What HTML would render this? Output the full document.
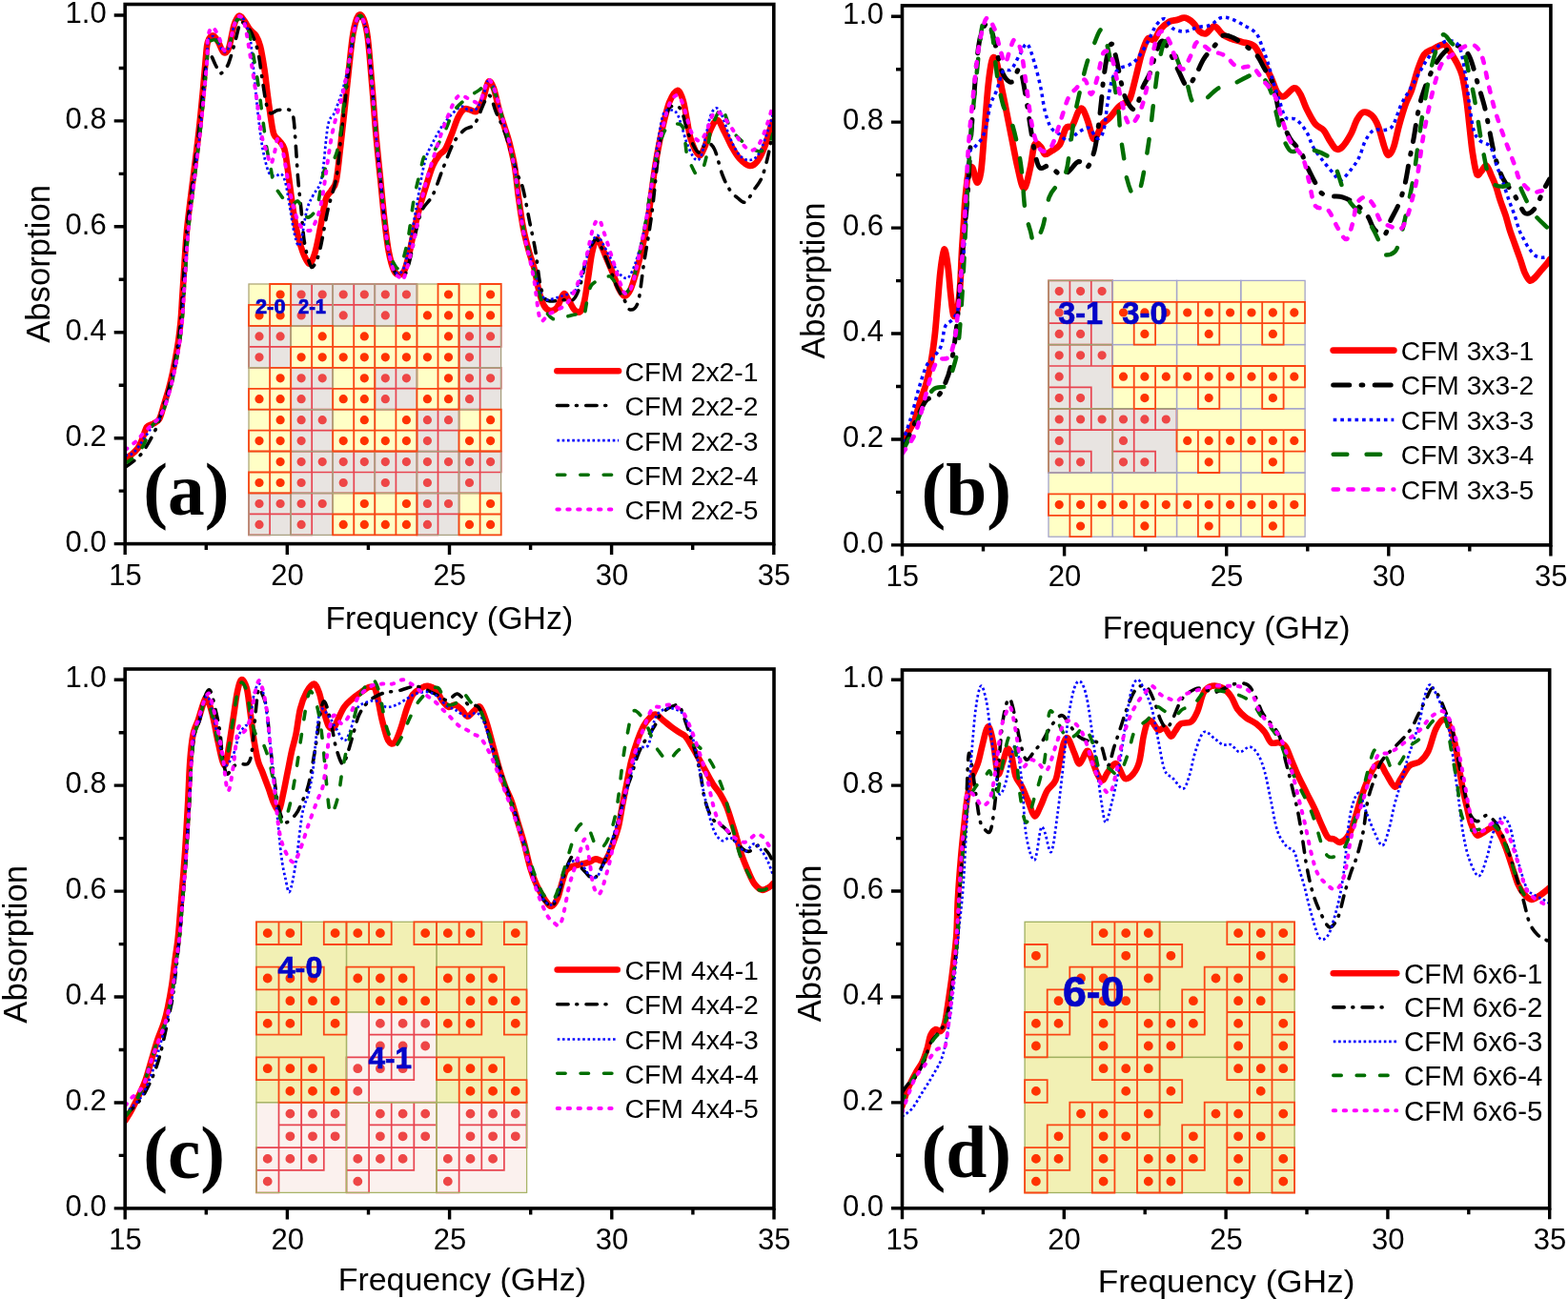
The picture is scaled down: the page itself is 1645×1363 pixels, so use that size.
<!DOCTYPE html>
<html><head><meta charset="utf-8"><title>Absorption spectra CFM</title>
<style>html,body{margin:0;padding:0;background:#fff;width:1645px;height:1363px;overflow:hidden}svg{display:block}</style>
</head><body>
<svg width="1645" height="1363" viewBox="0 0 1645 1363" font-family="'Liberation Sans', Arial, sans-serif">
<rect width="1645" height="1363" fill="#fff"/>
<rect x="261" y="298" width="44.6" height="44.4" fill="#ffffc6"/>
<rect x="305.1" y="298" width="44.6" height="44.4" fill="#e8e4e1"/>
<rect x="349.2" y="298" width="44.6" height="44.4" fill="#e8e4e1"/>
<rect x="393.3" y="298" width="44.6" height="44.4" fill="#e8e4e1"/>
<rect x="437.4" y="298" width="44.6" height="44.4" fill="#ffffc6"/>
<rect x="481.5" y="298" width="44.6" height="44.4" fill="#ffffc6"/>
<rect x="261" y="341.9" width="44.6" height="44.4" fill="#e8e4e1"/>
<rect x="305.1" y="341.9" width="44.6" height="44.4" fill="#ffffc6"/>
<rect x="349.2" y="341.9" width="44.6" height="44.4" fill="#ffffc6"/>
<rect x="393.3" y="341.9" width="44.6" height="44.4" fill="#ffffc6"/>
<rect x="437.4" y="341.9" width="44.6" height="44.4" fill="#ffffc6"/>
<rect x="481.5" y="341.9" width="44.6" height="44.4" fill="#e8e4e1"/>
<rect x="261" y="385.8" width="44.6" height="44.4" fill="#ffffc6"/>
<rect x="305.1" y="385.8" width="44.6" height="44.4" fill="#e8e4e1"/>
<rect x="349.2" y="385.8" width="44.6" height="44.4" fill="#ffffc6"/>
<rect x="393.3" y="385.8" width="44.6" height="44.4" fill="#e8e4e1"/>
<rect x="437.4" y="385.8" width="44.6" height="44.4" fill="#ffffc6"/>
<rect x="481.5" y="385.8" width="44.6" height="44.4" fill="#e8e4e1"/>
<rect x="261" y="429.7" width="44.6" height="44.4" fill="#ffffc6"/>
<rect x="305.1" y="429.7" width="44.6" height="44.4" fill="#e8e4e1"/>
<rect x="349.2" y="429.7" width="44.6" height="44.4" fill="#ffffc6"/>
<rect x="393.3" y="429.7" width="44.6" height="44.4" fill="#ffffc6"/>
<rect x="437.4" y="429.7" width="44.6" height="44.4" fill="#e8e4e1"/>
<rect x="481.5" y="429.7" width="44.6" height="44.4" fill="#ffffc6"/>
<rect x="261" y="473.6" width="44.6" height="44.4" fill="#ffffc6"/>
<rect x="305.1" y="473.6" width="44.6" height="44.4" fill="#e8e4e1"/>
<rect x="349.2" y="473.6" width="44.6" height="44.4" fill="#e8e4e1"/>
<rect x="393.3" y="473.6" width="44.6" height="44.4" fill="#e8e4e1"/>
<rect x="437.4" y="473.6" width="44.6" height="44.4" fill="#e8e4e1"/>
<rect x="481.5" y="473.6" width="44.6" height="44.4" fill="#e8e4e1"/>
<rect x="261" y="517.5" width="44.6" height="44.4" fill="#e8e4e1"/>
<rect x="305.1" y="517.5" width="44.6" height="44.4" fill="#e8e4e1"/>
<rect x="349.2" y="517.5" width="44.6" height="44.4" fill="#ffffc6"/>
<rect x="393.3" y="517.5" width="44.6" height="44.4" fill="#ffffc6"/>
<rect x="437.4" y="517.5" width="44.6" height="44.4" fill="#e8e4e1"/>
<rect x="481.5" y="517.5" width="44.6" height="44.4" fill="#ffffc6"/>
<path d="M305.1 298h22.1v21.9h-22.1zM327.1 298h22.1v21.9h-22.1zM305.1 319.9h22.1v21.9h-22.1zM349.2 298h22.1v21.9h-22.1zM371.2 298h22.1v21.9h-22.1zM349.2 319.9h22.1v21.9h-22.1zM393.3 298h22.1v21.9h-22.1zM415.4 298h22.1v21.9h-22.1zM393.3 319.9h22.1v21.9h-22.1zM261 341.9h22.1v21.9h-22.1zM283.1 341.9h22.1v21.9h-22.1zM261 363.9h22.1v21.9h-22.1zM481.5 341.9h22.1v21.9h-22.1zM503.6 341.9h22.1v21.9h-22.1zM481.5 363.9h22.1v21.9h-22.1zM305.1 385.8h22.1v21.9h-22.1zM327.1 385.8h22.1v21.9h-22.1zM305.1 407.8h22.1v21.9h-22.1zM393.3 385.8h22.1v21.9h-22.1zM415.4 385.8h22.1v21.9h-22.1zM393.3 407.8h22.1v21.9h-22.1zM481.5 385.8h22.1v21.9h-22.1zM503.6 385.8h22.1v21.9h-22.1zM481.5 407.8h22.1v21.9h-22.1zM305.1 429.7h22.1v21.9h-22.1zM327.1 429.7h22.1v21.9h-22.1zM305.1 451.6h22.1v21.9h-22.1zM437.4 429.7h22.1v21.9h-22.1zM459.5 429.7h22.1v21.9h-22.1zM437.4 451.6h22.1v21.9h-22.1zM305.1 473.6h22.1v21.9h-22.1zM327.1 473.6h22.1v21.9h-22.1zM305.1 495.5h22.1v21.9h-22.1zM349.2 473.6h22.1v21.9h-22.1zM371.2 473.6h22.1v21.9h-22.1zM349.2 495.5h22.1v21.9h-22.1zM393.3 473.6h22.1v21.9h-22.1zM415.4 473.6h22.1v21.9h-22.1zM393.3 495.5h22.1v21.9h-22.1zM437.4 473.6h22.1v21.9h-22.1zM459.5 473.6h22.1v21.9h-22.1zM437.4 495.5h22.1v21.9h-22.1zM481.5 473.6h22.1v21.9h-22.1zM503.6 473.6h22.1v21.9h-22.1zM481.5 495.5h22.1v21.9h-22.1zM261 517.5h22.1v21.9h-22.1zM283.1 517.5h22.1v21.9h-22.1zM261 539.5h22.1v21.9h-22.1zM305.1 517.5h22.1v21.9h-22.1zM327.1 517.5h22.1v21.9h-22.1zM305.1 539.5h22.1v21.9h-22.1zM437.4 517.5h22.1v21.9h-22.1zM459.5 517.5h22.1v21.9h-22.1zM437.4 539.5h22.1v21.9h-22.1z" fill="none" stroke="#e84450" stroke-width="1.7"/>
<rect x="261" y="298" width="44.1" height="43.9" fill="none" stroke="#b0a878" stroke-width="1.3"/>
<rect x="305.1" y="298" width="44.1" height="43.9" fill="none" stroke="#a8a080" stroke-width="1.3"/>
<rect x="349.2" y="298" width="44.1" height="43.9" fill="none" stroke="#a8a080" stroke-width="1.3"/>
<rect x="393.3" y="298" width="44.1" height="43.9" fill="none" stroke="#a8a080" stroke-width="1.3"/>
<rect x="437.4" y="298" width="44.1" height="43.9" fill="none" stroke="#b0a878" stroke-width="1.3"/>
<rect x="481.5" y="298" width="44.1" height="43.9" fill="none" stroke="#b0a878" stroke-width="1.3"/>
<rect x="261" y="341.9" width="44.1" height="43.9" fill="none" stroke="#a8a080" stroke-width="1.3"/>
<rect x="305.1" y="341.9" width="44.1" height="43.9" fill="none" stroke="#b0a878" stroke-width="1.3"/>
<rect x="349.2" y="341.9" width="44.1" height="43.9" fill="none" stroke="#b0a878" stroke-width="1.3"/>
<rect x="393.3" y="341.9" width="44.1" height="43.9" fill="none" stroke="#b0a878" stroke-width="1.3"/>
<rect x="437.4" y="341.9" width="44.1" height="43.9" fill="none" stroke="#b0a878" stroke-width="1.3"/>
<rect x="481.5" y="341.9" width="44.1" height="43.9" fill="none" stroke="#a8a080" stroke-width="1.3"/>
<rect x="261" y="385.8" width="44.1" height="43.9" fill="none" stroke="#b0a878" stroke-width="1.3"/>
<rect x="305.1" y="385.8" width="44.1" height="43.9" fill="none" stroke="#a8a080" stroke-width="1.3"/>
<rect x="349.2" y="385.8" width="44.1" height="43.9" fill="none" stroke="#b0a878" stroke-width="1.3"/>
<rect x="393.3" y="385.8" width="44.1" height="43.9" fill="none" stroke="#a8a080" stroke-width="1.3"/>
<rect x="437.4" y="385.8" width="44.1" height="43.9" fill="none" stroke="#b0a878" stroke-width="1.3"/>
<rect x="481.5" y="385.8" width="44.1" height="43.9" fill="none" stroke="#a8a080" stroke-width="1.3"/>
<rect x="261" y="429.7" width="44.1" height="43.9" fill="none" stroke="#b0a878" stroke-width="1.3"/>
<rect x="305.1" y="429.7" width="44.1" height="43.9" fill="none" stroke="#a8a080" stroke-width="1.3"/>
<rect x="349.2" y="429.7" width="44.1" height="43.9" fill="none" stroke="#b0a878" stroke-width="1.3"/>
<rect x="393.3" y="429.7" width="44.1" height="43.9" fill="none" stroke="#b0a878" stroke-width="1.3"/>
<rect x="437.4" y="429.7" width="44.1" height="43.9" fill="none" stroke="#a8a080" stroke-width="1.3"/>
<rect x="481.5" y="429.7" width="44.1" height="43.9" fill="none" stroke="#b0a878" stroke-width="1.3"/>
<rect x="261" y="473.6" width="44.1" height="43.9" fill="none" stroke="#b0a878" stroke-width="1.3"/>
<rect x="305.1" y="473.6" width="44.1" height="43.9" fill="none" stroke="#a8a080" stroke-width="1.3"/>
<rect x="349.2" y="473.6" width="44.1" height="43.9" fill="none" stroke="#a8a080" stroke-width="1.3"/>
<rect x="393.3" y="473.6" width="44.1" height="43.9" fill="none" stroke="#a8a080" stroke-width="1.3"/>
<rect x="437.4" y="473.6" width="44.1" height="43.9" fill="none" stroke="#a8a080" stroke-width="1.3"/>
<rect x="481.5" y="473.6" width="44.1" height="43.9" fill="none" stroke="#a8a080" stroke-width="1.3"/>
<rect x="261" y="517.5" width="44.1" height="43.9" fill="none" stroke="#a8a080" stroke-width="1.3"/>
<rect x="305.1" y="517.5" width="44.1" height="43.9" fill="none" stroke="#a8a080" stroke-width="1.3"/>
<rect x="349.2" y="517.5" width="44.1" height="43.9" fill="none" stroke="#b0a878" stroke-width="1.3"/>
<rect x="393.3" y="517.5" width="44.1" height="43.9" fill="none" stroke="#b0a878" stroke-width="1.3"/>
<rect x="437.4" y="517.5" width="44.1" height="43.9" fill="none" stroke="#a8a080" stroke-width="1.3"/>
<rect x="481.5" y="517.5" width="44.1" height="43.9" fill="none" stroke="#b0a878" stroke-width="1.3"/>
<path d="M283.1 298h22.1v21.9h-22.1zM261 319.9h22.1v21.9h-22.1zM283.1 319.9h22.1v21.9h-22.1zM459.5 298h22.1v21.9h-22.1zM437.4 319.9h22.1v21.9h-22.1zM459.5 319.9h22.1v21.9h-22.1zM503.6 298h22.1v21.9h-22.1zM481.5 319.9h22.1v21.9h-22.1zM503.6 319.9h22.1v21.9h-22.1zM327.1 341.9h22.1v21.9h-22.1zM305.1 363.9h22.1v21.9h-22.1zM327.1 363.9h22.1v21.9h-22.1zM371.2 341.9h22.1v21.9h-22.1zM349.2 363.9h22.1v21.9h-22.1zM371.2 363.9h22.1v21.9h-22.1zM415.4 341.9h22.1v21.9h-22.1zM393.3 363.9h22.1v21.9h-22.1zM415.4 363.9h22.1v21.9h-22.1zM459.5 341.9h22.1v21.9h-22.1zM437.4 363.9h22.1v21.9h-22.1zM459.5 363.9h22.1v21.9h-22.1zM283.1 385.8h22.1v21.9h-22.1zM261 407.8h22.1v21.9h-22.1zM283.1 407.8h22.1v21.9h-22.1zM371.2 385.8h22.1v21.9h-22.1zM349.2 407.8h22.1v21.9h-22.1zM371.2 407.8h22.1v21.9h-22.1zM459.5 385.8h22.1v21.9h-22.1zM437.4 407.8h22.1v21.9h-22.1zM459.5 407.8h22.1v21.9h-22.1zM283.1 429.7h22.1v21.9h-22.1zM261 451.6h22.1v21.9h-22.1zM283.1 451.6h22.1v21.9h-22.1zM371.2 429.7h22.1v21.9h-22.1zM349.2 451.6h22.1v21.9h-22.1zM371.2 451.6h22.1v21.9h-22.1zM415.4 429.7h22.1v21.9h-22.1zM393.3 451.6h22.1v21.9h-22.1zM415.4 451.6h22.1v21.9h-22.1zM503.6 429.7h22.1v21.9h-22.1zM481.5 451.6h22.1v21.9h-22.1zM503.6 451.6h22.1v21.9h-22.1zM283.1 473.6h22.1v21.9h-22.1zM261 495.5h22.1v21.9h-22.1zM283.1 495.5h22.1v21.9h-22.1zM371.2 517.5h22.1v21.9h-22.1zM349.2 539.5h22.1v21.9h-22.1zM371.2 539.5h22.1v21.9h-22.1zM415.4 517.5h22.1v21.9h-22.1zM393.3 539.5h22.1v21.9h-22.1zM415.4 539.5h22.1v21.9h-22.1zM503.6 517.5h22.1v21.9h-22.1zM481.5 539.5h22.1v21.9h-22.1zM503.6 539.5h22.1v21.9h-22.1z" fill="none" stroke="#fa4614" stroke-width="1.8"/>
<path d="M311.5 309a4.6 4.6 0 1 0 9.2 0a4.6 4.6 0 1 0 -9.2 0M333.6 309a4.6 4.6 0 1 0 9.2 0a4.6 4.6 0 1 0 -9.2 0M311.5 330.9a4.6 4.6 0 1 0 9.2 0a4.6 4.6 0 1 0 -9.2 0M355.6 309a4.6 4.6 0 1 0 9.2 0a4.6 4.6 0 1 0 -9.2 0M377.7 309a4.6 4.6 0 1 0 9.2 0a4.6 4.6 0 1 0 -9.2 0M355.6 330.9a4.6 4.6 0 1 0 9.2 0a4.6 4.6 0 1 0 -9.2 0M399.7 309a4.6 4.6 0 1 0 9.2 0a4.6 4.6 0 1 0 -9.2 0M421.8 309a4.6 4.6 0 1 0 9.2 0a4.6 4.6 0 1 0 -9.2 0M399.7 330.9a4.6 4.6 0 1 0 9.2 0a4.6 4.6 0 1 0 -9.2 0M267.4 352.9a4.6 4.6 0 1 0 9.2 0a4.6 4.6 0 1 0 -9.2 0M289.5 352.9a4.6 4.6 0 1 0 9.2 0a4.6 4.6 0 1 0 -9.2 0M267.4 374.8a4.6 4.6 0 1 0 9.2 0a4.6 4.6 0 1 0 -9.2 0M487.9 352.9a4.6 4.6 0 1 0 9.2 0a4.6 4.6 0 1 0 -9.2 0M510 352.9a4.6 4.6 0 1 0 9.2 0a4.6 4.6 0 1 0 -9.2 0M487.9 374.8a4.6 4.6 0 1 0 9.2 0a4.6 4.6 0 1 0 -9.2 0M311.5 396.8a4.6 4.6 0 1 0 9.2 0a4.6 4.6 0 1 0 -9.2 0M333.6 396.8a4.6 4.6 0 1 0 9.2 0a4.6 4.6 0 1 0 -9.2 0M311.5 418.7a4.6 4.6 0 1 0 9.2 0a4.6 4.6 0 1 0 -9.2 0M399.7 396.8a4.6 4.6 0 1 0 9.2 0a4.6 4.6 0 1 0 -9.2 0M421.8 396.8a4.6 4.6 0 1 0 9.2 0a4.6 4.6 0 1 0 -9.2 0M399.7 418.7a4.6 4.6 0 1 0 9.2 0a4.6 4.6 0 1 0 -9.2 0M487.9 396.8a4.6 4.6 0 1 0 9.2 0a4.6 4.6 0 1 0 -9.2 0M510 396.8a4.6 4.6 0 1 0 9.2 0a4.6 4.6 0 1 0 -9.2 0M487.9 418.7a4.6 4.6 0 1 0 9.2 0a4.6 4.6 0 1 0 -9.2 0M311.5 440.7a4.6 4.6 0 1 0 9.2 0a4.6 4.6 0 1 0 -9.2 0M333.6 440.7a4.6 4.6 0 1 0 9.2 0a4.6 4.6 0 1 0 -9.2 0M311.5 462.6a4.6 4.6 0 1 0 9.2 0a4.6 4.6 0 1 0 -9.2 0M443.8 440.7a4.6 4.6 0 1 0 9.2 0a4.6 4.6 0 1 0 -9.2 0M465.9 440.7a4.6 4.6 0 1 0 9.2 0a4.6 4.6 0 1 0 -9.2 0M443.8 462.6a4.6 4.6 0 1 0 9.2 0a4.6 4.6 0 1 0 -9.2 0M311.5 484.6a4.6 4.6 0 1 0 9.2 0a4.6 4.6 0 1 0 -9.2 0M333.6 484.6a4.6 4.6 0 1 0 9.2 0a4.6 4.6 0 1 0 -9.2 0M311.5 506.5a4.6 4.6 0 1 0 9.2 0a4.6 4.6 0 1 0 -9.2 0M355.6 484.6a4.6 4.6 0 1 0 9.2 0a4.6 4.6 0 1 0 -9.2 0M377.7 484.6a4.6 4.6 0 1 0 9.2 0a4.6 4.6 0 1 0 -9.2 0M355.6 506.5a4.6 4.6 0 1 0 9.2 0a4.6 4.6 0 1 0 -9.2 0M399.7 484.6a4.6 4.6 0 1 0 9.2 0a4.6 4.6 0 1 0 -9.2 0M421.8 484.6a4.6 4.6 0 1 0 9.2 0a4.6 4.6 0 1 0 -9.2 0M399.7 506.5a4.6 4.6 0 1 0 9.2 0a4.6 4.6 0 1 0 -9.2 0M443.8 484.6a4.6 4.6 0 1 0 9.2 0a4.6 4.6 0 1 0 -9.2 0M465.9 484.6a4.6 4.6 0 1 0 9.2 0a4.6 4.6 0 1 0 -9.2 0M443.8 506.5a4.6 4.6 0 1 0 9.2 0a4.6 4.6 0 1 0 -9.2 0M487.9 484.6a4.6 4.6 0 1 0 9.2 0a4.6 4.6 0 1 0 -9.2 0M510 484.6a4.6 4.6 0 1 0 9.2 0a4.6 4.6 0 1 0 -9.2 0M487.9 506.5a4.6 4.6 0 1 0 9.2 0a4.6 4.6 0 1 0 -9.2 0M267.4 528.5a4.6 4.6 0 1 0 9.2 0a4.6 4.6 0 1 0 -9.2 0M289.5 528.5a4.6 4.6 0 1 0 9.2 0a4.6 4.6 0 1 0 -9.2 0M267.4 550.4a4.6 4.6 0 1 0 9.2 0a4.6 4.6 0 1 0 -9.2 0M311.5 528.5a4.6 4.6 0 1 0 9.2 0a4.6 4.6 0 1 0 -9.2 0M333.6 528.5a4.6 4.6 0 1 0 9.2 0a4.6 4.6 0 1 0 -9.2 0M311.5 550.4a4.6 4.6 0 1 0 9.2 0a4.6 4.6 0 1 0 -9.2 0M443.8 528.5a4.6 4.6 0 1 0 9.2 0a4.6 4.6 0 1 0 -9.2 0M465.9 528.5a4.6 4.6 0 1 0 9.2 0a4.6 4.6 0 1 0 -9.2 0M443.8 550.4a4.6 4.6 0 1 0 9.2 0a4.6 4.6 0 1 0 -9.2 0" fill="#ee4646"/>
<path d="M289.5 309a4.6 4.6 0 1 0 9.2 0a4.6 4.6 0 1 0 -9.2 0M267.4 330.9a4.6 4.6 0 1 0 9.2 0a4.6 4.6 0 1 0 -9.2 0M289.5 330.9a4.6 4.6 0 1 0 9.2 0a4.6 4.6 0 1 0 -9.2 0M465.9 309a4.6 4.6 0 1 0 9.2 0a4.6 4.6 0 1 0 -9.2 0M443.8 330.9a4.6 4.6 0 1 0 9.2 0a4.6 4.6 0 1 0 -9.2 0M465.9 330.9a4.6 4.6 0 1 0 9.2 0a4.6 4.6 0 1 0 -9.2 0M510 309a4.6 4.6 0 1 0 9.2 0a4.6 4.6 0 1 0 -9.2 0M487.9 330.9a4.6 4.6 0 1 0 9.2 0a4.6 4.6 0 1 0 -9.2 0M510 330.9a4.6 4.6 0 1 0 9.2 0a4.6 4.6 0 1 0 -9.2 0M333.6 352.9a4.6 4.6 0 1 0 9.2 0a4.6 4.6 0 1 0 -9.2 0M311.5 374.8a4.6 4.6 0 1 0 9.2 0a4.6 4.6 0 1 0 -9.2 0M333.6 374.8a4.6 4.6 0 1 0 9.2 0a4.6 4.6 0 1 0 -9.2 0M377.7 352.9a4.6 4.6 0 1 0 9.2 0a4.6 4.6 0 1 0 -9.2 0M355.6 374.8a4.6 4.6 0 1 0 9.2 0a4.6 4.6 0 1 0 -9.2 0M377.7 374.8a4.6 4.6 0 1 0 9.2 0a4.6 4.6 0 1 0 -9.2 0M421.8 352.9a4.6 4.6 0 1 0 9.2 0a4.6 4.6 0 1 0 -9.2 0M399.7 374.8a4.6 4.6 0 1 0 9.2 0a4.6 4.6 0 1 0 -9.2 0M421.8 374.8a4.6 4.6 0 1 0 9.2 0a4.6 4.6 0 1 0 -9.2 0M465.9 352.9a4.6 4.6 0 1 0 9.2 0a4.6 4.6 0 1 0 -9.2 0M443.8 374.8a4.6 4.6 0 1 0 9.2 0a4.6 4.6 0 1 0 -9.2 0M465.9 374.8a4.6 4.6 0 1 0 9.2 0a4.6 4.6 0 1 0 -9.2 0M289.5 396.8a4.6 4.6 0 1 0 9.2 0a4.6 4.6 0 1 0 -9.2 0M267.4 418.7a4.6 4.6 0 1 0 9.2 0a4.6 4.6 0 1 0 -9.2 0M289.5 418.7a4.6 4.6 0 1 0 9.2 0a4.6 4.6 0 1 0 -9.2 0M377.7 396.8a4.6 4.6 0 1 0 9.2 0a4.6 4.6 0 1 0 -9.2 0M355.6 418.7a4.6 4.6 0 1 0 9.2 0a4.6 4.6 0 1 0 -9.2 0M377.7 418.7a4.6 4.6 0 1 0 9.2 0a4.6 4.6 0 1 0 -9.2 0M465.9 396.8a4.6 4.6 0 1 0 9.2 0a4.6 4.6 0 1 0 -9.2 0M443.8 418.7a4.6 4.6 0 1 0 9.2 0a4.6 4.6 0 1 0 -9.2 0M465.9 418.7a4.6 4.6 0 1 0 9.2 0a4.6 4.6 0 1 0 -9.2 0M289.5 440.7a4.6 4.6 0 1 0 9.2 0a4.6 4.6 0 1 0 -9.2 0M267.4 462.6a4.6 4.6 0 1 0 9.2 0a4.6 4.6 0 1 0 -9.2 0M289.5 462.6a4.6 4.6 0 1 0 9.2 0a4.6 4.6 0 1 0 -9.2 0M377.7 440.7a4.6 4.6 0 1 0 9.2 0a4.6 4.6 0 1 0 -9.2 0M355.6 462.6a4.6 4.6 0 1 0 9.2 0a4.6 4.6 0 1 0 -9.2 0M377.7 462.6a4.6 4.6 0 1 0 9.2 0a4.6 4.6 0 1 0 -9.2 0M421.8 440.7a4.6 4.6 0 1 0 9.2 0a4.6 4.6 0 1 0 -9.2 0M399.7 462.6a4.6 4.6 0 1 0 9.2 0a4.6 4.6 0 1 0 -9.2 0M421.8 462.6a4.6 4.6 0 1 0 9.2 0a4.6 4.6 0 1 0 -9.2 0M510 440.7a4.6 4.6 0 1 0 9.2 0a4.6 4.6 0 1 0 -9.2 0M487.9 462.6a4.6 4.6 0 1 0 9.2 0a4.6 4.6 0 1 0 -9.2 0M510 462.6a4.6 4.6 0 1 0 9.2 0a4.6 4.6 0 1 0 -9.2 0M289.5 484.6a4.6 4.6 0 1 0 9.2 0a4.6 4.6 0 1 0 -9.2 0M267.4 506.5a4.6 4.6 0 1 0 9.2 0a4.6 4.6 0 1 0 -9.2 0M289.5 506.5a4.6 4.6 0 1 0 9.2 0a4.6 4.6 0 1 0 -9.2 0M377.7 528.5a4.6 4.6 0 1 0 9.2 0a4.6 4.6 0 1 0 -9.2 0M355.6 550.4a4.6 4.6 0 1 0 9.2 0a4.6 4.6 0 1 0 -9.2 0M377.7 550.4a4.6 4.6 0 1 0 9.2 0a4.6 4.6 0 1 0 -9.2 0M421.8 528.5a4.6 4.6 0 1 0 9.2 0a4.6 4.6 0 1 0 -9.2 0M399.7 550.4a4.6 4.6 0 1 0 9.2 0a4.6 4.6 0 1 0 -9.2 0M421.8 550.4a4.6 4.6 0 1 0 9.2 0a4.6 4.6 0 1 0 -9.2 0M510 528.5a4.6 4.6 0 1 0 9.2 0a4.6 4.6 0 1 0 -9.2 0M487.9 550.4a4.6 4.6 0 1 0 9.2 0a4.6 4.6 0 1 0 -9.2 0M510 550.4a4.6 4.6 0 1 0 9.2 0a4.6 4.6 0 1 0 -9.2 0" fill="#ff3300"/>
<text x="268" y="328.8" font-family="'Liberation Sans', Arial, sans-serif" font-weight="bold" font-size="21.2" fill="#0404c8" stroke="#0404c8" stroke-width="0.7" textLength="31.5" lengthAdjust="spacingAndGlyphs">2-0</text>
<text x="313" y="328.8" font-family="'Liberation Sans', Arial, sans-serif" font-weight="bold" font-size="21.2" fill="#0404c8" stroke="#0404c8" stroke-width="0.7" textLength="29" lengthAdjust="spacingAndGlyphs">2-1</text>
<rect x="1100" y="294.4" width="67.8" height="67.7" fill="#e8e4e1"/>
<rect x="1167.3" y="294.4" width="67.8" height="67.7" fill="#ffffc6"/>
<rect x="1234.5" y="294.4" width="67.8" height="67.7" fill="#ffffc6"/>
<rect x="1301.8" y="294.4" width="67.8" height="67.7" fill="#ffffc6"/>
<rect x="1100" y="361.6" width="67.8" height="67.7" fill="#e8e4e1"/>
<rect x="1167.3" y="361.6" width="67.8" height="67.7" fill="#ffffc6"/>
<rect x="1234.5" y="361.6" width="67.8" height="67.7" fill="#ffffc6"/>
<rect x="1301.8" y="361.6" width="67.8" height="67.7" fill="#ffffc6"/>
<rect x="1100" y="428.8" width="67.8" height="67.7" fill="#e8e4e1"/>
<rect x="1167.3" y="428.8" width="67.8" height="67.7" fill="#e8e4e1"/>
<rect x="1234.5" y="428.8" width="67.8" height="67.7" fill="#ffffc6"/>
<rect x="1301.8" y="428.8" width="67.8" height="67.7" fill="#ffffc6"/>
<rect x="1100" y="496" width="67.8" height="67.7" fill="#ffffc6"/>
<rect x="1167.3" y="496" width="67.8" height="67.7" fill="#ffffc6"/>
<rect x="1234.5" y="496" width="67.8" height="67.7" fill="#ffffc6"/>
<rect x="1301.8" y="496" width="67.8" height="67.7" fill="#ffffc6"/>
<path d="M1100 294.4h22.4v22.4h-22.4zM1122.4 294.4h22.4v22.4h-22.4zM1144.8 294.4h22.4v22.4h-22.4zM1100 316.8h22.4v22.4h-22.4zM1100 339.2h22.4v22.4h-22.4zM1122.4 339.2h22.4v22.4h-22.4zM1100 361.6h22.4v22.4h-22.4zM1122.4 361.6h22.4v22.4h-22.4zM1144.8 361.6h22.4v22.4h-22.4zM1100 384h22.4v22.4h-22.4zM1100 406.4h22.4v22.4h-22.4zM1122.4 406.4h22.4v22.4h-22.4zM1100 428.8h22.4v22.4h-22.4zM1122.4 428.8h22.4v22.4h-22.4zM1144.8 428.8h22.4v22.4h-22.4zM1100 451.2h22.4v22.4h-22.4zM1100 473.6h22.4v22.4h-22.4zM1122.4 473.6h22.4v22.4h-22.4zM1167.3 428.8h22.4v22.4h-22.4zM1189.7 428.8h22.4v22.4h-22.4zM1212.1 428.8h22.4v22.4h-22.4zM1167.3 451.2h22.4v22.4h-22.4zM1167.3 473.6h22.4v22.4h-22.4zM1189.7 473.6h22.4v22.4h-22.4z" fill="none" stroke="#e84450" stroke-width="1.7"/>
<rect x="1100" y="294.4" width="67.3" height="67.2" fill="none" stroke="#a0a070" stroke-width="1.3"/>
<rect x="1167.3" y="294.4" width="67.3" height="67.2" fill="none" stroke="#a4a4cc" stroke-width="1.3"/>
<rect x="1234.5" y="294.4" width="67.3" height="67.2" fill="none" stroke="#a4a4cc" stroke-width="1.3"/>
<rect x="1301.8" y="294.4" width="67.3" height="67.2" fill="none" stroke="#a4a4cc" stroke-width="1.3"/>
<rect x="1100" y="361.6" width="67.3" height="67.2" fill="none" stroke="#a0a070" stroke-width="1.3"/>
<rect x="1167.3" y="361.6" width="67.3" height="67.2" fill="none" stroke="#a4a4cc" stroke-width="1.3"/>
<rect x="1234.5" y="361.6" width="67.3" height="67.2" fill="none" stroke="#a4a4cc" stroke-width="1.3"/>
<rect x="1301.8" y="361.6" width="67.3" height="67.2" fill="none" stroke="#a4a4cc" stroke-width="1.3"/>
<rect x="1100" y="428.8" width="67.3" height="67.2" fill="none" stroke="#a0a070" stroke-width="1.3"/>
<rect x="1167.3" y="428.8" width="67.3" height="67.2" fill="none" stroke="#a0a070" stroke-width="1.3"/>
<rect x="1234.5" y="428.8" width="67.3" height="67.2" fill="none" stroke="#a4a4cc" stroke-width="1.3"/>
<rect x="1301.8" y="428.8" width="67.3" height="67.2" fill="none" stroke="#a4a4cc" stroke-width="1.3"/>
<rect x="1100" y="496" width="67.3" height="67.2" fill="none" stroke="#a4a4cc" stroke-width="1.3"/>
<rect x="1167.3" y="496" width="67.3" height="67.2" fill="none" stroke="#a4a4cc" stroke-width="1.3"/>
<rect x="1234.5" y="496" width="67.3" height="67.2" fill="none" stroke="#a4a4cc" stroke-width="1.3"/>
<rect x="1301.8" y="496" width="67.3" height="67.2" fill="none" stroke="#a4a4cc" stroke-width="1.3"/>
<path d="M1167.3 316.8h22.4v22.4h-22.4zM1189.7 316.8h22.4v22.4h-22.4zM1212.1 316.8h22.4v22.4h-22.4zM1189.7 339.2h22.4v22.4h-22.4zM1234.5 316.8h22.4v22.4h-22.4zM1256.9 316.8h22.4v22.4h-22.4zM1279.4 316.8h22.4v22.4h-22.4zM1256.9 339.2h22.4v22.4h-22.4zM1301.8 316.8h22.4v22.4h-22.4zM1324.2 316.8h22.4v22.4h-22.4zM1346.6 316.8h22.4v22.4h-22.4zM1324.2 339.2h22.4v22.4h-22.4zM1167.3 384h22.4v22.4h-22.4zM1189.7 384h22.4v22.4h-22.4zM1212.1 384h22.4v22.4h-22.4zM1189.7 406.4h22.4v22.4h-22.4zM1234.5 384h22.4v22.4h-22.4zM1256.9 384h22.4v22.4h-22.4zM1279.4 384h22.4v22.4h-22.4zM1256.9 406.4h22.4v22.4h-22.4zM1301.8 384h22.4v22.4h-22.4zM1324.2 384h22.4v22.4h-22.4zM1346.6 384h22.4v22.4h-22.4zM1324.2 406.4h22.4v22.4h-22.4zM1234.5 451.2h22.4v22.4h-22.4zM1256.9 451.2h22.4v22.4h-22.4zM1279.4 451.2h22.4v22.4h-22.4zM1256.9 473.6h22.4v22.4h-22.4zM1301.8 451.2h22.4v22.4h-22.4zM1324.2 451.2h22.4v22.4h-22.4zM1346.6 451.2h22.4v22.4h-22.4zM1324.2 473.6h22.4v22.4h-22.4zM1100 518.4h22.4v22.4h-22.4zM1122.4 518.4h22.4v22.4h-22.4zM1144.8 518.4h22.4v22.4h-22.4zM1122.4 540.8h22.4v22.4h-22.4zM1167.3 518.4h22.4v22.4h-22.4zM1189.7 518.4h22.4v22.4h-22.4zM1212.1 518.4h22.4v22.4h-22.4zM1189.7 540.8h22.4v22.4h-22.4zM1234.5 518.4h22.4v22.4h-22.4zM1256.9 518.4h22.4v22.4h-22.4zM1279.4 518.4h22.4v22.4h-22.4zM1256.9 540.8h22.4v22.4h-22.4zM1301.8 518.4h22.4v22.4h-22.4zM1324.2 518.4h22.4v22.4h-22.4zM1346.6 518.4h22.4v22.4h-22.4zM1324.2 540.8h22.4v22.4h-22.4z" fill="none" stroke="#fa4614" stroke-width="1.8"/>
<path d="M1106.6 305.6a4.6 4.6 0 1 0 9.2 0a4.6 4.6 0 1 0 -9.2 0M1129 305.6a4.6 4.6 0 1 0 9.2 0a4.6 4.6 0 1 0 -9.2 0M1151.5 305.6a4.6 4.6 0 1 0 9.2 0a4.6 4.6 0 1 0 -9.2 0M1106.6 328a4.6 4.6 0 1 0 9.2 0a4.6 4.6 0 1 0 -9.2 0M1106.6 350.4a4.6 4.6 0 1 0 9.2 0a4.6 4.6 0 1 0 -9.2 0M1129 350.4a4.6 4.6 0 1 0 9.2 0a4.6 4.6 0 1 0 -9.2 0M1106.6 372.8a4.6 4.6 0 1 0 9.2 0a4.6 4.6 0 1 0 -9.2 0M1129 372.8a4.6 4.6 0 1 0 9.2 0a4.6 4.6 0 1 0 -9.2 0M1151.5 372.8a4.6 4.6 0 1 0 9.2 0a4.6 4.6 0 1 0 -9.2 0M1106.6 395.2a4.6 4.6 0 1 0 9.2 0a4.6 4.6 0 1 0 -9.2 0M1106.6 417.6a4.6 4.6 0 1 0 9.2 0a4.6 4.6 0 1 0 -9.2 0M1129 417.6a4.6 4.6 0 1 0 9.2 0a4.6 4.6 0 1 0 -9.2 0M1106.6 440a4.6 4.6 0 1 0 9.2 0a4.6 4.6 0 1 0 -9.2 0M1129 440a4.6 4.6 0 1 0 9.2 0a4.6 4.6 0 1 0 -9.2 0M1151.5 440a4.6 4.6 0 1 0 9.2 0a4.6 4.6 0 1 0 -9.2 0M1106.6 462.4a4.6 4.6 0 1 0 9.2 0a4.6 4.6 0 1 0 -9.2 0M1106.6 484.8a4.6 4.6 0 1 0 9.2 0a4.6 4.6 0 1 0 -9.2 0M1129 484.8a4.6 4.6 0 1 0 9.2 0a4.6 4.6 0 1 0 -9.2 0M1173.9 440a4.6 4.6 0 1 0 9.2 0a4.6 4.6 0 1 0 -9.2 0M1196.3 440a4.6 4.6 0 1 0 9.2 0a4.6 4.6 0 1 0 -9.2 0M1218.7 440a4.6 4.6 0 1 0 9.2 0a4.6 4.6 0 1 0 -9.2 0M1173.9 462.4a4.6 4.6 0 1 0 9.2 0a4.6 4.6 0 1 0 -9.2 0M1173.9 484.8a4.6 4.6 0 1 0 9.2 0a4.6 4.6 0 1 0 -9.2 0M1196.3 484.8a4.6 4.6 0 1 0 9.2 0a4.6 4.6 0 1 0 -9.2 0" fill="#ee4646"/>
<path d="M1173.9 328a4.6 4.6 0 1 0 9.2 0a4.6 4.6 0 1 0 -9.2 0M1196.3 328a4.6 4.6 0 1 0 9.2 0a4.6 4.6 0 1 0 -9.2 0M1218.7 328a4.6 4.6 0 1 0 9.2 0a4.6 4.6 0 1 0 -9.2 0M1196.3 350.4a4.6 4.6 0 1 0 9.2 0a4.6 4.6 0 1 0 -9.2 0M1241.1 328a4.6 4.6 0 1 0 9.2 0a4.6 4.6 0 1 0 -9.2 0M1263.6 328a4.6 4.6 0 1 0 9.2 0a4.6 4.6 0 1 0 -9.2 0M1286 328a4.6 4.6 0 1 0 9.2 0a4.6 4.6 0 1 0 -9.2 0M1263.6 350.4a4.6 4.6 0 1 0 9.2 0a4.6 4.6 0 1 0 -9.2 0M1308.4 328a4.6 4.6 0 1 0 9.2 0a4.6 4.6 0 1 0 -9.2 0M1330.8 328a4.6 4.6 0 1 0 9.2 0a4.6 4.6 0 1 0 -9.2 0M1353.2 328a4.6 4.6 0 1 0 9.2 0a4.6 4.6 0 1 0 -9.2 0M1330.8 350.4a4.6 4.6 0 1 0 9.2 0a4.6 4.6 0 1 0 -9.2 0M1173.9 395.2a4.6 4.6 0 1 0 9.2 0a4.6 4.6 0 1 0 -9.2 0M1196.3 395.2a4.6 4.6 0 1 0 9.2 0a4.6 4.6 0 1 0 -9.2 0M1218.7 395.2a4.6 4.6 0 1 0 9.2 0a4.6 4.6 0 1 0 -9.2 0M1196.3 417.6a4.6 4.6 0 1 0 9.2 0a4.6 4.6 0 1 0 -9.2 0M1241.1 395.2a4.6 4.6 0 1 0 9.2 0a4.6 4.6 0 1 0 -9.2 0M1263.6 395.2a4.6 4.6 0 1 0 9.2 0a4.6 4.6 0 1 0 -9.2 0M1286 395.2a4.6 4.6 0 1 0 9.2 0a4.6 4.6 0 1 0 -9.2 0M1263.6 417.6a4.6 4.6 0 1 0 9.2 0a4.6 4.6 0 1 0 -9.2 0M1308.4 395.2a4.6 4.6 0 1 0 9.2 0a4.6 4.6 0 1 0 -9.2 0M1330.8 395.2a4.6 4.6 0 1 0 9.2 0a4.6 4.6 0 1 0 -9.2 0M1353.2 395.2a4.6 4.6 0 1 0 9.2 0a4.6 4.6 0 1 0 -9.2 0M1330.8 417.6a4.6 4.6 0 1 0 9.2 0a4.6 4.6 0 1 0 -9.2 0M1241.1 462.4a4.6 4.6 0 1 0 9.2 0a4.6 4.6 0 1 0 -9.2 0M1263.6 462.4a4.6 4.6 0 1 0 9.2 0a4.6 4.6 0 1 0 -9.2 0M1286 462.4a4.6 4.6 0 1 0 9.2 0a4.6 4.6 0 1 0 -9.2 0M1263.6 484.8a4.6 4.6 0 1 0 9.2 0a4.6 4.6 0 1 0 -9.2 0M1308.4 462.4a4.6 4.6 0 1 0 9.2 0a4.6 4.6 0 1 0 -9.2 0M1330.8 462.4a4.6 4.6 0 1 0 9.2 0a4.6 4.6 0 1 0 -9.2 0M1353.2 462.4a4.6 4.6 0 1 0 9.2 0a4.6 4.6 0 1 0 -9.2 0M1330.8 484.8a4.6 4.6 0 1 0 9.2 0a4.6 4.6 0 1 0 -9.2 0M1106.6 529.6a4.6 4.6 0 1 0 9.2 0a4.6 4.6 0 1 0 -9.2 0M1129 529.6a4.6 4.6 0 1 0 9.2 0a4.6 4.6 0 1 0 -9.2 0M1151.5 529.6a4.6 4.6 0 1 0 9.2 0a4.6 4.6 0 1 0 -9.2 0M1129 552a4.6 4.6 0 1 0 9.2 0a4.6 4.6 0 1 0 -9.2 0M1173.9 529.6a4.6 4.6 0 1 0 9.2 0a4.6 4.6 0 1 0 -9.2 0M1196.3 529.6a4.6 4.6 0 1 0 9.2 0a4.6 4.6 0 1 0 -9.2 0M1218.7 529.6a4.6 4.6 0 1 0 9.2 0a4.6 4.6 0 1 0 -9.2 0M1196.3 552a4.6 4.6 0 1 0 9.2 0a4.6 4.6 0 1 0 -9.2 0M1241.1 529.6a4.6 4.6 0 1 0 9.2 0a4.6 4.6 0 1 0 -9.2 0M1263.6 529.6a4.6 4.6 0 1 0 9.2 0a4.6 4.6 0 1 0 -9.2 0M1286 529.6a4.6 4.6 0 1 0 9.2 0a4.6 4.6 0 1 0 -9.2 0M1263.6 552a4.6 4.6 0 1 0 9.2 0a4.6 4.6 0 1 0 -9.2 0M1308.4 529.6a4.6 4.6 0 1 0 9.2 0a4.6 4.6 0 1 0 -9.2 0M1330.8 529.6a4.6 4.6 0 1 0 9.2 0a4.6 4.6 0 1 0 -9.2 0M1353.2 529.6a4.6 4.6 0 1 0 9.2 0a4.6 4.6 0 1 0 -9.2 0M1330.8 552a4.6 4.6 0 1 0 9.2 0a4.6 4.6 0 1 0 -9.2 0" fill="#ff3300"/>
<text x="1110.3" y="340.4" font-family="'Liberation Sans', Arial, sans-serif" font-weight="bold" font-size="33.5" fill="#0404c8" stroke="#0404c8" stroke-width="0.7" textLength="46.8" lengthAdjust="spacingAndGlyphs">3-1</text>
<text x="1177.3" y="340.4" font-family="'Liberation Sans', Arial, sans-serif" font-weight="bold" font-size="33.5" fill="#0404c8" stroke="#0404c8" stroke-width="0.7" textLength="47.5" lengthAdjust="spacingAndGlyphs">3-0</text>
<rect x="268.9" y="967.3" width="95.1" height="95.2" fill="#f2f0b4"/>
<rect x="363.5" y="967.3" width="95.1" height="95.2" fill="#f2f0b4"/>
<rect x="458" y="967.3" width="95.1" height="95.2" fill="#f2f0b4"/>
<rect x="268.9" y="1062" width="95.1" height="95.2" fill="#f2f0b4"/>
<rect x="363.5" y="1062" width="95.1" height="95.2" fill="#fbf1ee"/>
<rect x="458" y="1062" width="95.1" height="95.2" fill="#f2f0b4"/>
<rect x="268.9" y="1156.7" width="95.1" height="95.2" fill="#fbf1ee"/>
<rect x="363.5" y="1156.7" width="95.1" height="95.2" fill="#fbf1ee"/>
<rect x="458" y="1156.7" width="95.1" height="95.2" fill="#fbf1ee"/>
<path d="M387.1 1062h23.6v23.7h-23.6zM410.7 1062h23.6v23.7h-23.6zM434.4 1062h23.6v23.7h-23.6zM387.1 1085.7h23.6v23.7h-23.6zM410.7 1085.7h23.6v23.7h-23.6zM434.4 1085.7h23.6v23.7h-23.6zM363.5 1109.4h23.6v23.7h-23.6zM387.1 1109.4h23.6v23.7h-23.6zM410.7 1109.4h23.6v23.7h-23.6zM363.5 1133.1h23.6v23.7h-23.6zM292.5 1156.7h23.6v23.7h-23.6zM316.2 1156.7h23.6v23.7h-23.6zM339.8 1156.7h23.6v23.7h-23.6zM292.5 1180.4h23.6v23.7h-23.6zM316.2 1180.4h23.6v23.7h-23.6zM339.8 1180.4h23.6v23.7h-23.6zM268.9 1204.1h23.6v23.7h-23.6zM292.5 1204.1h23.6v23.7h-23.6zM316.2 1204.1h23.6v23.7h-23.6zM268.9 1227.8h23.6v23.7h-23.6zM387.1 1156.7h23.6v23.7h-23.6zM410.7 1156.7h23.6v23.7h-23.6zM434.4 1156.7h23.6v23.7h-23.6zM387.1 1180.4h23.6v23.7h-23.6zM410.7 1180.4h23.6v23.7h-23.6zM434.4 1180.4h23.6v23.7h-23.6zM363.5 1204.1h23.6v23.7h-23.6zM387.1 1204.1h23.6v23.7h-23.6zM410.7 1204.1h23.6v23.7h-23.6zM363.5 1227.8h23.6v23.7h-23.6zM481.7 1156.7h23.6v23.7h-23.6zM505.3 1156.7h23.6v23.7h-23.6zM528.9 1156.7h23.6v23.7h-23.6zM481.7 1180.4h23.6v23.7h-23.6zM505.3 1180.4h23.6v23.7h-23.6zM528.9 1180.4h23.6v23.7h-23.6zM458 1204.1h23.6v23.7h-23.6zM481.7 1204.1h23.6v23.7h-23.6zM505.3 1204.1h23.6v23.7h-23.6zM458 1227.8h23.6v23.7h-23.6z" fill="none" stroke="#e84450" stroke-width="1.7"/>
<rect x="268.9" y="967.3" width="94.6" height="94.7" fill="none" stroke="#a8b468" stroke-width="1.3"/>
<rect x="363.5" y="967.3" width="94.6" height="94.7" fill="none" stroke="#a8b468" stroke-width="1.3"/>
<rect x="458" y="967.3" width="94.6" height="94.7" fill="none" stroke="#a8b468" stroke-width="1.3"/>
<rect x="268.9" y="1062" width="94.6" height="94.7" fill="none" stroke="#a8b468" stroke-width="1.3"/>
<rect x="363.5" y="1062" width="94.6" height="94.7" fill="none" stroke="#a8b468" stroke-width="1.3"/>
<rect x="458" y="1062" width="94.6" height="94.7" fill="none" stroke="#a8b468" stroke-width="1.3"/>
<rect x="268.9" y="1156.7" width="94.6" height="94.7" fill="none" stroke="#a8b468" stroke-width="1.3"/>
<rect x="363.5" y="1156.7" width="94.6" height="94.7" fill="none" stroke="#a8b468" stroke-width="1.3"/>
<rect x="458" y="1156.7" width="94.6" height="94.7" fill="none" stroke="#a8b468" stroke-width="1.3"/>
<path d="M268.9 967.3h23.6v23.7h-23.6zM292.5 967.3h23.6v23.7h-23.6zM339.8 967.3h23.6v23.7h-23.6zM268.9 1014.7h23.6v23.7h-23.6zM292.5 1014.7h23.6v23.7h-23.6zM316.2 1014.7h23.6v23.7h-23.6zM292.5 1038.3h23.6v23.7h-23.6zM316.2 1038.3h23.6v23.7h-23.6zM339.8 1038.3h23.6v23.7h-23.6zM363.5 967.3h23.6v23.7h-23.6zM387.1 967.3h23.6v23.7h-23.6zM434.4 967.3h23.6v23.7h-23.6zM363.5 1014.7h23.6v23.7h-23.6zM387.1 1014.7h23.6v23.7h-23.6zM410.7 1014.7h23.6v23.7h-23.6zM387.1 1038.3h23.6v23.7h-23.6zM410.7 1038.3h23.6v23.7h-23.6zM434.4 1038.3h23.6v23.7h-23.6zM458 967.3h23.6v23.7h-23.6zM481.7 967.3h23.6v23.7h-23.6zM528.9 967.3h23.6v23.7h-23.6zM458 1014.7h23.6v23.7h-23.6zM481.7 1014.7h23.6v23.7h-23.6zM505.3 1014.7h23.6v23.7h-23.6zM481.7 1038.3h23.6v23.7h-23.6zM505.3 1038.3h23.6v23.7h-23.6zM528.9 1038.3h23.6v23.7h-23.6zM268.9 1062h23.6v23.7h-23.6zM292.5 1062h23.6v23.7h-23.6zM339.8 1062h23.6v23.7h-23.6zM268.9 1109.4h23.6v23.7h-23.6zM292.5 1109.4h23.6v23.7h-23.6zM316.2 1109.4h23.6v23.7h-23.6zM292.5 1133.1h23.6v23.7h-23.6zM316.2 1133.1h23.6v23.7h-23.6zM339.8 1133.1h23.6v23.7h-23.6zM458 1062h23.6v23.7h-23.6zM481.7 1062h23.6v23.7h-23.6zM528.9 1062h23.6v23.7h-23.6zM458 1109.4h23.6v23.7h-23.6zM481.7 1109.4h23.6v23.7h-23.6zM505.3 1109.4h23.6v23.7h-23.6zM481.7 1133.1h23.6v23.7h-23.6zM505.3 1133.1h23.6v23.7h-23.6zM528.9 1133.1h23.6v23.7h-23.6z" fill="none" stroke="#fa4614" stroke-width="1.8"/>
<path d="M394 1073.9a4.9 4.9 0 1 0 9.8 0a4.9 4.9 0 1 0 -9.8 0M417.7 1073.9a4.9 4.9 0 1 0 9.8 0a4.9 4.9 0 1 0 -9.8 0M441.3 1073.9a4.9 4.9 0 1 0 9.8 0a4.9 4.9 0 1 0 -9.8 0M394 1097.5a4.9 4.9 0 1 0 9.8 0a4.9 4.9 0 1 0 -9.8 0M417.7 1097.5a4.9 4.9 0 1 0 9.8 0a4.9 4.9 0 1 0 -9.8 0M441.3 1097.5a4.9 4.9 0 1 0 9.8 0a4.9 4.9 0 1 0 -9.8 0M370.4 1121.2a4.9 4.9 0 1 0 9.8 0a4.9 4.9 0 1 0 -9.8 0M394 1121.2a4.9 4.9 0 1 0 9.8 0a4.9 4.9 0 1 0 -9.8 0M417.7 1121.2a4.9 4.9 0 1 0 9.8 0a4.9 4.9 0 1 0 -9.8 0M370.4 1144.9a4.9 4.9 0 1 0 9.8 0a4.9 4.9 0 1 0 -9.8 0M299.5 1168.6a4.9 4.9 0 1 0 9.8 0a4.9 4.9 0 1 0 -9.8 0M323.1 1168.6a4.9 4.9 0 1 0 9.8 0a4.9 4.9 0 1 0 -9.8 0M346.7 1168.6a4.9 4.9 0 1 0 9.8 0a4.9 4.9 0 1 0 -9.8 0M299.5 1192.3a4.9 4.9 0 1 0 9.8 0a4.9 4.9 0 1 0 -9.8 0M323.1 1192.3a4.9 4.9 0 1 0 9.8 0a4.9 4.9 0 1 0 -9.8 0M346.7 1192.3a4.9 4.9 0 1 0 9.8 0a4.9 4.9 0 1 0 -9.8 0M275.8 1215.9a4.9 4.9 0 1 0 9.8 0a4.9 4.9 0 1 0 -9.8 0M299.5 1215.9a4.9 4.9 0 1 0 9.8 0a4.9 4.9 0 1 0 -9.8 0M323.1 1215.9a4.9 4.9 0 1 0 9.8 0a4.9 4.9 0 1 0 -9.8 0M275.8 1239.6a4.9 4.9 0 1 0 9.8 0a4.9 4.9 0 1 0 -9.8 0M394 1168.6a4.9 4.9 0 1 0 9.8 0a4.9 4.9 0 1 0 -9.8 0M417.7 1168.6a4.9 4.9 0 1 0 9.8 0a4.9 4.9 0 1 0 -9.8 0M441.3 1168.6a4.9 4.9 0 1 0 9.8 0a4.9 4.9 0 1 0 -9.8 0M394 1192.3a4.9 4.9 0 1 0 9.8 0a4.9 4.9 0 1 0 -9.8 0M417.7 1192.3a4.9 4.9 0 1 0 9.8 0a4.9 4.9 0 1 0 -9.8 0M441.3 1192.3a4.9 4.9 0 1 0 9.8 0a4.9 4.9 0 1 0 -9.8 0M370.4 1215.9a4.9 4.9 0 1 0 9.8 0a4.9 4.9 0 1 0 -9.8 0M394 1215.9a4.9 4.9 0 1 0 9.8 0a4.9 4.9 0 1 0 -9.8 0M417.7 1215.9a4.9 4.9 0 1 0 9.8 0a4.9 4.9 0 1 0 -9.8 0M370.4 1239.6a4.9 4.9 0 1 0 9.8 0a4.9 4.9 0 1 0 -9.8 0M488.6 1168.6a4.9 4.9 0 1 0 9.8 0a4.9 4.9 0 1 0 -9.8 0M512.2 1168.6a4.9 4.9 0 1 0 9.8 0a4.9 4.9 0 1 0 -9.8 0M535.9 1168.6a4.9 4.9 0 1 0 9.8 0a4.9 4.9 0 1 0 -9.8 0M488.6 1192.3a4.9 4.9 0 1 0 9.8 0a4.9 4.9 0 1 0 -9.8 0M512.2 1192.3a4.9 4.9 0 1 0 9.8 0a4.9 4.9 0 1 0 -9.8 0M535.9 1192.3a4.9 4.9 0 1 0 9.8 0a4.9 4.9 0 1 0 -9.8 0M464.9 1215.9a4.9 4.9 0 1 0 9.8 0a4.9 4.9 0 1 0 -9.8 0M488.6 1215.9a4.9 4.9 0 1 0 9.8 0a4.9 4.9 0 1 0 -9.8 0M512.2 1215.9a4.9 4.9 0 1 0 9.8 0a4.9 4.9 0 1 0 -9.8 0M464.9 1239.6a4.9 4.9 0 1 0 9.8 0a4.9 4.9 0 1 0 -9.8 0" fill="#ee4646"/>
<path d="M275.8 979.1a4.9 4.9 0 1 0 9.8 0a4.9 4.9 0 1 0 -9.8 0M299.5 979.1a4.9 4.9 0 1 0 9.8 0a4.9 4.9 0 1 0 -9.8 0M346.7 979.1a4.9 4.9 0 1 0 9.8 0a4.9 4.9 0 1 0 -9.8 0M275.8 1026.5a4.9 4.9 0 1 0 9.8 0a4.9 4.9 0 1 0 -9.8 0M299.5 1026.5a4.9 4.9 0 1 0 9.8 0a4.9 4.9 0 1 0 -9.8 0M323.1 1026.5a4.9 4.9 0 1 0 9.8 0a4.9 4.9 0 1 0 -9.8 0M299.5 1050.2a4.9 4.9 0 1 0 9.8 0a4.9 4.9 0 1 0 -9.8 0M323.1 1050.2a4.9 4.9 0 1 0 9.8 0a4.9 4.9 0 1 0 -9.8 0M346.7 1050.2a4.9 4.9 0 1 0 9.8 0a4.9 4.9 0 1 0 -9.8 0M370.4 979.1a4.9 4.9 0 1 0 9.8 0a4.9 4.9 0 1 0 -9.8 0M394 979.1a4.9 4.9 0 1 0 9.8 0a4.9 4.9 0 1 0 -9.8 0M441.3 979.1a4.9 4.9 0 1 0 9.8 0a4.9 4.9 0 1 0 -9.8 0M370.4 1026.5a4.9 4.9 0 1 0 9.8 0a4.9 4.9 0 1 0 -9.8 0M394 1026.5a4.9 4.9 0 1 0 9.8 0a4.9 4.9 0 1 0 -9.8 0M417.7 1026.5a4.9 4.9 0 1 0 9.8 0a4.9 4.9 0 1 0 -9.8 0M394 1050.2a4.9 4.9 0 1 0 9.8 0a4.9 4.9 0 1 0 -9.8 0M417.7 1050.2a4.9 4.9 0 1 0 9.8 0a4.9 4.9 0 1 0 -9.8 0M441.3 1050.2a4.9 4.9 0 1 0 9.8 0a4.9 4.9 0 1 0 -9.8 0M464.9 979.1a4.9 4.9 0 1 0 9.8 0a4.9 4.9 0 1 0 -9.8 0M488.6 979.1a4.9 4.9 0 1 0 9.8 0a4.9 4.9 0 1 0 -9.8 0M535.9 979.1a4.9 4.9 0 1 0 9.8 0a4.9 4.9 0 1 0 -9.8 0M464.9 1026.5a4.9 4.9 0 1 0 9.8 0a4.9 4.9 0 1 0 -9.8 0M488.6 1026.5a4.9 4.9 0 1 0 9.8 0a4.9 4.9 0 1 0 -9.8 0M512.2 1026.5a4.9 4.9 0 1 0 9.8 0a4.9 4.9 0 1 0 -9.8 0M488.6 1050.2a4.9 4.9 0 1 0 9.8 0a4.9 4.9 0 1 0 -9.8 0M512.2 1050.2a4.9 4.9 0 1 0 9.8 0a4.9 4.9 0 1 0 -9.8 0M535.9 1050.2a4.9 4.9 0 1 0 9.8 0a4.9 4.9 0 1 0 -9.8 0M275.8 1073.9a4.9 4.9 0 1 0 9.8 0a4.9 4.9 0 1 0 -9.8 0M299.5 1073.9a4.9 4.9 0 1 0 9.8 0a4.9 4.9 0 1 0 -9.8 0M346.7 1073.9a4.9 4.9 0 1 0 9.8 0a4.9 4.9 0 1 0 -9.8 0M275.8 1121.2a4.9 4.9 0 1 0 9.8 0a4.9 4.9 0 1 0 -9.8 0M299.5 1121.2a4.9 4.9 0 1 0 9.8 0a4.9 4.9 0 1 0 -9.8 0M323.1 1121.2a4.9 4.9 0 1 0 9.8 0a4.9 4.9 0 1 0 -9.8 0M299.5 1144.9a4.9 4.9 0 1 0 9.8 0a4.9 4.9 0 1 0 -9.8 0M323.1 1144.9a4.9 4.9 0 1 0 9.8 0a4.9 4.9 0 1 0 -9.8 0M346.7 1144.9a4.9 4.9 0 1 0 9.8 0a4.9 4.9 0 1 0 -9.8 0M464.9 1073.9a4.9 4.9 0 1 0 9.8 0a4.9 4.9 0 1 0 -9.8 0M488.6 1073.9a4.9 4.9 0 1 0 9.8 0a4.9 4.9 0 1 0 -9.8 0M535.9 1073.9a4.9 4.9 0 1 0 9.8 0a4.9 4.9 0 1 0 -9.8 0M464.9 1121.2a4.9 4.9 0 1 0 9.8 0a4.9 4.9 0 1 0 -9.8 0M488.6 1121.2a4.9 4.9 0 1 0 9.8 0a4.9 4.9 0 1 0 -9.8 0M512.2 1121.2a4.9 4.9 0 1 0 9.8 0a4.9 4.9 0 1 0 -9.8 0M488.6 1144.9a4.9 4.9 0 1 0 9.8 0a4.9 4.9 0 1 0 -9.8 0M512.2 1144.9a4.9 4.9 0 1 0 9.8 0a4.9 4.9 0 1 0 -9.8 0M535.9 1144.9a4.9 4.9 0 1 0 9.8 0a4.9 4.9 0 1 0 -9.8 0" fill="#ff3300"/>
<text x="291.5" y="1025.5" font-family="'Liberation Sans', Arial, sans-serif" font-weight="bold" font-size="30.5" fill="#0404c8" stroke="#0404c8" stroke-width="0.7" textLength="47" lengthAdjust="spacingAndGlyphs">4-0</text>
<text x="386.6" y="1120.5" font-family="'Liberation Sans', Arial, sans-serif" font-weight="bold" font-size="30.5" fill="#0404c8" stroke="#0404c8" stroke-width="0.7" textLength="45.5" lengthAdjust="spacingAndGlyphs">4-1</text>
<rect x="1075.1" y="967.3" width="142" height="142.6" fill="#f2f0b4"/>
<rect x="1216.6" y="967.3" width="142" height="142.6" fill="#f2f0b4"/>
<rect x="1075.1" y="1109.4" width="142" height="142.6" fill="#f2f0b4"/>
<rect x="1216.6" y="1109.4" width="142" height="142.6" fill="#f2f0b4"/>
<rect x="1075.1" y="967.3" width="141.5" height="142.1" fill="none" stroke="#a0b060" stroke-width="1.3"/>
<rect x="1216.6" y="967.3" width="141.5" height="142.1" fill="none" stroke="#a0b060" stroke-width="1.3"/>
<rect x="1075.1" y="1109.4" width="141.5" height="142.1" fill="none" stroke="#a0b060" stroke-width="1.3"/>
<rect x="1216.6" y="1109.4" width="141.5" height="142.1" fill="none" stroke="#a0b060" stroke-width="1.3"/>
<path d="M1145.8 967.3h23.6v23.7h-23.6zM1169.4 967.3h23.6v23.7h-23.6zM1193 967.3h23.6v23.7h-23.6zM1075.1 991h23.6v23.7h-23.6zM1169.4 991h23.6v23.7h-23.6zM1122.3 1014.7h23.6v23.7h-23.6zM1145.8 1014.7h23.6v23.7h-23.6zM1193 1014.7h23.6v23.7h-23.6zM1098.7 1038.3h23.6v23.7h-23.6zM1145.8 1038.3h23.6v23.7h-23.6zM1169.4 1038.3h23.6v23.7h-23.6zM1075.1 1062h23.6v23.7h-23.6zM1098.7 1062h23.6v23.7h-23.6zM1145.8 1062h23.6v23.7h-23.6zM1193 1062h23.6v23.7h-23.6zM1075.1 1085.7h23.6v23.7h-23.6zM1145.8 1085.7h23.6v23.7h-23.6zM1193 1085.7h23.6v23.7h-23.6zM1287.3 967.3h23.6v23.7h-23.6zM1310.9 967.3h23.6v23.7h-23.6zM1334.5 967.3h23.6v23.7h-23.6zM1216.6 991h23.6v23.7h-23.6zM1310.9 991h23.6v23.7h-23.6zM1263.7 1014.7h23.6v23.7h-23.6zM1287.3 1014.7h23.6v23.7h-23.6zM1334.5 1014.7h23.6v23.7h-23.6zM1240.2 1038.3h23.6v23.7h-23.6zM1287.3 1038.3h23.6v23.7h-23.6zM1310.9 1038.3h23.6v23.7h-23.6zM1216.6 1062h23.6v23.7h-23.6zM1240.2 1062h23.6v23.7h-23.6zM1287.3 1062h23.6v23.7h-23.6zM1334.5 1062h23.6v23.7h-23.6zM1216.6 1085.7h23.6v23.7h-23.6zM1287.3 1085.7h23.6v23.7h-23.6zM1334.5 1085.7h23.6v23.7h-23.6zM1145.8 1109.4h23.6v23.7h-23.6zM1169.4 1109.4h23.6v23.7h-23.6zM1193 1109.4h23.6v23.7h-23.6zM1075.1 1133.1h23.6v23.7h-23.6zM1169.4 1133.1h23.6v23.7h-23.6zM1122.3 1156.7h23.6v23.7h-23.6zM1145.8 1156.7h23.6v23.7h-23.6zM1193 1156.7h23.6v23.7h-23.6zM1098.7 1180.4h23.6v23.7h-23.6zM1145.8 1180.4h23.6v23.7h-23.6zM1169.4 1180.4h23.6v23.7h-23.6zM1075.1 1204.1h23.6v23.7h-23.6zM1098.7 1204.1h23.6v23.7h-23.6zM1145.8 1204.1h23.6v23.7h-23.6zM1193 1204.1h23.6v23.7h-23.6zM1075.1 1227.8h23.6v23.7h-23.6zM1145.8 1227.8h23.6v23.7h-23.6zM1193 1227.8h23.6v23.7h-23.6zM1287.3 1109.4h23.6v23.7h-23.6zM1310.9 1109.4h23.6v23.7h-23.6zM1334.5 1109.4h23.6v23.7h-23.6zM1216.6 1133.1h23.6v23.7h-23.6zM1310.9 1133.1h23.6v23.7h-23.6zM1263.7 1156.7h23.6v23.7h-23.6zM1287.3 1156.7h23.6v23.7h-23.6zM1334.5 1156.7h23.6v23.7h-23.6zM1240.2 1180.4h23.6v23.7h-23.6zM1287.3 1180.4h23.6v23.7h-23.6zM1310.9 1180.4h23.6v23.7h-23.6zM1216.6 1204.1h23.6v23.7h-23.6zM1240.2 1204.1h23.6v23.7h-23.6zM1287.3 1204.1h23.6v23.7h-23.6zM1334.5 1204.1h23.6v23.7h-23.6zM1216.6 1227.8h23.6v23.7h-23.6zM1287.3 1227.8h23.6v23.7h-23.6zM1334.5 1227.8h23.6v23.7h-23.6z" fill="none" stroke="#fa4614" stroke-width="1.8"/>
<path d="M1152.7 979.1a4.9 4.9 0 1 0 9.8 0a4.9 4.9 0 1 0 -9.8 0M1176.3 979.1a4.9 4.9 0 1 0 9.8 0a4.9 4.9 0 1 0 -9.8 0M1199.9 979.1a4.9 4.9 0 1 0 9.8 0a4.9 4.9 0 1 0 -9.8 0M1082 1002.8a4.9 4.9 0 1 0 9.8 0a4.9 4.9 0 1 0 -9.8 0M1176.3 1002.8a4.9 4.9 0 1 0 9.8 0a4.9 4.9 0 1 0 -9.8 0M1129.1 1026.5a4.9 4.9 0 1 0 9.8 0a4.9 4.9 0 1 0 -9.8 0M1152.7 1026.5a4.9 4.9 0 1 0 9.8 0a4.9 4.9 0 1 0 -9.8 0M1199.9 1026.5a4.9 4.9 0 1 0 9.8 0a4.9 4.9 0 1 0 -9.8 0M1105.6 1050.2a4.9 4.9 0 1 0 9.8 0a4.9 4.9 0 1 0 -9.8 0M1152.7 1050.2a4.9 4.9 0 1 0 9.8 0a4.9 4.9 0 1 0 -9.8 0M1176.3 1050.2a4.9 4.9 0 1 0 9.8 0a4.9 4.9 0 1 0 -9.8 0M1082 1073.9a4.9 4.9 0 1 0 9.8 0a4.9 4.9 0 1 0 -9.8 0M1105.6 1073.9a4.9 4.9 0 1 0 9.8 0a4.9 4.9 0 1 0 -9.8 0M1152.7 1073.9a4.9 4.9 0 1 0 9.8 0a4.9 4.9 0 1 0 -9.8 0M1199.9 1073.9a4.9 4.9 0 1 0 9.8 0a4.9 4.9 0 1 0 -9.8 0M1082 1097.5a4.9 4.9 0 1 0 9.8 0a4.9 4.9 0 1 0 -9.8 0M1152.7 1097.5a4.9 4.9 0 1 0 9.8 0a4.9 4.9 0 1 0 -9.8 0M1199.9 1097.5a4.9 4.9 0 1 0 9.8 0a4.9 4.9 0 1 0 -9.8 0M1294.2 979.1a4.9 4.9 0 1 0 9.8 0a4.9 4.9 0 1 0 -9.8 0M1317.8 979.1a4.9 4.9 0 1 0 9.8 0a4.9 4.9 0 1 0 -9.8 0M1341.4 979.1a4.9 4.9 0 1 0 9.8 0a4.9 4.9 0 1 0 -9.8 0M1223.5 1002.8a4.9 4.9 0 1 0 9.8 0a4.9 4.9 0 1 0 -9.8 0M1317.8 1002.8a4.9 4.9 0 1 0 9.8 0a4.9 4.9 0 1 0 -9.8 0M1270.6 1026.5a4.9 4.9 0 1 0 9.8 0a4.9 4.9 0 1 0 -9.8 0M1294.2 1026.5a4.9 4.9 0 1 0 9.8 0a4.9 4.9 0 1 0 -9.8 0M1341.4 1026.5a4.9 4.9 0 1 0 9.8 0a4.9 4.9 0 1 0 -9.8 0M1247 1050.2a4.9 4.9 0 1 0 9.8 0a4.9 4.9 0 1 0 -9.8 0M1294.2 1050.2a4.9 4.9 0 1 0 9.8 0a4.9 4.9 0 1 0 -9.8 0M1317.8 1050.2a4.9 4.9 0 1 0 9.8 0a4.9 4.9 0 1 0 -9.8 0M1223.5 1073.9a4.9 4.9 0 1 0 9.8 0a4.9 4.9 0 1 0 -9.8 0M1247 1073.9a4.9 4.9 0 1 0 9.8 0a4.9 4.9 0 1 0 -9.8 0M1294.2 1073.9a4.9 4.9 0 1 0 9.8 0a4.9 4.9 0 1 0 -9.8 0M1341.4 1073.9a4.9 4.9 0 1 0 9.8 0a4.9 4.9 0 1 0 -9.8 0M1223.5 1097.5a4.9 4.9 0 1 0 9.8 0a4.9 4.9 0 1 0 -9.8 0M1294.2 1097.5a4.9 4.9 0 1 0 9.8 0a4.9 4.9 0 1 0 -9.8 0M1341.4 1097.5a4.9 4.9 0 1 0 9.8 0a4.9 4.9 0 1 0 -9.8 0M1152.7 1121.2a4.9 4.9 0 1 0 9.8 0a4.9 4.9 0 1 0 -9.8 0M1176.3 1121.2a4.9 4.9 0 1 0 9.8 0a4.9 4.9 0 1 0 -9.8 0M1199.9 1121.2a4.9 4.9 0 1 0 9.8 0a4.9 4.9 0 1 0 -9.8 0M1082 1144.9a4.9 4.9 0 1 0 9.8 0a4.9 4.9 0 1 0 -9.8 0M1176.3 1144.9a4.9 4.9 0 1 0 9.8 0a4.9 4.9 0 1 0 -9.8 0M1129.1 1168.6a4.9 4.9 0 1 0 9.8 0a4.9 4.9 0 1 0 -9.8 0M1152.7 1168.6a4.9 4.9 0 1 0 9.8 0a4.9 4.9 0 1 0 -9.8 0M1199.9 1168.6a4.9 4.9 0 1 0 9.8 0a4.9 4.9 0 1 0 -9.8 0M1105.6 1192.3a4.9 4.9 0 1 0 9.8 0a4.9 4.9 0 1 0 -9.8 0M1152.7 1192.3a4.9 4.9 0 1 0 9.8 0a4.9 4.9 0 1 0 -9.8 0M1176.3 1192.3a4.9 4.9 0 1 0 9.8 0a4.9 4.9 0 1 0 -9.8 0M1082 1215.9a4.9 4.9 0 1 0 9.8 0a4.9 4.9 0 1 0 -9.8 0M1105.6 1215.9a4.9 4.9 0 1 0 9.8 0a4.9 4.9 0 1 0 -9.8 0M1152.7 1215.9a4.9 4.9 0 1 0 9.8 0a4.9 4.9 0 1 0 -9.8 0M1199.9 1215.9a4.9 4.9 0 1 0 9.8 0a4.9 4.9 0 1 0 -9.8 0M1082 1239.6a4.9 4.9 0 1 0 9.8 0a4.9 4.9 0 1 0 -9.8 0M1152.7 1239.6a4.9 4.9 0 1 0 9.8 0a4.9 4.9 0 1 0 -9.8 0M1199.9 1239.6a4.9 4.9 0 1 0 9.8 0a4.9 4.9 0 1 0 -9.8 0M1294.2 1121.2a4.9 4.9 0 1 0 9.8 0a4.9 4.9 0 1 0 -9.8 0M1317.8 1121.2a4.9 4.9 0 1 0 9.8 0a4.9 4.9 0 1 0 -9.8 0M1341.4 1121.2a4.9 4.9 0 1 0 9.8 0a4.9 4.9 0 1 0 -9.8 0M1223.5 1144.9a4.9 4.9 0 1 0 9.8 0a4.9 4.9 0 1 0 -9.8 0M1317.8 1144.9a4.9 4.9 0 1 0 9.8 0a4.9 4.9 0 1 0 -9.8 0M1270.6 1168.6a4.9 4.9 0 1 0 9.8 0a4.9 4.9 0 1 0 -9.8 0M1294.2 1168.6a4.9 4.9 0 1 0 9.8 0a4.9 4.9 0 1 0 -9.8 0M1341.4 1168.6a4.9 4.9 0 1 0 9.8 0a4.9 4.9 0 1 0 -9.8 0M1247 1192.3a4.9 4.9 0 1 0 9.8 0a4.9 4.9 0 1 0 -9.8 0M1294.2 1192.3a4.9 4.9 0 1 0 9.8 0a4.9 4.9 0 1 0 -9.8 0M1317.8 1192.3a4.9 4.9 0 1 0 9.8 0a4.9 4.9 0 1 0 -9.8 0M1223.5 1215.9a4.9 4.9 0 1 0 9.8 0a4.9 4.9 0 1 0 -9.8 0M1247 1215.9a4.9 4.9 0 1 0 9.8 0a4.9 4.9 0 1 0 -9.8 0M1294.2 1215.9a4.9 4.9 0 1 0 9.8 0a4.9 4.9 0 1 0 -9.8 0M1341.4 1215.9a4.9 4.9 0 1 0 9.8 0a4.9 4.9 0 1 0 -9.8 0M1223.5 1239.6a4.9 4.9 0 1 0 9.8 0a4.9 4.9 0 1 0 -9.8 0M1294.2 1239.6a4.9 4.9 0 1 0 9.8 0a4.9 4.9 0 1 0 -9.8 0M1341.4 1239.6a4.9 4.9 0 1 0 9.8 0a4.9 4.9 0 1 0 -9.8 0" fill="#ff3300"/>
<text x="1115" y="1055.7" font-family="'Liberation Sans', Arial, sans-serif" font-weight="bold" font-size="44.8" fill="#0404c8" stroke="#0404c8" stroke-width="0.7" textLength="64.5" lengthAdjust="spacingAndGlyphs">6-0</text>
<clipPath id="cpa"><rect x="131.2" y="4.5" width="680.6" height="566.1"/></clipPath><g clip-path="url(#cpa)">
<path d="M131.5 481C132.6 480.3 135.8 478.8 137.9 477C140.1 475.2 142.5 473.2 144.4 470.5C146.3 467.8 147.6 464.6 149.2 460.8C150.8 457.1 152.2 450.7 154.1 448C156 445.3 158.3 446.1 160.5 444.7C162.7 443.3 165.1 443.1 167 439.9C168.9 436.7 170.2 430.4 171.8 425.3C173.4 420.2 175.2 414.6 176.7 409.2C178.2 403.8 179.5 398.4 180.7 393C181.9 387.6 182.8 382.8 183.9 376.9C185 371 186.2 364.2 187.2 357.5C188.1 350.8 188.9 344 189.6 336.5C190.3 329 190.7 320.4 191.2 312.3C191.7 304.2 192 299.7 192.8 288C193.6 276.3 194.4 258.8 196 242C197.6 225.2 200.6 203.5 202.6 187C204.6 170.5 206.3 157.7 208 143C209.7 128.3 211.2 112.6 212.5 99C213.8 85.4 214.9 70.8 215.8 61.6C216.7 52.4 216.7 48 218 44C219.3 40 221.7 37.4 223.5 37.4C225.3 37.4 227.2 41.1 229 44C230.8 46.9 232.7 53.9 234.5 55C236.3 56.1 238.2 55.4 240 50.6C241.8 45.8 243.7 32.1 245.5 26.4C247.3 20.7 249.2 17.2 251 16.5C252.8 15.8 254.7 19.6 256.5 22C258.3 24.4 260 28.2 262 30.8C264 33.4 266.8 34.5 268.6 37.4C270.4 40.3 271.5 42.5 273 48.4C274.5 54.3 276.1 64.2 277.4 72.6C278.7 81 279.6 90.6 280.7 99C281.8 107.4 282.9 116 284 123C285.1 130 285.8 136.7 287.3 140.8C288.8 144.9 291 144.9 292.8 147.4C294.6 149.9 296.8 151.2 298.3 156C299.8 160.8 300.3 167.2 301.6 176C302.9 184.8 304.5 198.7 306 209C307.5 219.3 308.7 229.2 310.4 237.6C312.1 246 314.2 253.7 316 259.6C317.8 265.5 319.8 270.1 321.4 272.8C323 275.5 323.9 277.5 325.5 276C327.1 274.5 329 270.4 330.8 264C332.6 257.6 334.5 246.9 336.3 237.7C338.1 228.5 340 215.2 341.8 209C343.6 202.8 345.5 203.6 347.3 200.3C349.1 197 351.2 197 352.8 189.3C354.4 181.6 355.7 166.5 357.2 154C358.7 141.5 360.1 128 361.6 114.4C363.1 100.8 364.5 85.8 366 72.6C367.5 59.4 368.8 44.5 370.4 35.2C372 25.9 374.1 19.1 375.9 16.5C377.7 13.9 379.8 16 381.4 19.8C383 23.7 384.3 28.2 385.8 39.6C387.3 51 388.7 70.8 390.2 88C391.7 105.2 393.1 126.5 394.6 143C396.1 159.5 397.5 172.3 399 187C400.5 201.7 401.9 218.2 403.4 231C404.9 243.8 406.1 255.2 407.8 264C409.5 272.8 411.5 279.8 413.3 283.9C415.1 287.9 417 288.3 418.8 288.3C420.6 288.3 422.5 287.9 424.3 283.9C426.1 279.8 428 271.7 429.8 264C431.6 256.3 433.5 245.8 435.3 237.7C437.1 229.6 438.8 223 440.8 215.7C442.8 208.4 445.2 200.7 447.4 193.7C449.6 186.7 451.8 179.1 454 173.9C456.2 168.8 458.5 165.7 460.7 162.8C462.9 159.9 465.1 160 467.3 156.3C469.5 152.6 471.7 146.3 473.9 140.8C476.1 135.3 478.3 127.6 480.5 123.2C482.7 118.8 484.9 115.7 487.1 114.4C489.3 113.1 491.5 115.1 493.7 115.5C495.9 115.9 498.1 118.6 500.3 116.6C502.5 114.6 504.9 108.5 506.9 103.4C508.9 98.3 510.6 87.6 512.4 85.8C514.2 84 516.1 87.6 517.9 92.4C519.7 97.2 521.6 107.8 523.4 114.4C525.2 121 527.1 126.1 528.9 132C530.7 137.9 532.5 142.4 534.4 149.6C536.2 156.8 538.4 165.3 540 175C541.6 184.7 542.6 197 544.1 207.9C545.6 218.8 547.3 231.1 549.2 240.7C551.1 250.3 553.5 258.5 555.4 265.4C557.3 272.2 558.8 274.9 560.5 281.8C562.2 288.7 564 300 565.7 306.5C567.4 313 568.9 317.6 570.8 320.8C572.7 324.1 574.8 325.6 577 326C579.2 326.4 581.8 325.8 584.2 322.9C586.6 320 589.2 309.9 591.3 308.5C593.3 307.1 594.6 311.9 596.5 314.7C598.4 317.4 600.6 322.9 602.6 325C604.6 327.1 607.1 328.4 608.8 327C610.5 325.6 611.5 322.5 612.9 316.7C614.3 310.9 615.6 300.6 617 292C618.4 283.4 619.6 272.2 621.1 265.4C622.6 258.6 624.6 252 626.3 251C628 250 629.7 255.8 631.4 259.2C633.1 262.6 634.6 267 636.5 271.5C638.4 276 640.6 280.9 642.7 286C644.8 291.1 646.9 298.2 648.9 302.3C650.9 306.4 653 310.2 655 310.6C657 311 659.2 308.5 661.2 304.4C663.2 300.3 665.2 293.2 667.3 286C669.3 278.8 671.4 270.6 673.5 261.3C675.6 252.1 678 240.8 679.7 230.5C681.4 220.2 682.4 209.6 683.8 199.7C685.2 189.8 686.5 179.5 687.9 170.9C689.3 162.3 690.6 155.2 692 148.3C693.4 141.5 694.4 136.7 696.1 129.8C697.8 123 699.8 113 702.2 107.2C704.6 101.4 708.1 95.2 710.5 94.9C712.9 94.6 714.9 100.1 716.6 105.2C718.3 110.3 719.3 118.8 720.7 125.7C722.1 132.6 722.7 140.1 724.8 146.3C726.9 152.5 730.7 161.3 733.1 162.7C735.5 164.1 737.2 158.9 739.2 154.5C741.2 150.1 743.2 140.8 745.4 136C747.6 131.2 750.2 125.4 752.6 125.7C755 126 757.2 133.2 759.8 138C762.4 142.8 765.3 149.7 768 154.5C770.7 159.3 773.1 163.6 776.2 166.8C779.3 170.1 783.4 173.7 786.5 174C789.6 174.3 792 172.5 794.7 168.9C797.4 165.3 800.4 159.2 802.9 152.4C805.4 145.6 808.8 131.9 810 127.8" fill="none" stroke="#ff0000" stroke-width="6.6" stroke-linecap="round" stroke-linejoin="round"/>
<path d="M131.5 490C132.9 489 136.9 486.7 140 484C143.1 481.3 146 479.8 150 474C154 468.2 160.5 456.8 163.8 449.5C167.1 442.2 167.8 436.7 170 430C172.2 423.3 174.9 415.4 176.7 409.2C178.5 403 179.5 398.4 180.7 393C181.9 387.6 182.9 382.9 184 377C185.1 371.1 186.3 364.2 187.2 357.5C188.1 350.8 188.9 344 189.6 336.5C190.3 329 190.7 320.4 191.2 312.3C191.7 304.2 192 299.7 192.8 288C193.6 276.3 194.4 258.8 196 242C197.6 225.2 200.6 203.5 202.6 187C204.6 170.5 206.3 157.7 208 143C209.7 128.3 211.2 111.5 212.5 99C213.8 86.5 214.7 75 216 68C217.3 61 218.5 57.2 220.2 57.2C221.9 57.2 224.2 64.7 226 68C227.8 71.3 229.5 76.3 231.2 77C232.9 77.7 234.5 73.8 236 72C237.5 70.2 238.2 70.7 240 66C241.8 61.3 244.6 51 246.6 44C248.6 37 250.3 27.1 252.1 24.2C253.9 21.3 255.6 24.6 257.6 26.4C259.6 28.2 262 30.4 264.2 35.2C266.4 40 269 46.9 270.8 55C272.6 63.1 273.7 74.4 275.2 83.6C276.7 92.8 278.1 104.1 279.6 110C281.1 115.9 282 117.9 284 118.8C286 119.7 288.4 116 291.7 115.5C295 115 301.1 114.2 303.8 115.5C306.5 116.8 306.7 116.6 307.8 123C308.9 129.4 309.6 143.3 310.4 154C311.2 164.7 311.7 176 312.6 187C313.5 198 314.9 209 316 220C317.1 231 317.8 243.7 319.2 253C320.6 262.3 323.1 271.6 324.7 276C326.3 280.4 326.9 281.5 328.6 279.5C330.4 277.5 332.6 273.9 335.2 264C337.8 254.1 341.1 232.8 344 220C346.9 207.2 350.6 198.7 352.8 187C355 175.3 355.5 162.8 357 150C358.5 137.2 360.1 123 361.6 110C363.1 97 364.5 83.7 366 72C367.5 60.3 368.7 49 370.4 40C372.1 31 374.2 21 376 18C377.8 15 379.7 18 381.4 22C383.1 26 384.5 31 386 42C387.5 53 388.8 71.2 390.2 88C391.6 104.8 393.1 126.5 394.6 143C396.1 159.5 397.5 172.3 399 187C400.5 201.7 401.9 218.2 403.4 231C404.9 243.8 406.1 255.2 407.8 264C409.5 272.8 411.3 279.6 413.3 283.9C415.3 288.2 417.9 289.6 420 290C422.1 290.4 424 290.3 426 286C428 281.7 430.2 271.7 432 264C433.8 256.3 435.2 247.3 437 240C438.8 232.7 440.2 225.9 443 220C445.8 214.1 450.3 212 454 204.7C457.7 197.4 461.3 185.2 465 176C468.7 166.8 472.3 156.2 476 149.6C479.7 143 483.3 139.7 487 136.4C490.7 133.1 494.3 135.1 498 130C501.7 124.9 506.2 110.4 509 105.6C511.8 100.8 512.8 99.2 514.6 101C516.4 102.8 517.4 110.1 520 116.6C522.6 123.1 526.3 129.4 530 140C533.7 150.6 538.9 170.3 542 180C545.1 189.7 546.5 189.5 548.7 198C550.9 206.5 553.1 220 555.3 231C557.5 242 560.1 253.2 561.9 264C563.7 274.8 564.8 288 566.3 296C567.8 304 569.2 308.7 571 312C572.8 315.3 573.8 315.6 577 316C580.2 316.4 586 314.9 590 314.7C594 314.5 598 316.8 601 314.7C604 312.6 606 307.2 607.8 302.3C609.6 297.4 610.6 290.8 612 285C613.4 279.2 614.3 272.4 616 267.4C617.7 262.4 620.3 257.7 622 255C623.7 252.3 624.6 249.8 626.3 251C628 252.2 629.7 256.8 632 262C634.3 267.2 637.5 275.7 640 282C642.5 288.3 644.3 294.6 646.8 300C649.3 305.4 652.6 310.5 655 314.7C657.4 318.9 658.8 324.7 661.2 325C663.6 325.3 667 324.9 669.4 316.7C671.8 308.5 673.2 291.1 675.6 275.7C678 260.3 681.1 244.9 683.8 224.3C686.5 203.8 689.3 170.2 692 152.4C694.7 134.6 697.8 124.3 700.2 117.5C702.6 110.7 704 111.6 706.4 111.3C708.8 111 711.9 110.4 714.6 115.5C717.3 120.6 719.7 134.6 722.8 142C725.9 149.4 730 158.7 733 160C736 161.3 738.2 150.6 741 150C743.8 149.4 746.7 151 749.5 156.5C752.3 162 755 175.8 757.7 183C760.4 190.2 763.2 195.5 765.9 199.7C768.6 203.8 771.4 205.8 774.1 207.9C776.8 210 779.5 213.4 782.3 212C785 210.6 787.9 203.8 790.6 199.7C793.4 195.6 796.4 192.8 798.8 187.3C801.2 181.8 803.1 174.4 805 166.8C806.9 159.2 809.2 146.1 810 142" fill="none" stroke="#000000" stroke-width="3.6" stroke-linecap="round" stroke-linejoin="round" stroke-dasharray="11.4 8.6 1 9.3"/>
<path d="M131.5 478C132.9 477.5 136.9 477.7 140 475C143.1 472.3 146.7 466.7 150 462C153.3 457.3 157.2 450.7 160 447C162.8 443.3 164.8 443.6 167 440C169.2 436.4 171.4 430.4 173.3 425.3C175.2 420.2 176.7 414.6 178.2 409.2C179.7 403.8 181 398.4 182.2 393C183.4 387.6 184.3 382.8 185.4 376.9C186.5 371 187.8 364.2 188.7 357.5C189.6 350.8 190.4 344 191.1 336.5C191.8 329 192.2 320.4 192.7 312.3C193.2 304.2 193.5 299.7 194.3 288C195.1 276.3 195.9 258.8 197.5 242C199.1 225.2 202.1 203.5 204.1 187C206.1 170.5 207.8 157.7 209.5 143C211.2 128.3 212.7 112.6 214 99C215.3 85.4 216.6 70.8 217.3 61.6C218 52.4 217 47.9 218 44C219 40.1 221.7 37.8 223.5 38C225.3 38.2 227.2 42.3 229 45C230.8 47.7 232.7 53.2 234.5 54C236.3 54.8 238.2 54.5 240 50C241.8 45.5 243.7 32.5 245.5 27C247.3 21.5 249.2 17.8 251 17C252.8 16.2 254.7 18.5 256.5 22C258.3 25.5 260.7 32.5 262 38C263.3 43.5 263.1 44.8 264.2 55C265.3 65.2 267.5 88 268.6 99C269.7 110 269.7 111.8 270.8 121C271.9 130.2 273.4 144.1 275.2 154C277 163.9 279.6 175.3 281.8 180.4C284 185.5 286.2 184.4 288.4 184.8C290.6 185.2 293.2 181.5 295 182.6C296.8 183.7 297.9 185.9 299.4 191.4C300.9 196.9 302.3 207.2 303.8 215.6C305.3 224 306.7 235 308.2 242C309.7 249 311.3 255.7 312.6 257.4C313.9 259.1 314.4 258.2 316 252C317.6 245.8 319.9 227.9 322 220C324.1 212.1 326 210.2 328.6 204.7C331.2 199.2 334.8 199.1 337.4 187C340 174.9 341.8 143.4 344 132C346.2 120.6 348 125 350.6 118.8C353.2 112.6 356.8 103.4 359.4 94.6C362 85.8 363.9 76.8 366 66C368.1 55.2 370.3 38 372 30C373.7 22 374.5 19.5 376 18C377.5 16.5 379.4 17.3 381 21C382.6 24.7 384.3 28.8 385.8 40C387.3 51.2 388.7 70.8 390.2 88C391.7 105.2 393.1 126.5 394.6 143C396.1 159.5 397.5 172.3 399 187C400.5 201.7 401.9 218.2 403.4 231C404.9 243.8 406.1 255.3 407.8 264C409.5 272.7 411.5 279.2 413.3 283C415.1 286.8 417 287.5 418.8 287C420.6 286.5 422.1 285.3 424 280C425.9 274.7 427.9 265 430 255C432.1 245 433.9 233.9 436.4 220C438.9 206.1 442.3 183.4 445.2 171.7C448.1 160 450.3 156.9 454 149.6C457.7 142.2 462.5 133.8 467.3 127.6C472.1 121.4 478.8 114.3 482.7 112.2C486.6 110.1 488.1 114.7 491 115C493.9 115.3 497.3 116.5 500 114C502.7 111.5 504.9 105 507 100C509.1 95 510.6 85.3 512.4 84C514.2 82.7 516.1 87.2 518 92C519.9 96.8 522.2 106.5 524 113C525.8 119.5 527.3 125 529 131C530.7 137 532.6 141.5 534.4 149C536.2 156.5 538.4 166.2 540 176C541.6 185.8 542.6 197.2 544.1 208C545.6 218.8 547.3 231.3 549.2 241C551.1 250.7 553.5 259 555.4 266C557.3 273 558.8 276.8 560.5 283C562.2 289.2 564.1 298.2 565.7 303C567.3 307.8 568.5 310.1 570 312C571.5 313.9 572 314.9 575 314.7C578 314.5 583.6 312.4 588 311C592.4 309.6 598.6 308.3 601.6 306.5C604.6 304.7 604.3 303.6 606 300C607.7 296.4 610 291.3 612 285C614 278.7 615.7 268.3 618 262C620.3 255.7 623.7 248.2 626 247C628.3 245.8 629.7 251.2 632 255C634.3 258.8 637.3 265 640 270C642.7 275 645.2 281.3 648 285C650.8 288.7 654.5 292 657 292C659.5 292 660.8 289.5 663 285C665.2 280.5 667.7 273.3 670 265C672.3 256.7 674.8 246.7 677 235C679.2 223.3 680.8 209.2 683 195C685.2 180.8 687.8 162.6 690 150C692.2 137.4 693.6 125.3 696 119.6C698.4 113.8 701.9 115.5 704.3 115.5C706.7 115.5 708.7 116.8 710.5 119.6C712.3 122.3 713.3 126.9 715 132C716.7 137.1 718.4 144.6 720.7 150.4C723 156.2 726.6 164.4 729 166.8C731.4 169.2 733.3 168.3 735.1 164.7C736.9 161.1 738.3 152.2 740 145C741.7 137.8 743.5 126.9 745.4 121.6C747.3 116.3 749.5 113.4 751.5 113.4C753.5 113.4 755.3 116.3 757.7 121.6C760.1 126.9 763 138.1 766 145C769 151.9 772.7 159.2 776 163C779.3 166.8 782.8 168 786 168C789.2 168 792.2 166.8 795 163C797.8 159.2 800.3 152.2 803 145C805.7 137.8 809.7 123.8 811 119.6" fill="none" stroke="#0000ff" stroke-width="2.7" stroke-linecap="butt" stroke-linejoin="round" stroke-dasharray="2.6 2.7"/>
<path d="M131.5 486C132.9 485 136.9 483 140 480C143.1 477 146.7 473.7 150 468C153.3 462.3 156.9 450.7 160 446C163.1 441.3 166.3 443.3 168.5 439.9C170.7 436.4 171.7 430.4 173.3 425.3C174.9 420.2 176.7 414.6 178.2 409.2C179.7 403.8 181 398.4 182.2 393C183.4 387.6 184.3 382.8 185.4 376.9C186.5 371 187.8 364.2 188.7 357.5C189.6 350.8 190.4 344 191.1 336.5C191.8 329 192.2 320.4 192.7 312.3C193.2 304.2 193.5 299.7 194.3 288C195.1 276.3 195.9 258.8 197.5 242C199.1 225.2 202.1 203.5 204.1 187C206.1 170.5 207.8 157.7 209.5 143C211.2 128.3 212.7 112.6 214 99C215.3 85.4 216.6 70.4 217.3 61.6C218 52.8 216.8 49.3 218 46C219.2 42.7 222.8 42 224.6 41.8C226.4 41.6 227.5 43.5 229 45C230.5 46.5 231.6 49.9 233.4 50.6C235.2 51.3 238 52.9 240 49C242 45.1 243.7 31.9 245.5 27C247.3 22.1 249.2 20.1 251 19.8C252.8 19.5 254.7 22.1 256.5 25C258.3 27.9 260.4 31.3 262 37.4C263.6 43.5 264.9 53.2 266.4 61.6C267.9 70 269.3 78.1 270.8 88C272.3 97.9 273.7 110 275.2 121C276.7 132 278.1 144.8 279.6 154C281.1 163.2 282.7 169.4 284 176C285.3 182.6 285.8 189.2 287.3 193.6C288.8 198 290.8 199.5 292.8 202.4C294.8 205.3 297.2 208.8 299.4 211C301.6 213.2 303.8 215.6 306 215.6C308.2 215.6 310.6 209.9 312.6 211C314.6 212.1 316.1 219.2 318 222C319.9 224.8 321.5 229.1 324 228C326.5 226.9 330.4 223.6 333 215.7C335.6 207.8 336.7 188.6 339.6 180.5C342.5 172.4 347.7 173.6 350.6 167C353.5 160.4 355 154.7 357.2 140.8C359.4 126.9 361.7 100.4 363.8 83.6C365.9 66.8 368 50.9 370 40C372 29.1 374.2 21.3 376 18C377.8 14.7 379.3 16.3 381 20C382.7 23.7 384.5 28.7 386 40C387.5 51.3 388.8 70.8 390.2 88C391.6 105.2 393.1 126.5 394.6 143C396.1 159.5 397.5 172.3 399 187C400.5 201.7 401.9 218.5 403.4 231C404.9 243.5 406 254.1 407.8 262C409.6 269.9 412.4 275.4 414.4 278.4C416.4 281.4 417.8 284.2 420 280C422.2 275.8 425.2 264.8 427.6 253C430 241.2 432 221.1 434.2 209C436.4 196.9 439 188 440.8 180.5C442.6 173 443 167.3 445.2 164C447.4 160.7 450.3 165.2 454 160.6C457.7 156 463.6 143.7 467.3 136.4C471 129.1 472.3 122.1 476 116.6C479.7 111.1 484.9 107.1 489.3 103.4C493.7 99.7 498.8 97.2 502.5 94.6C506.2 92 508.7 87.9 511.3 88C513.9 88.1 515.9 90.8 518 95C520.1 99.2 522.2 107 524 113C525.8 119 527.3 124.8 529 131C530.7 137.2 532.6 142.2 534.4 150C536.2 157.8 538.4 168.3 540 178C541.6 187.7 542.6 197.7 544.1 208C545.6 218.3 547.3 230.3 549.2 240C551.1 249.7 553.5 258.5 555.4 266C557.3 273.5 558.9 278.5 560.5 285C562.1 291.5 563.1 298.3 565 305C566.9 311.7 569.3 320 572 325C574.7 330 577.2 333.8 581 335C584.8 336.2 591 332.8 595 332C599 331.2 602.2 329.8 605 330C607.8 330.2 610.2 335.5 612 333C613.8 330.5 614.7 320.5 616 315C617.3 309.5 618 303.5 620 300C622 296.5 626 295.2 628.3 294C630.6 292.8 632 293.7 634 293C636 292.3 637.7 288.8 640 290C642.3 291.2 645.5 297 648 300C650.5 303 652.5 308.3 655 308C657.5 307.7 660.5 304.3 663 298C665.5 291.7 667.7 280.5 670 270C672.3 259.5 674.7 248.3 677 235C679.3 221.7 681.8 202.5 684 190C686.2 177.5 688 168.3 690 160C692 151.7 694 144.7 696 140C698 135.3 700.2 133.6 702.2 131.9C704.2 130.2 705.6 129.7 708 130C710.4 130.3 714.5 128.6 716.6 134C718.7 139.4 719.1 155.9 720.7 162.7C722.3 169.5 724.3 171.6 726 175C727.7 178.4 729.2 182.5 731 183C732.8 183.5 735.2 181.8 737 178C738.8 174.2 740.6 166.7 742 160C743.4 153.3 743.5 145.1 745.4 138C747.3 130.9 751.5 121.5 753.6 117.5C755.7 113.5 756 111.2 758 114C760 116.8 763.6 129.3 765.9 134C768.2 138.7 768.6 138.6 772 142C775.4 145.4 782 151.7 786.5 154.5C791 157.3 795.4 159.3 798.8 158.6C802.2 157.9 805 153.5 807 150.4C809 147.3 810.3 141.7 811 140" fill="none" stroke="#006e00" stroke-width="3.6" stroke-linecap="round" stroke-linejoin="round" stroke-dasharray="8.4 16"/>
<path d="M131.5 472C133.4 470.5 139.7 465.8 142.8 463C145.9 460.2 147.1 458 150 455C152.9 452 157.2 447.8 160 445C162.8 442.2 164.8 441.3 167 438C169.2 434.7 171.4 430.1 173.3 425.3C175.2 420.5 176.7 414.6 178.2 409.2C179.7 403.8 181 398.4 182.2 393C183.4 387.6 184.3 382.8 185.4 376.9C186.5 371 187.8 364.2 188.7 357.5C189.6 350.8 190.4 344 191.1 336.5C191.8 329 192.2 320.4 192.7 312.3C193.2 304.2 193.5 299.7 194.3 288C195.1 276.3 195.9 258.8 197.5 242C199.1 225.2 202.1 203.5 204.1 187C206.1 170.5 207.8 157.7 209.5 143C211.2 128.3 212.7 112.6 214 99C215.3 85.4 216.6 71.4 217.3 61.6C218 51.8 217.2 45.5 218 40C218.8 34.5 220.6 29 222.4 28.6C224.2 28.2 227 33.5 229 37.4C231 41.3 232.7 49.9 234.5 52C236.3 54.1 238.2 54.2 240 50C241.8 45.8 243.7 32.5 245.5 27C247.3 21.5 249.2 17.3 251 17C252.8 16.7 254.7 18.7 256.5 25C258.3 31.3 260.4 45.2 262 55C263.6 64.8 264.9 73.7 266.4 83.6C267.9 93.5 269.3 104.1 270.8 114.4C272.3 124.7 273.7 137.9 275.2 145.2C276.7 152.5 278.1 153.9 279.6 158.4C281.1 162.9 282.6 171.7 284 172C285.4 172.3 286.7 164.5 288 160C289.3 155.5 290.2 145 291.7 145C293.2 145 294.8 150 297 160C299.2 170 302.2 192.5 305 205C307.8 217.5 310.8 228.8 314 235C317.2 241.2 321.5 242 324.2 242C326.9 242 327.8 240.2 330 235C332.2 229.8 334.3 226.7 337.4 211C340.5 195.3 344.7 159.5 348.4 140.8C352.1 122.1 356.5 111.5 359.4 99C362.3 86.5 363.9 77.5 366 66C368.1 54.5 370.3 38 372 30C373.7 22 374.5 19.5 376 18C377.5 16.5 379.4 17.3 381 21C382.6 24.7 384.3 28.8 385.8 40C387.3 51.2 388.7 70.8 390.2 88C391.7 105.2 393.1 126.5 394.6 143C396.1 159.5 397.5 172.3 399 187C400.5 201.7 401.9 218.2 403.4 231C404.9 243.8 406.1 255 407.8 264C409.5 273 411.6 280.7 413.3 285C415 289.3 416.4 288.7 418 290C419.6 291.3 421.2 296 423.2 292.7C425.2 289.4 427.8 278.4 430 270C432.2 261.6 433.9 254 436.4 242C438.9 230 441.5 212.7 445.2 198C448.9 183.3 454.4 166.5 458.4 154C462.4 141.5 465.7 131.8 469.4 123C473.1 114.2 476.8 104.3 480.5 101C484.2 97.7 487.8 102.3 491.5 103.4C495.2 104.5 499.8 109.2 502.5 107.8C505.2 106.4 506.4 99 508 95C509.6 91 510.7 84.1 512.4 83.6C514.1 83.1 516.1 87.3 518 92C519.9 96.7 522.2 105.5 524 112C525.8 118.5 527.3 124.7 529 131C530.7 137.3 532.6 142.2 534.4 150C536.2 157.8 538.4 168 540 178C541.6 188 542.6 199.2 544.1 210C545.6 220.8 547.3 233 549.2 243C551.1 253 553.5 261.3 555.4 270C557.3 278.7 558.6 284.2 560.5 295C562.4 305.8 564.3 329.2 566.7 335C569.1 340.8 572 331.7 575 330C578 328.3 581.7 327 585 325C588.3 323 591.7 322.2 595 318C598.3 313.8 601.7 308 605 300C608.3 292 612.2 280 615 270C617.8 260 619.8 246.6 622 240C624.2 233.4 626.3 229.7 628.3 230.5C630.3 231.3 631.7 238.4 634 245C636.3 251.6 639.3 261.7 642 270C644.7 278.3 647.7 288.7 650 295C652.3 301.3 653.8 307.2 656 308C658.2 308.8 660.7 306.3 663 300C665.3 293.7 667.5 281.7 670 270C672.5 258.3 675.3 245 678 230C680.7 215 683.3 195 686 180C688.7 165 691.3 151.7 694 140C696.7 128.3 699.3 116.7 702 110C704.7 103.3 707.7 100.3 710 100C712.3 99.7 714.2 103.8 716 108C717.8 112.2 719.3 119.7 721 125C722.7 130.3 723.8 136.2 726 140C728.2 143.8 731.5 148.3 734 148C736.5 147.7 738.7 142.7 741 138C743.3 133.3 745.8 123.3 748 120C750.2 116.7 751.8 117.2 754 118C756.2 118.8 758.3 121.7 761 125C763.7 128.3 767.2 133.8 770 138C772.8 142.2 775 146.7 778 150C781 153.3 784.8 158 788 158C791.2 158 794.2 154.7 797 150C799.8 145.3 802.7 136.7 805 130C807.3 123.3 810 113.3 811 110" fill="none" stroke="#ff00ff" stroke-width="4" stroke-linecap="round" stroke-linejoin="round" stroke-dasharray="2.4 8.5"/>
</g>
<clipPath id="cpb"><rect x="946.5" y="5.9" width="680.4" height="566"/></clipPath><g clip-path="url(#cpb)">
<path d="M946.9 461.7C948.1 460.1 951.8 455.4 953.9 451.8C956 448.2 957.8 445.2 959.8 439.9C961.8 434.6 963.7 426.4 965.7 420.1C967.7 413.8 969.9 408.9 971.7 402.3C973.5 395.7 975.1 388.8 976.6 380.5C978.1 372.2 979.4 363 980.6 352.8C981.8 342.6 982.6 330.3 983.6 319.1C984.6 307.9 985.4 295 986.5 285.4C987.6 275.8 989.2 262.7 990.5 261.7C991.8 260.7 993.4 271.6 994.5 279.5C995.6 287.4 996.4 300.6 997.4 309.2C998.4 317.8 999.2 328.4 1000.4 331C1001.6 333.6 1003.2 330.3 1004.4 325C1005.5 319.7 1006.5 310.2 1007.3 299.3C1008.1 288.4 1008.6 271.2 1009.3 259.7C1010 248.1 1010.8 238.4 1011.3 230C1011.8 221.6 1011.8 217.2 1012.6 209C1013.4 200.8 1014.7 186 1016 180.5C1017.3 175 1018.8 174.2 1020.3 176C1021.8 177.8 1023.2 190.8 1024.7 191.5C1026.2 192.2 1027.8 188.6 1029.1 180.5C1030.4 172.4 1031.1 158.4 1032.4 143C1033.7 127.6 1035.4 101.6 1036.9 88C1038.4 74.4 1039.8 65.3 1041.3 61.6C1042.8 57.9 1044.2 61.6 1045.7 66C1047.2 70.4 1048.5 80.7 1050 88C1051.5 95.3 1052.7 100.8 1054.5 110C1056.3 119.2 1058.8 132 1061 143C1063.2 154 1065.5 166.8 1067.7 176C1069.9 185.2 1072.1 198 1074.3 198C1076.5 198 1079.1 183.7 1080.9 176C1082.7 168.3 1083.5 155.7 1085.3 152C1087.1 148.3 1090.1 152.4 1091.9 154C1093.7 155.6 1094.5 161.1 1096.3 161.8C1098.1 162.6 1100.3 160.1 1102.9 158.5C1105.5 156.9 1109.1 156 1111.7 152C1114.3 148 1116.1 137.6 1118.3 134.3C1120.5 131 1122.7 134.9 1124.9 132C1127.1 129.1 1129.7 119.6 1131.5 116.7C1133.3 113.8 1134.2 112.7 1135.9 114.5C1137.6 116.3 1139.6 122.6 1141.4 127.7C1143.2 132.8 1145.2 143.1 1146.9 145.3C1148.6 147.5 1149.7 143.5 1151.3 140.9C1152.9 138.3 1154.6 132.8 1156.8 129.9C1159 127 1161.8 126.2 1164.5 123.3C1167.2 120.4 1170.7 114.9 1173.3 112.3C1175.9 109.7 1177.9 109.4 1179.9 107.9C1181.9 106.4 1183.6 107.5 1185.4 103.5C1187.2 99.5 1188.9 91.3 1190.9 83.6C1192.9 75.9 1195.3 64.3 1197.5 57.2C1199.7 50.1 1201.9 43.3 1204.1 40.7C1206.3 38.1 1208.5 43.4 1210.7 41.8C1212.9 40.1 1214.8 33.9 1217.4 30.8C1220 27.7 1223.3 24.8 1226.2 23.1C1229.1 21.5 1232.2 21.6 1235 20.9C1237.8 20.2 1240.4 18.1 1243.2 18.7C1246 19.2 1249.4 21.8 1252 24.2C1254.6 26.6 1256.4 31.2 1258.6 33C1260.8 34.8 1262.6 36.1 1265.2 35.2C1267.8 34.3 1271.1 27.3 1274 27.5C1276.9 27.7 1279.9 34.1 1282.8 36.3C1285.7 38.5 1288.3 39.4 1291.6 40.7C1294.9 42 1298.6 42.7 1302.6 44C1306.6 45.3 1312.1 45.1 1315.8 48.4C1319.5 51.7 1321.8 58.3 1324.7 63.8C1327.7 69.3 1331 75.9 1333.5 81.4C1336 86.9 1337.8 93.6 1340 96.9C1342.2 100.2 1343.8 102 1346.7 101.3C1349.7 100.5 1354.8 92.8 1357.7 92.4C1360.6 92 1362.1 95.3 1364.3 99C1366.5 102.7 1368.3 109.3 1370.9 114.5C1373.5 119.7 1376.8 126.2 1379.7 129.9C1382.6 133.6 1385.9 133.6 1388.5 136.5C1391.1 139.4 1392.9 144.2 1395.1 147.5C1397.3 150.8 1399.5 155.2 1401.7 156.3C1403.9 157.4 1405.7 156.6 1408.3 154C1410.9 151.4 1414.5 145.7 1417.1 140.9C1419.7 136.2 1421.5 129.3 1423.7 125.5C1425.9 121.7 1427.7 118.5 1430.3 117.8C1432.9 117.1 1436.5 118.7 1439.1 121.1C1441.7 123.5 1443.5 126.5 1445.7 132C1447.9 137.5 1450.5 148.8 1452.3 154C1454.1 159.2 1455 162.9 1456.7 162.9C1458.4 162.9 1460.4 159.2 1462.2 154C1464 148.8 1465.7 139.3 1467.7 132C1469.7 124.7 1472.1 116.2 1474.3 110C1476.5 103.8 1478.7 100.8 1480.9 94.6C1483.1 88.4 1485.3 78.8 1487.5 72.6C1489.7 66.4 1491.5 60.7 1494.1 57.2C1496.7 53.7 1500 53.4 1503 51.7C1506 50.1 1509.6 48 1511.8 47.3C1514 46.6 1514.6 46 1516.3 47.3C1518 48.6 1519.8 51.9 1521.8 55C1523.8 58.1 1526.4 62 1528.4 66C1530.4 70 1532.2 73 1533.9 79.2C1535.6 85.4 1537 94.6 1538.3 103.4C1539.6 112.2 1540.5 122.5 1541.6 132C1542.7 141.5 1543.6 152.2 1544.9 160.6C1546.2 169 1547.8 179.2 1549.3 182.5C1550.8 185.8 1552 181.8 1553.7 180.3C1555.4 178.8 1557.5 173.2 1559.2 173.7C1561 174.2 1562.5 179.5 1564.2 183.3C1566 187.1 1568.1 191.9 1569.7 196.5C1571.3 201.1 1572.4 205.9 1574.1 210.8C1575.8 215.8 1577.9 221.1 1579.6 226.2C1581.2 231.3 1582.3 236.5 1584 241.6C1585.7 246.7 1587.7 251.9 1589.5 257C1591.3 262.1 1593.3 267.6 1595 272.4C1596.7 277.2 1597.8 281.9 1599.4 285.6C1601.1 289.3 1603.1 293.5 1604.9 294.4C1606.7 295.3 1608.4 292.9 1610.4 291.1C1612.4 289.3 1614.8 286 1617 283.4C1619.2 280.8 1622.1 277.5 1623.6 275.7C1625.1 273.9 1625.4 272.9 1625.8 272.4" fill="none" stroke="#ff0000" stroke-width="6.8" stroke-linecap="round" stroke-linejoin="round"/>
<path d="M946.9 471.6C949 467 955.7 452.5 959.8 443.9C963.9 435.3 967.7 424.7 971.7 420.1C975.7 415.5 980.3 419.1 983.6 416.1C986.9 413.1 989.2 407.6 991.5 402.3C993.8 397 995.6 392.8 997.4 384.5C999.2 376.2 1001.1 362.7 1002.4 352.8C1003.7 342.9 1004.4 336.1 1005.3 325C1006.2 313.9 1007 298.5 1008 286C1009 273.5 1009.9 262.8 1011 250C1012.1 237.2 1013.6 225 1014.8 209C1016 193 1016.9 171.2 1018 154C1019.1 136.8 1020.1 122.2 1021.4 105.7C1022.7 89.2 1024.3 67.1 1025.8 55C1027.3 42.9 1028.3 38.1 1030.2 33C1032.1 27.9 1034.7 22.4 1036.9 24.2C1039.1 26 1041.5 36.7 1043.5 44C1045.5 51.3 1047.2 62 1049 68.2C1050.8 74.4 1052.3 78.5 1054.5 81.4C1056.7 84.3 1059.6 87.3 1062.2 85.8C1064.8 84.3 1067.5 69.7 1069.9 72.6C1072.3 75.5 1074.7 93.5 1076.5 103.4C1078.3 113.3 1079.4 122.8 1080.9 132C1082.4 141.2 1083.7 151.2 1085.3 158.5C1086.9 165.8 1088.2 173.4 1090.8 176C1093.4 178.6 1097.2 172.9 1100.7 174C1104.2 175.1 1108.4 181.6 1111.7 182.7C1115 183.8 1117.2 182.7 1120.5 180.5C1123.8 178.3 1128.2 170.2 1131.5 169.5C1134.8 168.8 1137.5 177.8 1140.3 176C1143 174.2 1146 165.8 1148 158.5C1150 151.2 1151.1 141.2 1152.4 132C1153.7 122.8 1154.8 111.8 1155.7 103.4C1156.6 95 1156.8 89.5 1157.9 81.4C1159 73.3 1160.8 60.9 1162.3 55C1163.8 49.1 1165.2 45.1 1166.7 46.2C1168.2 47.3 1169.4 54.6 1171.1 61.6C1172.8 68.6 1174.8 80.7 1176.6 88C1178.4 95.3 1179.7 101.3 1182.1 105.7C1184.5 110.1 1188.2 116.7 1191 114.5C1193.8 112.3 1196 98.7 1198.6 92.4C1201.1 86.2 1203.9 83.2 1206.3 77C1208.7 70.8 1210.8 60.7 1213 55C1215.2 49.3 1216.9 42.5 1219.5 42.9C1222.1 43.3 1225.6 51.9 1228.4 57.2C1231.2 62.5 1233.8 69.3 1236.6 74.8C1239.4 80.3 1242.5 89.5 1245.4 90.2C1248.3 90.9 1251.3 84 1254.2 79.2C1257.1 74.4 1259.7 66.7 1263 61.6C1266.3 56.5 1270.7 52.4 1274 48.4C1277.3 44.4 1279.5 38.9 1282.8 37.4C1286.1 35.9 1289.8 37.8 1293.8 39.6C1297.8 41.4 1303 45.5 1307 48.4C1311 51.3 1314.7 53.2 1318 57.2C1321.3 61.2 1324 67.5 1326.9 72.6C1329.9 77.7 1333.1 80.3 1335.7 88C1338.3 95.7 1339.4 109.2 1342.3 118.8C1345.2 128.3 1349.6 138.7 1353.3 145.3C1357 151.9 1361.4 153.7 1364.3 158.5C1367.2 163.3 1368.3 168.4 1370.9 173.9C1373.5 179.4 1377.1 186.7 1379.7 191.5C1382.3 196.3 1383.4 200.1 1386.3 202.5C1389.2 204.9 1393.6 205.1 1397.3 205.8C1401 206.5 1404.3 205.6 1408.3 206.9C1412.3 208.2 1417.1 210.2 1421.5 213.5C1425.9 216.8 1431.4 222.3 1434.7 226.7C1438 231.1 1438.4 236.6 1441.3 239.9C1444.2 243.2 1449.4 248 1452.3 246.5C1455.2 245 1456.3 236.6 1458.9 231.1C1461.5 225.6 1465.1 220.1 1467.7 213.5C1470.3 206.9 1472.5 199.2 1474.3 191.5C1476.1 183.8 1477.2 175 1478.7 167.3C1480.2 159.6 1481.6 153.4 1483.1 145.3C1484.6 137.2 1485.8 126.9 1487.5 118.8C1489.2 110.7 1490.4 104.9 1493.2 96.8C1496 88.7 1500.2 77.7 1504.2 70.4C1508.2 63.1 1513 56.5 1517.4 52.8C1521.8 49.1 1526.6 47.3 1530.6 48.4C1534.6 49.5 1538.3 52.8 1541.6 59.4C1544.9 66 1547.7 78.8 1550.4 88C1553.2 97.2 1556.1 106.3 1558.1 114.4C1560.1 122.5 1560.8 128.3 1562.5 136.4C1564.2 144.5 1566 155.1 1568 162.8C1570 170.5 1572.7 177.7 1574.6 182.6C1576.5 187.5 1577.5 188.9 1579.6 192.1C1581.7 195.3 1585.1 198.7 1587.3 202C1589.5 205.3 1590.6 208.2 1592.8 211.9C1595 215.6 1597.6 222.9 1600.5 224C1603.4 225.1 1607.3 222.5 1610.4 218.5C1613.5 214.5 1616.7 204.9 1619.2 199.8C1621.7 194.7 1624.5 190 1625.5 188" fill="none" stroke="#000000" stroke-width="5" stroke-linecap="round" stroke-linejoin="round" stroke-dasharray="17 12.4 1.7 12.4"/>
<path d="M946.9 463.7C948.4 459.4 953 447.1 955.8 437.9C958.6 428.6 961.1 417.1 963.8 408.2C966.4 399.3 969.1 390.1 971.7 384.5C974.3 378.9 977 378.2 979.6 374.6C982.2 371 985.5 368 987.5 362.7C989.5 357.4 989.5 347.5 991.5 342.9C993.5 338.3 997.1 338.3 999.4 335C1001.7 331.7 1003.7 330.6 1005.3 323.1C1006.9 315.6 1007.8 303.5 1009 290C1010.2 276.5 1011.4 262.5 1012.6 242C1013.8 221.5 1014.5 181.3 1016 167C1017.5 152.7 1019 159.7 1021.4 156C1023.8 152.3 1028 149 1030.2 145C1032.4 141 1033.2 137.8 1034.7 132C1036.2 126.2 1037.2 116.2 1039 110C1040.8 103.8 1043.5 100.5 1045.7 94.6C1047.9 88.7 1049.8 78.5 1052.3 74.8C1054.8 71.1 1058.1 75.5 1061 72.6C1063.9 69.7 1067.1 61.6 1069.9 57.2C1072.7 52.8 1075 44.7 1077.6 46.2C1080.2 47.7 1082.9 58.3 1085.3 66C1087.7 73.7 1090.1 84 1091.9 92.4C1093.7 100.9 1094.5 109.7 1096.3 116.7C1098.1 123.7 1100.3 130.3 1102.9 134.3C1105.5 138.3 1108.8 138.7 1111.7 140.9C1114.6 143.1 1117.2 147.9 1120.5 147.5C1123.8 147.1 1127.8 140.9 1131.5 138.7C1135.2 136.5 1139.2 133.2 1142.5 134.3C1145.8 135.4 1148.7 144.9 1151.3 145.3C1153.9 145.7 1156.1 143.1 1157.9 136.5C1159.7 129.9 1160.8 114.5 1162.3 105.7C1163.8 96.9 1164.9 89.1 1166.7 83.6C1168.5 78.1 1170.4 75.2 1173.3 72.6C1176.2 70 1181 70 1184.3 68.2C1187.6 66.4 1189.8 65.6 1193.1 61.6C1196.4 57.6 1200.8 49.9 1204.1 44C1207.4 38.1 1210 30.4 1213 26.4C1216 22.4 1218.9 19.2 1221.8 19.8C1224.7 20.4 1227 27.8 1230.6 30C1234.2 32.2 1238.9 33.2 1243.2 33C1247.5 32.8 1252 29.7 1256.4 28.6C1260.8 27.5 1265.6 28 1269.6 26.4C1273.6 24.8 1276.9 19.8 1280.6 18.7C1284.3 17.6 1287.6 18.5 1291.6 19.8C1295.6 21.1 1300.4 23.8 1304.8 26.4C1309.2 29 1314.7 31.2 1318 35.2C1321.3 39.2 1322.7 45.5 1324.7 50.6C1326.7 55.7 1328.4 60.1 1330.2 66C1332 71.9 1333.7 79.2 1335.7 85.8C1337.7 92.4 1340.1 99.5 1342.3 105.7C1344.5 112 1346 120 1348.9 123.3C1351.8 126.6 1356.2 122.9 1359.9 125.5C1363.6 128.1 1368 133.9 1370.9 138.7C1373.8 143.4 1374.6 148.9 1377.5 154C1380.4 159.1 1384.8 164.7 1388.5 169.5C1392.2 174.3 1396.6 179.4 1399.5 182.7C1402.4 186 1403.2 190 1406.1 189.3C1409 188.6 1413.8 182.4 1417.1 178.3C1420.4 174.2 1423.3 170.1 1425.9 165C1428.5 159.9 1429.9 152.2 1432.5 147.5C1435.1 142.8 1438 138.3 1441.3 136.5C1444.6 134.7 1449 137.2 1452.3 136.5C1455.6 135.8 1458.2 136.4 1461.1 132C1464 127.6 1467 116.2 1469.9 110C1472.8 103.8 1475.8 99.7 1478.7 94.6C1481.6 89.5 1484.6 84.3 1487.5 79.2C1490.4 74.1 1493.1 68.6 1496.3 63.8C1499.5 59 1502.7 54.1 1506.4 50.6C1510.1 47.1 1514.5 43.3 1518.5 42.9C1522.5 42.5 1527.5 42.7 1530.6 48.4C1533.7 54.1 1535.4 66.7 1537.2 77C1539 87.3 1540.1 100.1 1541.6 110C1543.1 119.9 1544.2 130.2 1546 136.4C1547.8 142.6 1549.7 144.5 1552.6 147.4C1555.5 150.3 1560.7 149.6 1563.6 154C1566.5 158.4 1568 167.6 1570.2 173.8C1572.4 180 1574.6 185.2 1576.8 191.4C1579 197.6 1581.3 205.2 1583.4 211.2C1585.5 217.2 1587.8 222.2 1589.5 227.3C1591.2 232.4 1592.4 237.8 1593.9 241.6C1595.4 245.4 1596.7 247.3 1598.3 250.4C1599.9 253.5 1601.8 257.4 1603.8 260.3C1605.8 263.2 1608.2 266.4 1610.4 268C1612.6 269.6 1614.7 270 1617 270.2C1619.3 270.4 1623.2 269.3 1624.5 269.1" fill="none" stroke="#0000ff" stroke-width="3.5" stroke-linecap="butt" stroke-linejoin="round" stroke-dasharray="3.6 4"/>
<path d="M946.9 473.6C949 469.3 956 456.1 959.8 447.8C963.6 439.5 966.4 430.6 969.7 424C973 417.4 975.6 411.5 979.6 408.2C983.6 404.9 990.2 407.6 993.5 404.3C996.8 401 997.6 394.3 999.4 388.4C1001.2 382.4 1003.1 376.5 1004.4 368.6C1005.7 360.7 1006.4 352.3 1007.3 340.9C1008.2 329.5 1009 316.8 1010 300C1011 283.2 1012 260 1013 240C1014 220 1014.9 198.3 1016 180C1017.1 161.7 1018.2 145.3 1019.5 130C1020.8 114.7 1021.8 104.9 1023.6 88C1025.4 71.1 1028 39.6 1030.2 28.6C1032.4 17.6 1035.1 20.5 1036.9 22C1038.8 23.5 1039.8 28.2 1041.3 37.4C1042.8 46.6 1043.9 64.9 1045.7 77C1047.5 89.1 1049.8 101.5 1052.3 110C1054.8 118.5 1058.4 120.4 1061 127.7C1063.6 135 1065.9 145.2 1067.7 154C1069.5 162.8 1070.7 169.5 1072 180.5C1073.3 191.5 1073.9 209.8 1075.4 220C1076.9 230.2 1079.2 236.1 1080.9 242C1082.6 247.9 1083.1 256 1085.3 255.3C1087.5 254.6 1091.4 245.8 1094 237.7C1096.6 229.6 1098.1 214.3 1100.7 207C1103.3 199.7 1106.6 198.1 1109.5 193.7C1112.4 189.3 1116.1 187.1 1118.3 180.5C1120.5 173.9 1121.2 163.5 1122.7 154C1124.2 144.5 1125.3 133.6 1127.1 123.3C1128.9 113 1131.5 102 1133.7 92.4C1135.9 82.9 1138.1 73.3 1140.3 66C1142.5 58.7 1144.3 54.3 1146.9 48.4C1149.5 42.5 1153.1 30.4 1155.7 30.8C1158.3 31.2 1160.1 41.1 1162.3 50.6C1164.5 60.1 1167.2 77.3 1169 88C1170.8 98.7 1172.2 105.7 1173.3 114.5C1174.4 123.3 1174.4 131.4 1175.5 140.9C1176.6 150.4 1178.9 164 1180 171.7C1181.1 179.4 1180.6 181.5 1182.1 187C1183.5 192.5 1186.5 202.5 1188.7 204.7C1190.9 206.9 1193.3 205.1 1195.3 200.3C1197.3 195.5 1199 185.9 1200.8 176C1202.6 166.1 1204.6 153 1206.3 140.9C1208 128.8 1209.2 115.2 1210.7 103.4C1212.2 91.7 1213.4 80.3 1215.2 70.4C1217 60.5 1219.3 47.4 1221.8 44C1224.3 40.6 1227.2 45.2 1230 50C1232.8 54.8 1236.2 66.3 1238.8 72.6C1241.4 78.9 1243.2 82.1 1245.4 88C1247.6 93.9 1248.7 105.2 1252 107.8C1255.3 110.4 1260.8 106 1265.2 103.4C1269.6 100.8 1273.6 95 1278.4 92.4C1283.2 89.8 1289 89.8 1293.8 88C1298.6 86.2 1303 83.2 1307 81.4C1311 79.6 1314.7 76.6 1318 77C1321.3 77.4 1324.3 80.3 1326.9 83.6C1329.5 86.9 1331.3 90.2 1333.5 96.8C1335.7 103.4 1338.2 115.9 1340 123.3C1341.8 130.7 1342.3 135.1 1344.5 140.9C1346.7 146.7 1350.4 155.2 1353.3 158C1356.2 160.8 1357.6 158 1362 158C1366.4 158 1373.8 156.4 1379.7 158C1385.6 159.6 1393.3 163.2 1397.3 167.3C1401.3 171.4 1401.7 176.8 1403.9 182.7C1406.1 188.6 1407.9 197 1410.5 202.5C1413.1 208 1415.3 210.9 1419.3 215.7C1423.3 220.5 1430.3 225.2 1434.7 231.1C1439.1 237 1443.1 245 1445.7 250.9C1448.3 256.8 1447.2 264.1 1450.1 266.3C1453 268.5 1460 267.4 1463.3 264.1C1466.6 260.8 1467.7 254.2 1469.9 246.5C1472.1 238.8 1474.3 228.2 1476.5 217.9C1478.7 207.6 1481.1 197 1483.1 184.9C1485.1 172.8 1486.8 157.8 1488.6 145.3C1490.4 132.8 1492.1 121.8 1494.1 110C1496.1 98.2 1498.5 84.7 1500.7 74.8C1502.9 64.9 1505.1 57 1507.3 50.6C1509.5 44.2 1511.3 37 1514.1 36.3C1516.9 35.6 1520.5 43.5 1524 46.2C1527.5 49 1532.1 47.3 1535 52.8C1537.9 58.3 1539.8 71.5 1541.6 79.2C1543.4 86.9 1544.5 91.3 1546 99C1547.5 106.7 1548.8 115.5 1550.4 125.4C1552.1 135.3 1553.7 147.8 1555.9 158.4C1558.1 169 1560.1 183 1563.6 189.2C1567.1 195.4 1572 195.8 1576.8 195.8C1581.6 195.8 1588.9 188.5 1592.2 189.2C1595.5 189.9 1594 194.7 1596.6 200.2C1599.2 205.7 1603.8 216.3 1607.6 222.2C1611.4 228.1 1616.8 232.4 1619.7 235.4C1622.6 238.4 1624.1 239.2 1625 240" fill="none" stroke="#006e00" stroke-width="4.5" stroke-linecap="round" stroke-linejoin="round" stroke-dasharray="14.6 20.3"/>
<path d="M946.9 475.5C949 472.2 956.3 463.6 959.8 455.7C963.3 447.8 965.1 437.6 967.7 428C970.3 418.4 973 406.6 975.6 398.3C978.2 390.1 980.3 382.4 983.6 378.5C986.9 374.6 992.4 378.2 995.4 374.6C998.4 371 999.9 363.6 1001.4 356.7C1002.9 349.8 1003.3 344.1 1004.4 333C1005.5 321.9 1006.7 307.2 1008 290C1009.3 272.8 1010.7 252.7 1012 230C1013.3 207.3 1014.5 175.7 1016 154C1017.5 132.3 1019.3 116.5 1021 100C1022.7 83.5 1024.5 66.2 1026 55C1027.5 43.8 1028.6 39 1030.2 33C1031.8 27 1033.5 19.1 1035.7 18.7C1037.9 18.3 1041.3 25.5 1043.5 30.8C1045.7 36.1 1047.2 44.7 1049 50.6C1050.8 56.5 1052.7 66 1054.5 66C1056.3 66 1058.3 54.6 1060 50.6C1061.7 46.6 1062.6 41.4 1064.4 41.8C1066.2 42.2 1069 45.1 1071 52.8C1073 60.5 1074.7 75.5 1076.5 88C1078.3 100.5 1080.2 117.4 1082 127.7C1083.8 138 1085.5 144.6 1087.5 149.7C1089.5 154.8 1091.4 157.8 1094 158.5C1096.6 159.2 1100 158.8 1102.9 154C1105.9 149.2 1108.8 138.3 1111.7 129.9C1114.6 121.5 1117.6 109.7 1120.5 103.4C1123.4 97.2 1126.4 95.7 1129.3 92.4C1132.2 89.1 1135.5 82.5 1138.1 83.6C1140.7 84.7 1142.5 99.4 1144.7 99C1146.9 98.6 1149.1 88.7 1151.3 81.4C1153.5 74.1 1155.3 58.3 1157.9 55C1160.5 51.7 1163.8 53.9 1166.7 61.6C1169.6 69.3 1172.6 89.8 1175.5 101.2C1178.4 112.6 1181 127 1184.3 129.9C1187.6 132.8 1192 125.8 1195.3 118.8C1198.6 111.8 1201.5 99.4 1204.1 88C1206.7 76.6 1208.5 59.8 1210.7 50.6C1212.9 41.4 1214.8 34.5 1217.4 33C1220 31.5 1223.6 37.3 1226.2 41.8C1228.8 46.3 1230.5 54.9 1233 60C1235.5 65.1 1238.2 73.1 1241 72.6C1243.8 72.1 1247.2 62 1249.8 57.2C1252.4 52.4 1253.1 44.7 1256.4 44C1259.7 43.3 1264.8 50.4 1269.6 52.8C1274.4 55.2 1280.2 55.4 1285 58.3C1289.8 61.2 1293.4 68.4 1298.2 70.4C1303 72.4 1309.2 68.2 1313.6 70.4C1318 72.6 1320.7 78.4 1324.7 83.6C1328.8 88.8 1334.6 94.7 1337.9 101.3C1341.2 107.9 1341.9 115.6 1344.5 123.3C1347.1 131 1349.6 140.6 1353.3 147.5C1357 154.4 1363.2 158 1366.5 165C1369.8 172 1370.9 180.9 1373.1 189.3C1375.3 197.8 1376.4 210.6 1379.7 215.7C1383 220.8 1388.9 216 1392.9 220C1396.9 224 1400.6 234.8 1403.9 239.9C1407.2 245.1 1410.1 252 1412.7 250.9C1415.3 249.8 1417.5 239.5 1419.3 233.3C1421.1 227.1 1421.5 217.9 1423.7 213.5C1425.9 209.1 1429.6 206.5 1432.5 206.9C1435.4 207.3 1438.7 211.7 1441.3 215.7C1443.9 219.7 1445 227.4 1447.9 231.1C1450.8 234.8 1455.2 236.2 1458.9 237.7C1462.6 239.2 1467 241.7 1469.9 239.9C1472.8 238.1 1474.8 230.8 1476.5 226.7C1478.2 222.5 1478.3 221.6 1480 215C1481.7 208.4 1484.4 199 1486.6 187C1488.8 175 1491 155.8 1493.2 143C1495.4 130.2 1497.6 119.9 1499.8 110C1502 100.1 1504.2 90.9 1506.4 83.6C1508.6 76.3 1510.1 70.4 1513 66C1515.9 61.6 1520.7 59.8 1524 57.2C1527.3 54.6 1529.1 52.2 1532.8 50.6C1536.5 49 1542.3 45.8 1546 47.3C1549.7 48.8 1552.2 52.6 1554.8 59.4C1557.4 66.2 1559.2 78.8 1561.4 88C1563.6 97.2 1565.4 105.6 1568 114.4C1570.6 123.2 1574.2 133.5 1576.8 140.8C1579.4 148.1 1581.2 152.5 1583.4 158.4C1585.6 164.3 1588.4 171.5 1590 176C1591.6 180.5 1591.6 182.8 1592.8 185.5C1594 188.2 1595.2 189.7 1597.2 192.1C1599.2 194.5 1602.5 198.2 1604.9 199.8C1607.3 201.4 1609.1 201.5 1611.5 201.5C1613.9 201.5 1616.9 200.1 1619.2 199.8C1621.5 199.5 1624.3 199.8 1625.3 199.8" fill="none" stroke="#ff00ff" stroke-width="4.6" stroke-linecap="round" stroke-linejoin="round" stroke-dasharray="5.2 10.5"/>
</g>
<clipPath id="cpc"><rect x="131.2" y="702" width="680.8" height="565.9"/></clipPath><g clip-path="url(#cpc)">
<path d="M131.4 1175.7C132.5 1173.9 135.3 1169.7 137.8 1165.1C140.3 1160.5 143.8 1153.4 146.3 1148.1C148.8 1142.8 150.6 1139.2 152.7 1133.2C154.8 1127.2 156.9 1119 159 1111.9C161.1 1104.8 163.3 1097 165.4 1090.6C167.5 1084.2 170 1079.3 171.8 1073.6C173.6 1067.9 174.7 1063.3 176.1 1056.6C177.5 1049.9 179.1 1041.3 180.3 1033.2C181.5 1025.1 182.4 1015.9 183.5 1007.7C184.6 999.6 185.7 993.4 186.7 984.3C187.7 975.2 188.2 967.5 189.4 953.1C190.6 938.7 192.5 916.4 193.8 898.1C195.1 879.8 196.2 859.6 197.1 843.1C198 826.6 198.4 811.1 199.3 799C200.2 786.9 201.1 777.7 202.6 770.4C204.1 763.1 206.3 760.5 208.1 755C209.9 749.5 212.1 741.1 213.6 737.4C215.1 733.7 215.4 731.2 216.9 733C218.4 734.8 220.7 741.4 222.5 748.4C224.3 755.4 226.2 766.4 228 774.8C229.8 783.2 232 794.6 233.5 799C235 803.4 235.7 803.9 236.8 801.3C237.9 798.7 238.8 791.3 240.1 783.6C241.4 775.9 243 764.5 244.5 755C246 745.5 247.4 733.4 248.9 726.4C250.4 719.4 251.7 713.9 253.3 713.2C255 712.5 257.3 716.9 258.8 722C260.3 727.1 260.8 734.8 262.1 744C263.4 753.2 265 767.8 266.5 777C268 786.2 269.4 793.5 270.9 799C272.4 804.5 273.5 805.2 275.3 810C277.1 814.8 279.9 822.2 281.9 827.7C283.9 833.2 285.6 839.4 287.4 843.1C289.2 846.8 291.2 851.6 292.9 849.7C294.5 847.9 295.8 838.6 297.3 832C298.8 825.4 300.2 817.3 301.7 810C303.2 802.7 304.6 794.6 306.1 788C307.6 781.4 309 777.7 310.5 770.4C312 763.1 313.1 751.3 314.9 744C316.7 736.7 319.1 730.8 321.5 726.4C323.9 722 327 717.6 329.2 717.6C331.4 717.6 333 722 334.7 726.4C336.4 730.8 337.5 738.1 339.1 744C340.8 749.9 342.8 758.3 344.6 761.6C346.4 764.9 348.5 764.9 350.1 763.8C351.8 762.7 352.7 758.7 354.5 755C356.3 751.3 358.5 745.5 361.1 741.8C363.7 738.1 367 735.6 369.9 733C372.8 730.4 375.8 728.4 378.7 726.4C381.6 724.4 385.1 721.6 387.5 720.9C389.9 720.2 391.5 720 393 722C394.5 724 395 727.5 396.3 733C397.6 738.5 398.9 747.7 400.7 755C402.5 762.3 405.1 773 407.3 777C409.5 781 411.7 781.4 413.9 779.2C416.1 777 418.5 769.7 420.6 763.8C422.7 757.9 424.5 749.9 426.6 744C428.7 738.1 430.6 732.3 433.2 728.6C435.8 724.9 439.4 723.5 442 722C444.6 720.5 446 719.4 448.6 719.8C451.2 720.2 454.8 721.6 457.4 724.2C460 726.8 461.8 732.3 464 735.2C466.2 738.1 468.4 741.1 470.6 741.8C472.8 742.5 475 739.2 477.2 739.6C479.4 740 481.6 742 483.8 744C486 746 488.2 751.3 490.4 751.7C492.6 752.1 494.8 747.9 497 746.2C499.2 744.6 501.4 740 503.6 741.8C505.8 743.6 508 750.6 510.2 757.2C512.4 763.8 514.7 773.3 516.9 781.4C519.1 789.5 521.3 798.4 523.5 805.7C525.7 813.1 527.9 819.6 530.1 825.5C532.3 831.4 534.5 834.7 536.7 840.9C538.9 847.1 541.1 855.6 543.3 862.9C545.5 870.2 547.7 876.8 549.9 884.9C552.1 893 554.3 904 556.5 911.3C558.7 918.6 560.5 923.4 563.1 928.9C565.7 934.4 569.3 940.6 571.9 944.3C574.5 948 576.3 951.3 578.5 950.9C580.7 950.5 583.3 946.1 585.1 942.1C586.9 938.1 588 931.5 589.5 926.7C591 921.9 592.1 916.4 593.9 913.5C595.7 910.6 597.9 910.2 600.5 909.1C603.1 908 606.4 907.6 609.3 906.9C612.2 906.2 615.5 905.6 618.1 904.7C620.7 903.8 622.1 901.6 624.7 901.4C627.3 901.2 631.3 904.1 633.5 903.6C635.7 903.1 636.4 900.9 637.9 898.1C639.4 895.4 640.5 892.2 642.3 887.1C644.1 882 647.1 874.6 648.9 867.3C650.7 860 651.8 850.8 653.3 843.1C654.8 835.4 656.2 828.5 657.7 821.1C659.2 813.8 660.3 806.4 662.1 799C663.9 791.6 666.5 783.2 668.7 777C670.9 770.8 673.1 765.6 675.3 761.6C677.5 757.6 679.8 754.8 681.9 752.8C684 750.8 685.7 749.2 688.1 749.7C690.5 750.2 693.4 754 696.1 756.1C698.8 758.2 701.5 760.6 704.2 762.6C706.9 764.6 709.9 766.7 712.3 768.3C714.7 769.9 716.6 770 718.8 772.3C720.9 774.6 723.1 778.5 725.2 782C727.4 785.5 729.3 789 731.7 793.3C734.1 797.6 737 802.9 739.7 807.8C742.4 812.6 745.1 818.1 747.8 822.4C750.5 826.7 753.5 829.7 755.9 833.7C758.3 837.7 760.2 841.2 762.4 846.6C764.5 852 766.9 860 768.8 865.9C770.7 871.8 772.1 876.7 773.7 882.1C775.3 887.5 776.6 892.8 778.5 898.2C780.4 903.6 782.9 909.5 785 914.4C787.1 919.2 789 924.1 791.4 927.3C793.8 930.5 796.8 933.3 799.5 933.8C802.2 934.3 805.7 931.6 807.6 930.5C809.5 929.4 810.3 927.8 810.8 927.3" fill="none" stroke="#ff0000" stroke-width="6.6" stroke-linecap="round" stroke-linejoin="round"/>
<path d="M131.4 1170C132.8 1168.7 136.9 1165.3 140 1162C143.1 1158.7 146.7 1155.3 150 1150C153.3 1144.7 157.2 1136.7 160 1130C162.8 1123.3 164.8 1117.5 167 1110C169.2 1102.5 171.2 1093 173 1085C174.8 1077 176.5 1069.5 178 1062C179.5 1054.5 180.3 1053 182 1040C183.7 1027 186.7 998.8 188.2 984.3C189.7 969.8 189.7 967.5 190.9 953.1C192.1 938.7 194 916.4 195.3 898.1C196.6 879.8 197.7 859.6 198.6 843.1C199.5 826.6 199.9 811.1 200.8 799C201.7 786.9 202.6 777.7 204.1 770.4C205.6 763.1 208 760.9 209.6 755C211.2 749.1 211.8 740.1 213.6 735C215.4 729.9 218 722 220.2 724.2C222.4 726.4 225.1 740.8 226.9 748.4C228.7 756 229.9 762.2 231 770C232.1 777.8 232.3 788 233.5 795C234.7 802 236.2 810.3 237.9 812C239.7 813.7 241.8 806.8 244 805C246.2 803.2 248.3 801.9 251 801.3C253.7 800.7 257.7 803.2 259.9 801.3C262.1 799.4 262.8 796.9 264 790C265.2 783.1 265.9 771 267 760C268.1 749 269.6 729.5 270.9 724.2C272.2 718.9 273.5 724.7 275 728C276.5 731.3 278.2 734 279.7 744C281.2 754 282.6 774.8 284.1 788C285.6 801.2 287 813 288.5 823.3C290 833.6 291.1 843.1 292.9 849.7C294.7 856.3 296.6 862.2 299.5 862.9C302.4 863.6 307.6 857.8 310.5 854.1C313.4 850.4 314.9 846 317.1 840.9C319.3 835.8 321.5 832.1 323.7 823.3C325.9 814.5 328.1 801.2 330.3 788C332.5 774.8 335.1 752.4 336.9 744C338.7 735.6 339.5 734.5 341.3 737.4C343.1 740.3 346.1 753.9 347.9 761.6C349.7 769.3 350.5 777 352.3 783.6C354.1 790.2 357.1 799.4 358.9 801.3C360.7 803.1 361.5 799.5 363.3 794.7C365.1 789.9 367.7 780 369.9 772.6C372.1 765.2 373.9 756.5 376.5 750.6C379.1 744.7 382.4 740.7 385.3 737.4C388.2 734.1 390.8 732.6 394.1 730.8C397.4 729 401.4 727.3 405.1 726.4C408.8 725.5 412.4 726 416.1 725.3C419.8 724.6 423.9 722.9 427.2 722C430.5 721.1 432.5 719.7 436 720C439.5 720.3 444 722.3 448 724C452 725.7 456.3 728.2 460 730C463.7 731.8 466.7 735.3 470 735C473.3 734.7 476.3 727.2 480 728C483.7 728.8 488.3 737.7 492 740C495.7 742.3 499 738.3 502 742C505 745.7 507.5 754.8 510 762C512.5 769.2 514.7 777.8 517 785C519.3 792.2 521.7 798.2 524 805C526.3 811.8 528.7 819.3 531 826C533.3 832.7 535.7 838 538 845C540.3 852 542.7 860 545 868C547.3 876 549.7 884.7 552 893C554.3 901.3 556.7 910.5 559 918C561.3 925.5 563.5 933 566 938C568.5 943 571.7 946 574 948C576.3 950 578 951.7 580 950C582 948.3 584 943.3 586 938C588 932.7 590.2 923.7 592 918C593.8 912.3 595.3 907.3 597 904C598.7 900.7 600.2 897.3 602 898C603.8 898.7 606 905.2 608 908C610 910.8 611.6 912.6 614 915C616.4 917.4 619.8 922.8 622.5 922.3C625.2 921.8 627.4 916.5 630 912C632.6 907.5 635.5 901.2 638 895C640.5 888.8 642.8 882.2 645 875C647.2 867.8 649.2 859.2 651 852C652.8 844.8 654.2 838.2 656 832C657.8 825.8 659.7 822 662 815C664.3 808 667.3 796.7 670 790C672.7 783.3 675.6 779 678 775C680.4 771 682.4 768.6 684.1 766C685.8 763.4 686.6 762.1 688.1 759.4C689.6 756.7 690.2 752.7 692.9 749.7C695.6 746.7 700.9 743 704.2 741.6C707.6 740.2 710.3 738.4 713 741.6C715.7 744.8 717.8 753.7 720.4 761C723 768.3 726 776.6 728.4 785.2C730.8 793.8 733 803.6 734.9 812.7C736.8 821.9 737.6 832.3 739.7 840.1C741.9 847.9 744.3 854.6 747.8 859.5C751.3 864.4 756.4 864.9 760.7 869.2C765 873.5 769.7 881.3 773.7 885.3C777.8 889.3 781.2 893.1 785 893.4C788.8 893.7 792.8 886.7 796.3 887C799.8 887.3 803.6 892 806 895C808.4 898 810 903.1 810.8 904.7" fill="none" stroke="#000000" stroke-width="3.6" stroke-linecap="round" stroke-linejoin="round" stroke-dasharray="11.4 8.6 1 9.3"/>
<path d="M131.4 1168C132.8 1166.7 136.9 1163.3 140 1160C143.1 1156.7 146.7 1154 150 1148C153.3 1142 157.2 1132 160 1124C162.8 1116 164.8 1107.7 167 1100C169.2 1092.3 171.2 1084.7 173 1078C174.8 1071.3 176.5 1066.7 178 1060C179.5 1053.3 180.3 1050.6 182 1038C183.7 1025.4 186.7 998.4 188.2 984.3C189.7 970.1 189.7 967.5 190.9 953.1C192.1 938.7 194 916.4 195.3 898.1C196.6 879.8 197.7 859.6 198.6 843.1C199.5 826.6 199.9 811.1 200.8 799C201.7 786.9 202.6 777.7 204.1 770.4C205.6 763.1 208 760.6 209.6 755C211.2 749.4 212.2 741 213.6 737C215 733 216.5 729.5 218 730.8C219.5 732.1 221 739.1 222.5 745C224 750.9 225.5 759.3 226.9 766C228.3 772.7 229.5 778.8 231 785C232.5 791.2 233.4 802.3 235.7 803.5C237.9 804.7 241.9 797.9 244.5 792.4C247.1 786.9 249 775.5 251.1 770.4C253.2 765.3 255.2 764.2 257 762C258.8 759.8 260.5 762.8 262.1 757.2C263.7 751.6 264.9 735.2 266.5 728.6C268.1 722 270.2 716.9 272 717.6C273.8 718.3 275.9 724.9 277.5 733C279.1 741.1 280.4 753.2 281.9 766C283.4 778.8 284.8 795.3 286.3 810C287.8 824.7 289.2 839.4 290.7 854.1C292.2 868.8 293.6 886.8 295.1 898.1C296.6 909.4 298 915.8 299.5 922C301 928.2 302.1 938.4 303.9 935.5C305.7 932.6 308.3 918.3 310.5 904.7C312.7 891.1 314.9 866.2 317.1 854.1C319.3 842 321.9 839.5 323.7 832.1C325.5 824.8 326.6 821 328.1 810C329.6 799 331 777 332.5 766C334 755 334.7 746.2 336.9 744C339.1 741.8 343.1 749.5 345.7 752.8C348.3 756.1 349.7 759.8 352.3 763.8C354.9 767.8 358.5 776.6 361.1 777C363.7 777.4 365.5 771.5 367.7 766C369.9 760.5 371.7 748.8 374.3 744C376.9 739.2 379.8 738.9 383.1 737.4C386.4 735.9 390.4 734.5 394.1 735.2C397.8 735.9 401.4 741.1 405.1 741.8C408.8 742.5 412.4 741.1 416.1 739.6C419.8 738.1 423.9 734.9 427.2 733C430.5 731.1 432.5 729.2 436 728C439.5 726.8 444.3 725.7 448 726C451.7 726.3 454.7 727.7 458 730C461.3 732.3 464.7 737.5 468 740C471.3 742.5 474.3 743 478 745C481.7 747 486.3 751.5 490 752C493.7 752.5 497 747 500 748C503 749 505.5 752.3 508 758C510.5 763.7 512.7 774.2 515 782C517.3 789.8 519.5 797.7 522 805C524.5 812.3 527.5 819.5 530 826C532.5 832.5 534.7 837.3 537 844C539.3 850.7 541.7 858.3 544 866C546.3 873.7 548.7 881.8 551 890C553.3 898.2 555.7 907.5 558 915C560.3 922.5 562.3 929.5 565 935C567.7 940.5 571.5 945.8 574 948C576.5 950.2 578 950.2 580 948C582 945.8 584 940.5 586 935C588 929.5 590 920 592 915C594 910 595.3 906.8 598 905C600.7 903.2 604.7 901.8 608 904C611.3 906.2 615 915.3 618 918C621 920.7 623.3 922.2 626 920C628.7 917.8 631.5 910.8 634 905C636.5 899.2 638.7 892.2 641 885C643.3 877.8 645.7 869.5 648 862C650.3 854.5 652.7 848.3 655 840C657.3 831.7 659.5 821 662 812C664.5 803 667 791 670 786C673 781 677.2 787 680 782C682.8 777 684.4 762 686.5 756.1C688.6 750.2 689.9 748.6 692.9 746.5C695.9 744.4 700.4 742.9 704.2 743.2C708 743.5 712.5 745.1 715.5 748.1C718.5 751.1 719.9 755.6 722 761C724.1 766.4 726.5 773.1 728.4 780.4C730.3 787.7 731.7 796.3 733.3 804.6C734.9 812.9 736.5 822.6 738.1 830.4C739.7 838.2 741.1 844.4 743 851.4C744.9 858.4 747 867.3 749.4 872.4C751.8 877.5 754.8 881 757.5 882.1C760.2 883.2 762.9 878.4 765.6 878.9C768.3 879.4 771 882.9 773.7 885.3C776.4 887.7 778.8 893.4 781.7 893.4C784.7 893.4 788.4 885.3 791.4 885.3C794.4 885.3 797.1 890.2 799.5 893.4C801.9 896.6 804 900.7 805.9 904.7C807.8 908.7 810 915.5 810.8 917.6" fill="none" stroke="#0000ff" stroke-width="2.7" stroke-linecap="butt" stroke-linejoin="round" stroke-dasharray="2.6 2.7"/>
<path d="M131.4 1172C132.8 1170 136.9 1165.3 140 1160C143.1 1154.7 147 1147.5 150 1140C153 1132.5 155.3 1123.3 158 1115C160.7 1106.7 163.4 1096.9 166 1090C168.6 1083.1 171.4 1079.2 173.3 1073.6C175.2 1068 176.2 1063.3 177.6 1056.6C179 1049.9 180.6 1041.3 181.8 1033.2C183 1025.1 183.9 1015.9 185 1007.7C186.1 999.6 187.2 993.4 188.2 984.3C189.2 975.2 189.7 967.5 190.9 953.1C192.1 938.7 194 916.4 195.3 898.1C196.6 879.8 197.7 859.6 198.6 843.1C199.5 826.6 199.9 811.1 200.8 799C201.7 786.9 202.6 777.7 204.1 770.4C205.6 763.1 208 760.5 209.6 755C211.2 749.5 212.4 740.7 213.6 737.4C214.8 734.1 215.4 732.9 216.9 735C218.4 737.1 220.7 743.2 222.5 750C224.3 756.8 226.2 768 228 776C229.8 784 232 794 233.5 798C235 802 235.7 802.4 236.8 800C237.9 797.6 238.8 791.1 240.1 783.6C241.4 776.1 243 764.3 244.5 755C246 745.7 247.4 734.5 248.9 728C250.4 721.5 251.7 716.5 253.3 716C255 715.5 257.3 720.2 258.8 725C260.3 729.8 260.8 738.2 262.1 745C263.4 751.8 264.9 760.8 266.5 766C268.1 771.2 270.2 773.1 272 776C273.8 778.9 275.5 778.6 277.5 783.6C279.5 788.6 281.5 794 284.1 805.7C286.7 817.5 290.7 844.6 292.9 854.1C295.1 863.6 295.5 864.4 297.3 862.9C299.1 861.4 301.7 854.1 303.9 845.3C306.1 836.5 308.3 823.2 310.5 810C312.7 796.8 314.9 779.6 317.1 766C319.3 752.4 321.7 734.6 323.7 728.6C325.7 722.6 327.2 726.3 329 730C330.8 733.7 333 741.7 334.7 750.6C336.4 759.5 337.8 771.9 339.1 783.6C340.4 795.3 341.1 809.2 342.4 821C343.7 832.8 344.8 851.5 346.8 854.1C348.8 856.7 352.5 843.9 354.5 836.5C356.5 829.1 357.4 818.1 358.9 810C360.4 801.9 361.5 796.1 363.3 788C365.1 779.9 367.7 770.8 369.9 761.6C372.1 752.4 373.9 740.3 376.5 733C379.1 725.7 382.7 720.9 385.3 717.6C387.9 714.3 389.7 711.4 391.9 713.2C394.1 715 396.3 720.5 398.5 728.6C400.7 736.7 402.5 752.8 405.1 761.6C407.7 770.4 411.3 779.2 413.9 781.4C416.5 783.6 418.4 778.5 420.6 774.8C422.8 771.1 425 764.4 427.2 759.4C429.4 754.4 431.9 749.1 434 745C436.1 740.9 437.3 738.3 440 735C442.7 731.7 446.7 727.2 450 725C453.3 722.8 457 719.8 460 722C463 724.2 465 735.3 468 738C471 740.7 475 739.7 478 738C481 736.3 483.2 728 486 728C488.8 728 492.3 735.7 495 738C497.7 740.3 499.5 738.3 502 742C504.5 745.7 507.5 753.2 510 760C512.5 766.8 514.7 775.3 517 783C519.3 790.7 521.7 798.8 524 806C526.3 813.2 528.7 819 531 826C533.3 833 535.7 841 538 848C540.3 855 542.7 861 545 868C547.3 875 549.5 882.2 552 890C554.5 897.8 557.3 907.5 560 915C562.7 922.5 565.3 930 568 935C570.7 940 573.7 943.8 576 945C578.3 946.2 580 945.3 582 942C584 938.7 586 931.2 588 925C590 918.8 592 911.7 594 905C596 898.3 598.2 890.8 600 885C601.8 879.2 603.1 873.5 605 870C606.9 866.5 609.3 864 611.5 864C613.7 864 615.9 866.5 618 870C620.1 873.5 622 881.7 624 885C626 888.3 627.7 890.8 630 890C632.3 889.2 635.2 886.7 638 880C640.8 873.3 644.2 863.2 646.7 849.7C649.2 836.2 651.5 811.9 653.3 799C655.1 786.1 655.9 781.4 657.7 772.6C659.6 763.8 661.5 749.1 664.4 746.2C667.3 743.3 672.7 752 675.3 755C677.9 758 678.1 760 680 764.2C681.9 768.4 684.6 776.4 686.5 780.4C688.4 784.4 688.9 785.4 691.3 788.4C693.7 791.4 697.5 798.4 701 798.1C704.5 797.8 708 789.5 712.3 786.8C716.6 784.1 723 782.3 726.8 782C730.6 781.7 731.4 781.7 734.9 785.2C738.4 788.7 743.8 795.5 747.8 803C751.8 810.5 756.1 821.5 759.1 830.4C762.1 839.3 763.7 848.8 765.6 856.3C767.5 863.8 768.2 867.8 770.4 875.6C772.5 883.4 774.7 894 778.5 903.1C782.3 912.2 789.4 925.4 793 930.5C796.6 935.6 797.7 933.9 800 934C802.3 934.1 805.2 932 807 931C808.8 930 810.3 928.5 811 928" fill="none" stroke="#006e00" stroke-width="3.6" stroke-linecap="round" stroke-linejoin="round" stroke-dasharray="8.4 16"/>
<path d="M131.4 1160C132.5 1158.7 135.6 1154.5 138 1152C140.4 1149.5 143.7 1147.8 146 1145C148.3 1142.2 149.8 1140.5 152 1135C154.2 1129.5 156.5 1119.4 159 1112C161.5 1104.6 164.5 1097 166.9 1090.6C169.3 1084.2 171.5 1079.3 173.3 1073.6C175.1 1067.9 176.2 1063.3 177.6 1056.6C179 1049.9 180.6 1041.3 181.8 1033.2C183 1025.1 183.9 1015.9 185 1007.7C186.1 999.6 187.2 993.4 188.2 984.3C189.2 975.2 189.7 967.5 190.9 953.1C192.1 938.7 194 916.4 195.3 898.1C196.6 879.8 197.7 859.6 198.6 843.1C199.5 826.6 200.1 811.1 200.8 799C201.5 786.9 201.4 777.7 202.6 770.4C203.8 763.1 206.3 760.6 208.1 755C209.9 749.4 211.8 741.6 213.6 737C215.4 732.4 217.5 727 219.1 727.5C220.7 728 221.7 735 223 740C224.3 745 225.2 748.5 226.9 757.2C228.7 765.9 231.5 780.3 233.5 792.4C235.5 804.5 237.2 827.7 239 829.9C240.8 832.1 242.7 816.7 244.5 805.7C246.3 794.7 248.2 770 250 763.8C251.8 757.5 253.5 769.7 255.5 768.2C257.5 766.7 259.9 762.7 262.1 755C264.3 747.3 266.9 728.6 268.7 722C270.5 715.4 271.3 711.7 273.1 715.4C274.9 719.1 277.9 731.9 279.7 744C281.5 756.1 282.6 773.3 284.1 788C285.6 802.7 287 818.1 288.5 832.1C290 846.1 291.1 861.4 292.9 871.7C294.7 882 296.9 888.2 299.5 893.7C302.1 899.2 305.7 905.1 308.3 904.7C310.9 904.3 312.3 898.1 314.9 891.5C317.5 884.9 320.8 873.5 323.7 865.1C326.6 856.7 329.9 847.9 332.5 840.9C335.1 833.9 337.3 832.1 339.1 823.3C340.9 814.5 342.4 797.5 343.5 788C344.6 778.5 344.6 772.2 345.7 766C346.8 759.8 347.9 751.7 350.1 750.6C352.3 749.5 356.1 759.8 359 759.4C361.9 759 364.8 753.2 367.7 748.4C370.6 743.6 372.8 735.6 376.5 730.8C380.2 726 385.7 722 389.7 719.8C393.7 717.6 397 718 400.7 717.6C404.4 717.2 408 718.3 411.7 717.6C415.4 716.9 419.4 713.1 422.8 713.2C426.2 713.3 428.8 715.9 432 718C435.2 720.1 438.2 723.2 442 726C445.8 728.8 451.3 732 455 735C458.7 738 461.2 741.2 464 744C466.8 746.8 469.1 749.1 472 752C474.9 754.9 478.6 759.3 481.6 761.6C484.6 763.9 487.4 764.5 490 766C492.6 767.5 494.7 769.1 497 770.4C499.3 771.7 501.7 771.6 504 774C506.3 776.4 508.7 780.7 511 785C513.3 789.3 515.7 794.5 518 800C520.3 805.5 522.7 812 525 818C527.3 824 529.7 829.8 532 836C534.3 842.2 536.7 848.5 539 855C541.3 861.5 543.7 867.5 546 875C548.3 882.5 550.7 891.7 553 900C555.3 908.3 557.7 917.5 560 925C562.3 932.5 564.5 938.8 567 945C569.5 951.2 572.7 958.2 575 962C577.3 965.8 579 966.5 581 968C583 969.5 585.5 973 587.3 970.8C589.1 968.6 590.4 961.8 592 955C593.6 948.2 595.2 937.3 597 930C598.8 922.7 600.9 917.1 602.7 911.3C604.5 905.5 606.2 900.1 608 895C609.8 889.9 612 879.7 613.7 880.5C615.4 881.3 616.5 891.9 618 900C619.5 908.1 620.6 922.6 622.5 928.9C624.4 935.2 626.5 940.6 629.1 937.7C631.7 934.8 635.2 920.9 637.9 911.3C640.5 901.7 642.6 890.2 645 880C647.4 869.8 649.7 860.3 652 850C654.3 839.7 656.7 828 659 818C661.3 808 663.3 798.8 666 790C668.7 781.2 672 772.7 675 765C678 757.3 681.1 747.9 684.1 744C687.1 740.1 690 742.3 692.9 741.6C695.8 740.9 699.1 739.6 701.8 739.6C704.5 739.6 706.5 740.2 709.1 741.6C711.7 743 714.4 744.1 717.1 748.1C719.8 752.1 722.5 759.1 725.2 765.8C727.9 772.5 730.6 780.3 733.3 788.4C736 796.5 739 805.1 741.4 814.3C743.8 823.4 745.6 835.2 747.8 843.3C749.9 851.4 751.9 858.1 754.3 862.7C756.7 867.3 759.7 868.1 762.4 870.8C765.1 873.5 767.2 876.8 770.4 878.9C773.6 881 777.9 884.2 781.7 883.7C785.5 883.2 789.8 876.4 793 875.6C796.2 874.8 798.4 876.2 801.1 878.9C803.8 881.6 807.9 889.6 809.2 891.8" fill="none" stroke="#ff00ff" stroke-width="4" stroke-linecap="round" stroke-linejoin="round" stroke-dasharray="2.4 8.5"/>
</g>
<clipPath id="cpd"><rect x="946.5" y="703" width="679.2" height="564.8"/></clipPath><g clip-path="url(#cpd)">
<path d="M946.4 1160.9C947.5 1157.7 950.3 1147.7 952.8 1141.7C955.3 1135.7 958.8 1129.3 961.3 1124.7C963.8 1120.1 965.8 1118.3 967.7 1114C969.7 1109.7 971.6 1103.7 973 1099.1C974.4 1094.5 974.8 1089.6 976.2 1086.4C977.6 1083.2 979.7 1080.7 981.5 1080C983.3 1079.3 985.2 1083.2 986.8 1082.1C988.4 1081 989.9 1078.2 991.1 1073.6C992.4 1069 993.2 1061.2 994.3 1054.5C995.3 1047.8 996.3 1041 997.4 1033.2C998.5 1025.4 999.6 1016.6 1000.6 1007.7C1001.6 998.8 1002.7 990.9 1003.4 980C1004.1 969.1 1004.1 955.8 1004.9 942.1C1005.7 928.5 1007.1 910.9 1008.2 898.1C1009.3 885.3 1010.4 875.4 1011.5 865.1C1012.6 854.8 1013.5 844.6 1014.8 836.5C1016.1 828.4 1017.4 822.6 1019.2 816.7C1021 810.8 1024 806.8 1025.8 801.3C1027.6 795.8 1028.7 789.5 1030.2 783.6C1031.7 777.7 1033.4 769.3 1034.7 766C1036 762.7 1036.7 761.2 1038 763.8C1039.3 766.4 1040.9 773.3 1042.4 781.4C1043.9 789.5 1045.2 809.4 1046.8 812.3C1048.4 815.2 1050.6 803.4 1052.3 799C1054 794.6 1055.2 786.9 1056.7 785.8C1058.2 784.7 1059.6 787.6 1061.1 792.4C1062.6 797.2 1063.7 809 1065.5 814.5C1067.3 820 1069.9 821.1 1072.1 825.5C1074.3 829.9 1076.5 835.8 1078.7 840.9C1080.9 846 1083.1 855.6 1085.3 856.3C1087.5 857 1089.7 849.7 1091.9 845.3C1094.1 840.9 1095.9 834.3 1098.5 829.9C1101.1 825.5 1105.1 824 1107.3 818.9C1109.5 813.8 1110.2 805.6 1111.7 799C1113.2 792.4 1114.6 783.2 1116.1 779.2C1117.6 775.2 1118.7 773 1120.5 774.8C1122.3 776.6 1125.1 785.8 1127.1 790.2C1129.1 794.6 1130.4 801.7 1132.6 801.3C1134.8 800.9 1138.3 789.1 1140.3 788C1142.3 786.9 1142.9 790.7 1144.7 794.7C1146.5 798.8 1149.3 808.3 1151.3 812.3C1153.3 816.3 1155 819.3 1156.8 818.9C1158.6 818.5 1159.9 812.9 1162.3 810C1164.7 807.1 1168.2 800.2 1171.1 801.3C1174 802.4 1177 814.9 1179.9 816.7C1182.8 818.5 1186.1 815.2 1188.7 812.3C1191.3 809.3 1193.5 805.6 1195.3 799C1197.1 792.4 1198.2 779.6 1199.7 772.6C1201.2 765.6 1202.6 759.8 1204.1 757.2C1205.6 754.6 1206.7 755.7 1208.5 757.2C1210.3 758.7 1213 764.9 1215.2 766C1217.4 767.1 1219.6 762.7 1221.8 763.8C1224 764.9 1226.5 772.1 1228.4 772.6C1230.3 773.1 1231.3 769.2 1233 767C1234.7 764.8 1236 761 1238.8 759.4C1241.6 757.8 1246.9 759.4 1249.8 757.2C1252.7 755 1254.2 751.3 1256.4 746.2C1258.6 741.1 1260.4 730.8 1263 726.4C1265.6 722 1268.5 720.5 1271.8 719.8C1275.1 719.1 1279.5 720.2 1282.8 722C1286.1 723.8 1289 727.1 1291.6 730.8C1294.2 734.5 1295.6 740.3 1298.2 744C1300.8 747.7 1303.7 750.2 1307 752.8C1310.3 755.4 1314.7 756.8 1318 759.4C1321.3 762 1324.3 764.9 1326.9 768.2C1329.5 771.5 1330.9 777.4 1333.5 779.2C1336.1 781 1339.7 778.5 1342.3 779.2C1344.9 779.9 1346.7 780.3 1348.9 783.6C1351.1 786.9 1353.3 793.9 1355.5 799C1357.7 804.1 1359.5 809 1362.1 814.5C1364.7 820 1368 826.2 1370.9 832.1C1373.8 838 1377.1 844.2 1379.7 849.7C1382.3 855.2 1384.1 860.3 1386.3 865.1C1388.5 869.9 1390.7 875.7 1392.9 878.3C1395.1 880.9 1397.3 879.6 1399.5 880.5C1401.7 881.4 1403.5 884.5 1406.1 883.8C1408.7 883.1 1412.3 880.3 1414.9 876.1C1417.5 871.9 1419.3 865.1 1421.5 858.5C1423.7 851.9 1425.9 843.1 1428.1 836.5C1430.3 829.9 1432.5 824 1434.7 818.9C1436.9 813.8 1439.1 808.6 1441.3 805.7C1443.5 802.8 1445.7 800.2 1447.9 801.3C1450.1 802.4 1451.9 808.3 1454.5 812.3C1457.1 816.3 1460.7 824.8 1463.3 825.5C1465.9 826.2 1467.3 820.4 1469.9 816.7C1472.5 813 1475.4 806.5 1478.7 803.5C1482 800.5 1486.4 801.6 1489.7 799C1493 796.4 1495.8 793.6 1498.5 788C1501.2 782.4 1503.5 770.7 1506.2 765.2C1508.9 759.7 1512 755.6 1514.4 754.9C1516.8 754.2 1518.5 756.6 1520.5 761.1C1522.5 765.6 1525 774.1 1526.7 781.6C1528.4 789.1 1529.4 798.4 1530.8 806.3C1532.2 814.2 1533.5 822.1 1534.9 828.9C1536.3 835.7 1537.6 841.5 1539 847.3C1540.4 853.1 1541.4 859 1543.1 863.8C1544.8 868.6 1547.2 874.4 1549.3 876.1C1551.4 877.8 1553.5 875 1555.5 874C1557.5 873 1559.5 870.9 1561.6 869.9C1563.6 868.9 1565.8 866.9 1567.8 867.9C1569.8 868.9 1571.9 872.3 1573.9 876.1C1576 879.9 1578 885 1580.1 890.5C1582.2 896 1584.2 902.9 1586.3 909C1588.3 915.1 1590.4 922.6 1592.4 927.4C1594.5 932.2 1596.2 935 1598.6 937.7C1601 940.5 1604.1 943.5 1606.8 943.9C1609.5 944.2 1612.3 941.5 1615 939.8C1617.7 938.1 1621.5 935 1623.2 933.6C1625 932.2 1625.1 931.9 1625.5 931.5" fill="none" stroke="#ff0000" stroke-width="6.6" stroke-linecap="round" stroke-linejoin="round"/>
<path d="M946.4 1146C947.5 1144.6 950.3 1140.2 952.8 1137.4C955.3 1134.6 958.4 1133.1 961.3 1128.9C964.2 1124.7 967.5 1117.7 970 1112C972.5 1106.3 973.7 1099.7 976 1095C978.3 1090.3 981.5 1087.5 984 1084C986.5 1080.5 989 1078.9 991 1074C993 1069.1 994.5 1061.3 995.8 1054.5C997.1 1047.7 997.8 1041 998.9 1033.2C1000 1025.4 1001.1 1016.6 1002.1 1007.7C1003.1 998.8 1004.2 990.9 1004.9 980C1005.6 969.1 1005.6 955.8 1006.4 942.1C1007.2 928.5 1008.6 910.9 1009.7 898.1C1010.8 885.3 1012 882.3 1013 865.1C1014 847.9 1014.9 805.3 1015.9 794.7C1016.9 784.1 1017.9 795.1 1019.2 801.3C1020.5 807.5 1022.1 822.2 1023.6 832.1C1025.1 842 1026.5 854.5 1028 860.7C1029.5 866.9 1030.6 867.7 1032.4 869.5C1034.2 871.3 1037.2 875.7 1039 871.7C1040.8 867.7 1042 857.4 1043.5 845.3C1045 833.2 1046.4 814 1047.9 799C1049.4 784 1050.5 766 1052.3 755C1054.1 744 1056.7 733 1058.9 733C1061.1 733 1063.7 747.7 1065.5 755C1067.3 762.3 1068.1 770 1069.9 777C1071.7 784 1073.9 795.1 1076.5 796.9C1079.1 798.7 1082.4 791.3 1085.3 788C1088.2 784.7 1091.1 781.4 1094 777C1096.9 772.6 1099.6 766 1102.9 761.6C1106.2 757.2 1110.6 750.6 1113.9 750.6C1117.2 750.6 1119.8 757.9 1122.7 761.6C1125.6 765.3 1128.6 770 1131.5 772.6C1134.4 775.2 1137.4 776.1 1140.3 777C1143.2 777.9 1146.5 777 1149.1 778.1C1151.7 779.2 1153.5 779.4 1155.7 783.6C1157.9 787.8 1160.1 803.5 1162.3 803.5C1164.5 803.5 1166.7 790.2 1168.9 783.6C1171.1 777 1173.3 770.4 1175.5 763.8C1177.7 757.2 1179.5 750.6 1182.1 744C1184.7 737.4 1187.7 728.2 1191 724.2C1194.3 720.2 1198.6 718 1201.9 719.8C1205.2 721.6 1208.1 729.3 1210.7 735.2C1213.3 741.1 1215.2 750.2 1217.4 755C1219.6 759.8 1221.8 763.8 1223.9 763.8C1226 763.8 1227.5 759.8 1230 755C1232.5 750.2 1235.9 740 1238.8 735.2C1241.7 730.4 1244.3 728.6 1247.6 726.4C1250.9 724.2 1254.2 722 1258.6 722C1263 722 1269.6 726.4 1274 726.4C1278.4 726.4 1281.3 723.5 1285 722C1288.7 720.5 1292 718.1 1296 717.6C1300 717.1 1305.5 716.1 1309.2 718.7C1312.9 721.3 1315.4 728 1318 733C1320.6 738 1322.1 744 1324.7 748.4C1327.3 752.8 1330.6 755.4 1333.5 759.4C1336.4 763.4 1339.7 766 1342.3 772.6C1344.9 779.2 1346.7 790.2 1348.9 799C1351.1 807.8 1353.3 816.3 1355.5 825.5C1357.7 834.7 1360.3 844.9 1362.1 854.1C1363.9 863.3 1365 871.3 1366.5 880.5C1368 889.7 1369.1 899.6 1370.9 909.1C1372.7 918.6 1374.9 929.3 1377.5 937.7C1380.1 946.1 1383.4 953.8 1386.3 959.7C1389.2 965.6 1392.2 972.5 1395.1 972.9C1398 973.3 1401.3 967.8 1403.9 961.9C1406.5 956 1408.3 945.4 1410.5 937.7C1412.7 930 1414.9 922.3 1417.1 915.7C1419.3 909.1 1421.5 905.4 1423.7 898.1C1425.9 890.8 1428.5 881.2 1430.3 871.7C1432.1 862.2 1432.9 849.7 1434.7 840.9C1436.5 832.1 1439.1 825.5 1441.3 818.9C1443.5 812.3 1445.7 805.7 1447.9 801.3C1450.1 796.9 1451.9 795.3 1454.5 792.4C1457.1 789.5 1460.4 786.5 1463.3 783.6C1466.2 780.7 1469.2 778.1 1472.1 774.8C1475 771.5 1478.3 767.8 1480.9 763.8C1483.5 759.8 1484.9 755.7 1487.5 750.6C1490.1 745.5 1493.7 737.8 1496.3 733C1498.9 728.2 1500.6 722.1 1502.9 722C1505.2 721.9 1508 728.2 1510.3 732.3C1512.5 736.4 1514.4 741.9 1516.4 746.7C1518.5 751.5 1520.5 753.6 1522.6 761.1C1524.7 768.6 1526.8 781.6 1528.8 791.9C1530.8 802.2 1532.9 812.8 1534.9 822.7C1537 832.6 1538.7 844.9 1541.1 851.4C1543.5 857.9 1546.2 861 1549.3 861.7C1552.4 862.4 1556.5 855.5 1559.6 855.5C1562.7 855.5 1565.1 858.3 1567.8 861.7C1570.5 865.1 1573.3 869.9 1576 876.1C1578.7 882.3 1581.5 890.5 1584.2 898.7C1586.9 906.9 1590 917.5 1592.4 925.4C1594.8 933.3 1596.5 938.7 1598.6 945.9C1600.6 953.1 1602.3 962.7 1604.7 968.5C1607.1 974.3 1609.9 977.7 1613 980.8C1616.1 983.9 1621.1 985.8 1623.2 987C1625.3 988.2 1625.1 987.8 1625.5 988" fill="none" stroke="#000000" stroke-width="3.6" stroke-linecap="round" stroke-linejoin="round" stroke-dasharray="11.4 8.6 1 9.3"/>
<path d="M946.4 1171.5C948.2 1170.1 953.5 1167.2 957 1163C960.5 1158.8 964.2 1151.7 967.7 1146C971.2 1140.3 974.8 1135.3 978.3 1128.9C981.8 1122.5 986.1 1116.6 988.9 1107.7C991.7 1098.8 993.5 1086.4 995.3 1075.7C997.1 1065 998.2 1056.2 999.6 1043.8C1001 1031.4 1002.7 1012.8 1003.8 1001.3C1004.9 989.8 1004.9 986.7 1006 975C1007.1 963.3 1008.9 951.2 1010.4 931.1C1011.9 911 1013.3 877.2 1014.8 854.1C1016.3 831 1017.7 810.8 1019.2 792.4C1020.7 774 1022 756.1 1023.6 744C1025.2 731.9 1027.2 721.3 1029.1 719.8C1030.9 718.3 1033 727.5 1034.7 735.2C1036.4 742.9 1037.5 755.4 1039 766C1040.5 776.6 1042 788 1043.5 799C1045 810 1046.1 828.1 1047.9 832.1C1049.7 836.1 1052.3 829.9 1054.5 823.3C1056.7 816.7 1059.1 799 1061.1 792.4C1063.1 785.8 1064.8 778.8 1066.6 783.6C1068.4 788.4 1070.4 805.7 1072.1 821.1C1073.8 836.5 1074.3 862.5 1076.5 876.1C1078.7 889.7 1082.7 903.6 1085.3 902.5C1087.9 901.4 1090.1 874.3 1091.9 869.5C1093.7 864.7 1094.5 869.9 1096.3 873.9C1098.1 877.9 1100.7 897 1102.9 893.7C1105.1 890.4 1107.3 870.2 1109.5 854.1C1111.7 838 1114.3 813.4 1116.1 796.9C1117.9 780.4 1118.7 767.5 1120.5 755C1122.3 742.5 1124.9 728.6 1127.1 722C1129.3 715.4 1131.5 713.6 1133.7 715.4C1135.9 717.2 1138.1 722.7 1140.3 733C1142.5 743.3 1145.1 764.2 1146.9 777C1148.7 789.8 1149.8 799 1151.3 810C1152.8 821 1154.2 834.3 1155.7 843.1C1157.2 851.9 1158.3 863.3 1160.1 862.9C1161.9 862.5 1164.5 849.7 1166.7 840.9C1168.9 832.1 1171.1 822.5 1173.3 810C1175.5 797.5 1177.7 779.9 1179.9 766C1182.1 752.1 1184.3 735.2 1186.5 726.4C1188.7 717.6 1190.9 713.9 1193.1 713.2C1195.3 712.5 1197.1 716.9 1199.7 722C1202.3 727.1 1205.9 734.8 1208.5 744C1211.1 753.2 1213 766.4 1215.2 777C1217.4 787.6 1219.2 801.3 1221.8 807.9C1224.4 814.5 1227.4 813.4 1230.6 816.7C1233.8 820 1238.2 828.1 1241 827.7C1243.8 827.3 1245.4 821.1 1247.6 814.5C1249.8 807.9 1251.6 795.7 1254.2 788C1256.8 780.3 1259.7 770.4 1263 768.2C1266.3 766 1270.7 772.6 1274 774.8C1277.3 777 1279.9 780.3 1282.8 781.4C1285.7 782.5 1288.7 780.1 1291.6 781.4C1294.5 782.7 1297.1 788.7 1300.4 789.1C1303.7 789.5 1308.1 783.1 1311.4 783.6C1314.7 784.1 1317.6 788 1320.2 792.4C1322.8 796.8 1324.7 801.9 1326.9 810C1329.1 818.1 1331.3 830.6 1333.5 840.9C1335.7 851.2 1337.5 864 1340.1 871.7C1342.7 879.4 1346 883.4 1348.9 887.1C1351.8 890.8 1355.5 890 1357.7 893.7C1359.9 897.4 1360.3 902.9 1362.1 909.1C1363.9 915.3 1366.5 923 1368.7 931.1C1370.9 939.2 1372.7 948.7 1375.3 957.5C1377.9 966.3 1381.2 980 1384.1 984C1387 988 1390.3 985.1 1392.9 981.8C1395.5 978.5 1397.3 971.5 1399.5 964.1C1401.7 956.8 1404.3 946.9 1406.1 937.7C1407.9 928.5 1409 921.2 1410.5 909.1C1412 897 1413.4 876.1 1414.9 865.1C1416.4 854.1 1417.5 848.6 1419.3 843.1C1421.1 837.6 1423.7 831 1425.9 832.1C1428.1 833.2 1429.9 843.1 1432.5 849.7C1435.1 856.3 1438.4 865.5 1441.3 871.7C1444.2 877.9 1447.5 887.1 1450.1 887.1C1452.7 887.1 1454.5 879 1456.7 871.7C1458.9 864.4 1461.1 851.5 1463.3 843.1C1465.5 834.7 1467.7 828.8 1469.9 821.1C1472.1 813.4 1474.3 804.2 1476.5 796.9C1478.7 789.5 1480.9 784 1483.1 777C1485.3 770 1487.9 762.3 1489.7 755C1491.5 747.7 1492.3 739 1494.1 733C1495.9 727 1497.7 717.5 1500.7 718.7C1503.7 720 1509.3 734.1 1512.3 740.5C1515.3 746.9 1516.8 750.1 1518.5 757C1520.2 763.9 1521.2 772.4 1522.6 781.6C1524 790.8 1525.3 802.1 1526.7 812.4C1528.1 822.7 1529.4 832.9 1530.8 843.2C1532.2 853.5 1533.2 864.4 1534.9 874C1536.6 883.6 1538.4 893.2 1541.1 900.7C1543.8 908.2 1548.2 919.2 1551.3 919.2C1554.4 919.2 1557.2 907.9 1559.6 900.7C1562 893.5 1563.7 882.6 1565.7 876.1C1567.8 869.6 1569.9 864.8 1571.9 861.7C1574 858.6 1576 856.6 1578 857.6C1580 858.6 1582.1 861.7 1584.2 867.9C1586.3 874.1 1588.4 886.4 1590.4 894.6C1592.5 902.8 1594.5 910.7 1596.5 917.2C1598.5 923.7 1600.3 929.8 1602.7 933.6C1605.1 937.4 1608.2 938.1 1610.9 939.8C1613.6 941.5 1616.7 942.5 1619.1 943.9C1621.5 945.3 1624.3 947.3 1625.3 948" fill="none" stroke="#0000ff" stroke-width="2.7" stroke-linecap="butt" stroke-linejoin="round" stroke-dasharray="2.6 2.7"/>
<path d="M946.4 1158C947.5 1155 950.6 1145.3 953 1140C955.4 1134.7 958.5 1130.3 961 1126C963.5 1121.7 965.8 1118.3 968 1114C970.2 1109.7 972 1104 974 1100C976 1096 977.8 1093 980 1090C982.2 1087 985.2 1084.7 987 1082C988.8 1079.3 989.5 1078.6 991 1074C992.5 1069.4 994.5 1061.3 995.8 1054.5C997.1 1047.7 997.8 1041 998.9 1033.2C1000 1025.4 1001.1 1016.6 1002.1 1007.7C1003.1 998.8 1004.2 990.9 1004.9 980C1005.6 969.1 1005.6 955.8 1006.4 942.1C1007.2 928.5 1008.6 910.9 1009.7 898.1C1010.8 885.3 1012.1 874.3 1013 865.1C1013.9 855.9 1013 849.7 1014.8 843.1C1016.6 836.5 1020.7 829.9 1023.6 825.5C1026.5 821.1 1029.8 819.3 1032.4 816.7C1035 814.1 1037.2 806 1039 810C1040.8 814 1042 838.3 1043.5 840.9C1045 843.5 1046.4 832.5 1047.9 825.5C1049.4 818.5 1050.5 807.8 1052.3 799C1054.1 790.2 1056.7 774.4 1058.9 772.6C1061.1 770.8 1063.7 778.1 1065.5 788C1067.3 797.9 1068.1 819.6 1069.9 832.1C1071.7 844.6 1073.9 862.2 1076.5 862.9C1079.1 863.6 1082.7 844.6 1085.3 836.5C1087.9 828.4 1090.1 821.5 1091.9 814.5C1093.7 807.5 1094.8 805.7 1096.3 794.7C1097.8 783.7 1098.9 755.4 1100.7 748.4C1102.5 741.4 1105.1 749.9 1107.3 752.8C1109.5 755.7 1111.7 762.1 1113.9 766C1116.1 769.9 1117.9 775.2 1120.5 775.9C1123.1 776.6 1126.4 772.4 1129.3 770.4C1132.2 768.4 1135.2 762 1138.1 763.8C1141 765.6 1144.3 774 1146.9 781.4C1149.5 788.8 1150.9 803.8 1153.5 807.9C1156.1 812 1159.4 805 1162.3 805.7C1165.2 806.4 1168.5 812.3 1171.1 812.3C1173.7 812.3 1175.5 809.8 1177.7 805.7C1179.9 801.7 1182.1 794.6 1184.3 788C1186.5 781.4 1187.6 771.5 1190.9 766C1194.2 760.5 1200.4 759 1204.1 755C1207.8 751 1210 743.3 1212.9 741.8C1215.9 740.3 1218.5 744.7 1221.8 746.2C1225.1 747.7 1229.6 751 1232.8 750.6C1236 750.2 1237.8 745.8 1241 744C1244.2 742.2 1248.3 742.5 1252 739.6C1255.7 736.7 1259.3 729 1263 726.4C1266.7 723.8 1270 724.2 1274 724.2C1278 724.2 1282.8 725.5 1287.2 726.4C1291.6 727.3 1296 727.9 1300.4 729.7C1304.8 731.5 1309.9 733.9 1313.6 737.4C1317.3 740.9 1319.1 746.2 1322.4 750.6C1325.7 755 1330.2 759.4 1333.5 763.8C1336.8 768.2 1339.7 771.9 1342.3 777C1344.9 782.1 1346.7 789.2 1348.9 794.7C1351.1 800.2 1352.9 804.5 1355.5 810C1358.1 815.5 1361.4 821.8 1364.3 827.7C1367.2 833.6 1370.5 839.4 1373.1 845.3C1375.7 851.2 1377.5 856.3 1379.7 862.9C1381.9 869.5 1384.1 879 1386.3 884.9C1388.5 890.8 1390.3 895.9 1392.9 898.1C1395.5 900.3 1398.8 899.6 1401.7 898.1C1404.6 896.6 1407.6 894.4 1410.5 889.3C1413.4 884.2 1416.4 876.1 1419.3 867.3C1422.2 858.5 1425.5 846 1428.1 836.5C1430.7 827 1432.5 818.1 1434.7 810C1436.9 801.9 1439.1 791.3 1441.3 788C1443.5 784.7 1445.7 789.1 1447.9 790.2C1450.1 791.3 1452.3 791.8 1454.5 794.7C1456.7 797.7 1458.5 807.2 1461.1 807.9C1463.7 808.6 1467 803 1469.9 799C1472.8 795 1475.4 787.6 1478.7 783.6C1482 779.6 1486 778.8 1489.7 774.8C1493.4 770.8 1497.6 763 1500.7 759.4C1503.8 755.8 1505.6 753.6 1508.2 752.9C1510.8 752.1 1514 749.1 1516.4 754.9C1518.8 760.7 1520.5 776.5 1522.6 787.8C1524.7 799.1 1527.1 811.8 1528.8 822.7C1530.5 833.7 1530.9 845.6 1532.9 853.5C1535 861.4 1537.7 867.2 1541.1 869.9C1544.5 872.6 1549.6 870.9 1553.4 869.9C1557.2 868.9 1560.3 863.1 1563.7 863.8C1567.1 864.5 1570.5 867.9 1573.9 874C1577.3 880.1 1581.1 892.1 1584.2 900.7C1587.3 909.3 1589.7 918.5 1592.4 925.4C1595.1 932.2 1598.2 937.7 1600.6 941.8C1603 945.9 1605.8 948.6 1606.8 950" fill="none" stroke="#006e00" stroke-width="3.6" stroke-linecap="round" stroke-linejoin="round" stroke-dasharray="8.4 16"/>
<path d="M946.4 1167.2C948.5 1161.5 955.2 1141.4 959.1 1133.2C963 1125 965.9 1123.6 969.8 1118.3C973.7 1113 979 1104.5 982.6 1101.3C986.2 1098.1 989 1103.7 991.1 1099.1C993.2 1094.5 994 1083.4 995.3 1073.6C996.6 1063.8 997.9 1051.4 999 1040C1000.1 1028.6 1001 1018.3 1002 1005C1003 991.7 1003.9 977.5 1005 960C1006.1 942.5 1007.4 915.8 1008.5 900C1009.6 884.2 1010.5 876.3 1011.5 865C1012.5 853.7 1012.8 836.9 1014.8 832.1C1016.8 827.4 1021 834.3 1023.6 836.5C1026.2 838.7 1027.6 845.3 1030.2 845.3C1032.8 845.3 1036.4 844.2 1039 836.5C1041.6 828.8 1043.9 810.8 1045.7 799C1047.5 787.2 1048.5 774.1 1050 766C1051.5 757.9 1052.8 754.6 1054.5 750.6C1056.2 746.6 1058.2 739.2 1060 741.8C1061.8 744.4 1063.5 755.7 1065.5 766C1067.5 776.3 1069.5 798.4 1072.1 803.5C1074.7 808.6 1078 797.3 1080.9 796.9C1083.8 796.5 1086.8 799.5 1089.7 801.3C1092.6 803.1 1095.6 810.8 1098.5 807.9C1101.4 805 1104.4 791.7 1107.3 783.6C1110.2 775.5 1113.2 763.8 1116.1 759.4C1119 755 1122 756.1 1124.9 757.2C1127.8 758.3 1131.1 762 1133.7 766C1136.3 770 1138.1 775.1 1140.3 781.4C1142.5 787.6 1144.3 796.5 1146.9 803.5C1149.5 810.5 1152.8 818.5 1155.7 823.3C1158.6 828.1 1161.9 834.3 1164.5 832.1C1167.1 829.9 1168.9 819.2 1171.1 810C1173.3 800.8 1175.5 786.2 1177.7 777C1179.9 767.8 1181.7 761.6 1184.3 755C1186.9 748.4 1190.2 742.2 1193.1 737.4C1196 732.6 1199.3 729.3 1201.9 726.4C1204.5 723.5 1205.9 719.4 1208.5 719.8C1211.1 720.2 1214.5 726.4 1217.4 728.6C1220.4 730.8 1223.3 731.9 1226.2 733C1229.1 734.1 1232.2 735.9 1235 735.2C1237.8 734.5 1239.6 730.4 1243.2 728.6C1246.8 726.8 1251.3 725.7 1256.4 724.2C1261.5 722.7 1268.5 720.5 1274 719.8C1279.5 719.1 1284.6 719.6 1289.4 719.8C1294.2 720 1298.6 719.4 1302.6 720.9C1306.6 722.4 1310.3 724 1313.6 728.6C1316.9 733.2 1319.1 742.9 1322.4 748.4C1325.7 753.9 1330.2 757.6 1333.5 761.6C1336.8 765.6 1339.7 768.2 1342.3 772.6C1344.9 777 1346.7 781.8 1348.9 788C1351.1 794.2 1353.3 801.9 1355.5 810C1357.7 818.1 1359.9 827.7 1362.1 836.5C1364.3 845.3 1366.5 853.4 1368.7 862.9C1370.9 872.4 1373.1 884.9 1375.3 893.7C1377.5 902.5 1379.3 910.2 1381.9 915.7C1384.5 921.2 1387.4 923.8 1390.7 926.7C1394 929.6 1398.4 934.8 1401.7 933.3C1405 931.8 1407.9 926.7 1410.5 917.9C1413.1 909.1 1414.9 890.4 1417.1 880.5C1419.3 870.6 1421.5 865.5 1423.7 858.5C1425.9 851.5 1428.1 845.7 1430.3 838.7C1432.5 831.7 1434.3 824.4 1436.9 816.7C1439.5 809 1442.4 796.8 1445.7 792.4C1449 788 1453 791.7 1456.7 790.2C1460.4 788.7 1464 786.2 1467.7 783.6C1471.4 781 1475 777.7 1478.7 774.8C1482.4 771.9 1486.4 769.3 1489.7 766C1493 762.7 1495.8 757.9 1498.5 755C1501.2 752.1 1503.5 750.2 1506.2 748.8C1508.9 747.4 1511.7 745 1514.4 746.7C1517.1 748.4 1520.2 753.2 1522.6 759C1525 764.8 1526.8 772.7 1528.8 781.6C1530.8 790.5 1532.9 801.5 1534.9 812.4C1537 823.3 1539 837.4 1541.1 847.3C1543.1 857.2 1544.8 867.9 1547.2 872C1549.6 876.1 1552.4 873.4 1555.5 872C1558.6 870.6 1562.3 865.2 1565.7 863.8C1569.1 862.4 1572.9 861.1 1576 863.8C1579.1 866.5 1581.5 873.4 1584.2 880.2C1586.9 887.1 1589.7 896.4 1592.4 904.9C1595.1 913.4 1597.8 925.4 1600.6 931.5C1603.3 937.6 1605.8 939 1608.9 941.8C1612 944.5 1616.4 946.6 1619.1 948C1621.8 949.4 1624 949.7 1625 950" fill="none" stroke="#ff00ff" stroke-width="4" stroke-linecap="round" stroke-linejoin="round" stroke-dasharray="2.4 8.5"/>
</g>
<rect x="131.2" y="4.5" width="680.6" height="566.1" fill="none" stroke="#000" stroke-width="3.6"/>
<path d="M131.2 570.6H119.7M131.2 515.1H124.7M131.2 459.7H119.7M131.2 404.2H124.7M131.2 348.8H119.7M131.2 293.3H124.7M131.2 237.8H119.7M131.2 182.4H124.7M131.2 126.9H119.7M131.2 71.5H124.7M131.2 16H119.7M131.2 570.6V582.1M216.3 570.6V577.1M301.3 570.6V582.1M386.4 570.6V577.1M471.5 570.6V582.1M556.6 570.6V577.1M641.6 570.6V582.1M726.7 570.6V577.1M811.8 570.6V582.1" stroke="#000" stroke-width="3.4" fill="none"/>
<g font-size="31" fill="#000"><text x="111.7" y="578.8" text-anchor="end">0.0</text><text x="111.7" y="467.9" text-anchor="end">0.2</text><text x="111.7" y="357" text-anchor="end">0.4</text><text x="111.7" y="246" text-anchor="end">0.6</text><text x="111.7" y="135.1" text-anchor="end">0.8</text><text x="111.7" y="24.2" text-anchor="end">1.0</text><text x="131.5" y="613.6" text-anchor="middle">15</text><text x="301.6" y="613.6" text-anchor="middle">20</text><text x="471.8" y="613.6" text-anchor="middle">25</text><text x="641.9" y="613.6" text-anchor="middle">30</text><text x="812.1" y="613.6" text-anchor="middle">35</text></g>
<text x="341.4" y="660.2" font-size="33.3" textLength="259.8" lengthAdjust="spacingAndGlyphs">Frequency (GHz)</text>
<text transform="translate(52.4 359.8) rotate(-90)" font-size="35" textLength="165.8" lengthAdjust="spacingAndGlyphs">Absorption</text>
<path d="M584.4 389.2H649" fill="none" stroke="#ff0000" stroke-width="6.6" stroke-linecap="round" stroke-linejoin="round"/>
<text x="655.5" y="399.5" font-size="28.4" textLength="140" lengthAdjust="spacingAndGlyphs">CFM 2x2-1</text>
<path d="M584.4 425.5H636.5" fill="none" stroke="#000000" stroke-width="3.6" stroke-linecap="round" stroke-linejoin="round" stroke-dasharray="11.4 8.6 1 9.3"/>
<text x="655.5" y="435.8" font-size="28.4" textLength="140" lengthAdjust="spacingAndGlyphs">CFM 2x2-2</text>
<path d="M584.4 462.2H649" fill="none" stroke="#0000ff" stroke-width="2.7" stroke-linecap="butt" stroke-linejoin="round" stroke-dasharray="2.6 2.7"/>
<text x="655.5" y="472.5" font-size="28.4" textLength="140" lengthAdjust="spacingAndGlyphs">CFM 2x2-3</text>
<path d="M584.4 498.2H649" fill="none" stroke="#006e00" stroke-width="3.6" stroke-linecap="round" stroke-linejoin="round" stroke-dasharray="8.4 16"/>
<text x="655.5" y="508.5" font-size="28.4" textLength="140" lengthAdjust="spacingAndGlyphs">CFM 2x2-4</text>
<path d="M584.4 534.5H649" fill="none" stroke="#ff00ff" stroke-width="4" stroke-linecap="round" stroke-linejoin="round" stroke-dasharray="2.4 8.5"/>
<text x="655.5" y="544.8" font-size="28.4" textLength="140" lengthAdjust="spacingAndGlyphs">CFM 2x2-5</text>
<text x="150.2" y="540.4" font-family="'Liberation Serif', 'Times New Roman', serif" font-weight="bold" font-size="77.4">(a)</text>
<rect x="946.5" y="5.9" width="680.4" height="566" fill="none" stroke="#000" stroke-width="3.6"/>
<path d="M946.5 571.9H935M946.5 516.4H940M946.5 461H935M946.5 405.5H940M946.5 350H935M946.5 294.6H940M946.5 239.1H935M946.5 183.6H940M946.5 128.1H935M946.5 72.7H940M946.5 17.2H935M946.5 571.9V583.4M1031.5 571.9V578.4M1116.6 571.9V583.4M1201.7 571.9V578.4M1286.7 571.9V583.4M1371.8 571.9V578.4M1456.8 571.9V583.4M1541.8 571.9V578.4M1626.9 571.9V583.4" stroke="#000" stroke-width="3.4" fill="none"/>
<g font-size="31" fill="#000"><text x="927" y="580.1" text-anchor="end">0.0</text><text x="927" y="469.2" text-anchor="end">0.2</text><text x="927" y="358.2" text-anchor="end">0.4</text><text x="927" y="247.3" text-anchor="end">0.6</text><text x="927" y="136.3" text-anchor="end">0.8</text><text x="927" y="25.4" text-anchor="end">1.0</text><text x="946.8" y="614.9" text-anchor="middle">15</text><text x="1116.9" y="614.9" text-anchor="middle">20</text><text x="1287" y="614.9" text-anchor="middle">25</text><text x="1457.1" y="614.9" text-anchor="middle">30</text><text x="1627.2" y="614.9" text-anchor="middle">35</text></g>
<text x="1156.7" y="670.3" font-size="33.3" textLength="259.8" lengthAdjust="spacingAndGlyphs">Frequency (GHz)</text>
<text transform="translate(865.2 376.6) rotate(-90)" font-size="35" textLength="164.2" lengthAdjust="spacingAndGlyphs">Absorption</text>
<path d="M1398.7 367.6H1462.3" fill="none" stroke="#ff0000" stroke-width="6.8" stroke-linecap="round" stroke-linejoin="round"/>
<text x="1469.8" y="377.9" font-size="28.3" textLength="139.3" lengthAdjust="spacingAndGlyphs">CFM 3x3-1</text>
<path d="M1398.7 404.1H1462.3" fill="none" stroke="#000000" stroke-width="5" stroke-linecap="round" stroke-linejoin="round" stroke-dasharray="17 12.4 1.7 12.4"/>
<text x="1469.8" y="414.4" font-size="28.3" textLength="139.3" lengthAdjust="spacingAndGlyphs">CFM 3x3-2</text>
<path d="M1398.7 440.5H1462.3" fill="none" stroke="#0000ff" stroke-width="3.5" stroke-linecap="butt" stroke-linejoin="round" stroke-dasharray="3.6 4"/>
<text x="1469.8" y="450.8" font-size="28.3" textLength="139.3" lengthAdjust="spacingAndGlyphs">CFM 3x3-3</text>
<path d="M1398.7 476.7H1462.3" fill="none" stroke="#006e00" stroke-width="4.5" stroke-linecap="round" stroke-linejoin="round" stroke-dasharray="14.6 20.3"/>
<text x="1469.8" y="487" font-size="28.3" textLength="139.3" lengthAdjust="spacingAndGlyphs">CFM 3x3-4</text>
<path d="M1398.7 513.5H1462.3" fill="none" stroke="#ff00ff" stroke-width="4.6" stroke-linecap="round" stroke-linejoin="round" stroke-dasharray="5.2 10.5"/>
<text x="1469.8" y="523.8" font-size="28.3" textLength="139.3" lengthAdjust="spacingAndGlyphs">CFM 3x3-5</text>
<text x="966.5" y="540.4" font-family="'Liberation Serif', 'Times New Roman', serif" font-weight="bold" font-size="77.4">(b)</text>
<rect x="131.2" y="702" width="680.8" height="565.9" fill="none" stroke="#000" stroke-width="3.6"/>
<path d="M131.2 1267.9H119.7M131.2 1212.4H124.7M131.2 1157H119.7M131.2 1101.5H124.7M131.2 1046H119.7M131.2 990.6H124.7M131.2 935.1H119.7M131.2 879.6H124.7M131.2 824.1H119.7M131.2 768.7H124.7M131.2 713.2H119.7M131.2 1267.9V1279.4M216.3 1267.9V1274.4M301.4 1267.9V1279.4M386.5 1267.9V1274.4M471.6 1267.9V1279.4M556.7 1267.9V1274.4M641.8 1267.9V1279.4M726.9 1267.9V1274.4M812 1267.9V1279.4" stroke="#000" stroke-width="3.4" fill="none"/>
<g font-size="31" fill="#000"><text x="111.7" y="1276.1" text-anchor="end">0.0</text><text x="111.7" y="1165.2" text-anchor="end">0.2</text><text x="111.7" y="1054.2" text-anchor="end">0.4</text><text x="111.7" y="943.3" text-anchor="end">0.6</text><text x="111.7" y="832.3" text-anchor="end">0.8</text><text x="111.7" y="721.4" text-anchor="end">1.0</text><text x="131.5" y="1310.9" text-anchor="middle">15</text><text x="301.7" y="1310.9" text-anchor="middle">20</text><text x="471.9" y="1310.9" text-anchor="middle">25</text><text x="642.1" y="1310.9" text-anchor="middle">30</text><text x="812.3" y="1310.9" text-anchor="middle">35</text></g>
<text x="354.7" y="1354.3" font-size="33.3" textLength="260.3" lengthAdjust="spacingAndGlyphs">Frequency (GHz)</text>
<text transform="translate(28.2 1073.7) rotate(-90)" font-size="35" textLength="165.7" lengthAdjust="spacingAndGlyphs">Absorption</text>
<path d="M584.7 1017.5H647.7" fill="none" stroke="#ff0000" stroke-width="6.6" stroke-linecap="round" stroke-linejoin="round"/>
<text x="655.5" y="1027.8" font-size="28.4" textLength="140.4" lengthAdjust="spacingAndGlyphs">CFM 4x4-1</text>
<path d="M584.7 1053.7H636.8" fill="none" stroke="#000000" stroke-width="3.6" stroke-linecap="round" stroke-linejoin="round" stroke-dasharray="11.4 8.6 1 9.3"/>
<text x="655.5" y="1064" font-size="28.4" textLength="140.4" lengthAdjust="spacingAndGlyphs">CFM 4x4-2</text>
<path d="M584.7 1090.5H647.7" fill="none" stroke="#0000ff" stroke-width="2.7" stroke-linecap="butt" stroke-linejoin="round" stroke-dasharray="2.6 2.7"/>
<text x="655.5" y="1100.8" font-size="28.4" textLength="140.4" lengthAdjust="spacingAndGlyphs">CFM 4x4-3</text>
<path d="M584.7 1126.2H647.7" fill="none" stroke="#006e00" stroke-width="3.6" stroke-linecap="round" stroke-linejoin="round" stroke-dasharray="8.4 16"/>
<text x="655.5" y="1136.5" font-size="28.4" textLength="140.4" lengthAdjust="spacingAndGlyphs">CFM 4x4-4</text>
<path d="M584.7 1163.1H647.7" fill="none" stroke="#ff00ff" stroke-width="4" stroke-linecap="round" stroke-linejoin="round" stroke-dasharray="2.4 8.5"/>
<text x="655.5" y="1173.4" font-size="28.4" textLength="140.4" lengthAdjust="spacingAndGlyphs">CFM 4x4-5</text>
<text x="150.2" y="1235.7" font-family="'Liberation Serif', 'Times New Roman', serif" font-weight="bold" font-size="77.4">(c)</text>
<rect x="946.5" y="703" width="679.2" height="564.8" fill="none" stroke="#000" stroke-width="3.6"/>
<path d="M946.5 1267.8H935M946.5 1212.3H940M946.5 1156.9H935M946.5 1101.4H940M946.5 1046H935M946.5 990.5H940M946.5 935H935M946.5 879.6H940M946.5 824.1H935M946.5 768.7H940M946.5 713.2H935M946.5 1267.8V1279.3M1031.4 1267.8V1274.3M1116.3 1267.8V1279.3M1201.2 1267.8V1274.3M1286.1 1267.8V1279.3M1371 1267.8V1274.3M1455.9 1267.8V1279.3M1540.8 1267.8V1274.3M1625.7 1267.8V1279.3" stroke="#000" stroke-width="3.4" fill="none"/>
<g font-size="31" fill="#000"><text x="927" y="1276" text-anchor="end">0.0</text><text x="927" y="1165.1" text-anchor="end">0.2</text><text x="927" y="1054.2" text-anchor="end">0.4</text><text x="927" y="943.2" text-anchor="end">0.6</text><text x="927" y="832.3" text-anchor="end">0.8</text><text x="927" y="721.4" text-anchor="end">1.0</text><text x="946.8" y="1310.8" text-anchor="middle">15</text><text x="1116.6" y="1310.8" text-anchor="middle">20</text><text x="1286.4" y="1310.8" text-anchor="middle">25</text><text x="1456.2" y="1310.8" text-anchor="middle">30</text><text x="1626" y="1310.8" text-anchor="middle">35</text></g>
<text x="1151.8" y="1355.6" font-size="33.3" textLength="269.6" lengthAdjust="spacingAndGlyphs">Frequency (GHz)</text>
<text transform="translate(860.8 1072.2) rotate(-90)" font-size="35" textLength="164.5" lengthAdjust="spacingAndGlyphs">Absorption</text>
<path d="M1398.8 1021.2H1465.2" fill="none" stroke="#ff0000" stroke-width="6.6" stroke-linecap="round" stroke-linejoin="round"/>
<text x="1473" y="1031.5" font-size="29.3" textLength="145.3" lengthAdjust="spacingAndGlyphs">CFM 6x6-1</text>
<path d="M1398.8 1056.9H1451" fill="none" stroke="#000000" stroke-width="3.6" stroke-linecap="round" stroke-linejoin="round" stroke-dasharray="11.4 8.6 1 9.3"/>
<text x="1473" y="1067.2" font-size="29.3" textLength="145.3" lengthAdjust="spacingAndGlyphs">CFM 6x6-2</text>
<path d="M1398.8 1092.9H1465.2" fill="none" stroke="#0000ff" stroke-width="2.7" stroke-linecap="butt" stroke-linejoin="round" stroke-dasharray="2.6 2.7"/>
<text x="1473" y="1103.2" font-size="29.3" textLength="145.3" lengthAdjust="spacingAndGlyphs">CFM 6x6-3</text>
<path d="M1398.8 1128.4H1465.2" fill="none" stroke="#006e00" stroke-width="3.6" stroke-linecap="round" stroke-linejoin="round" stroke-dasharray="8.4 16"/>
<text x="1473" y="1138.7" font-size="29.3" textLength="145.3" lengthAdjust="spacingAndGlyphs">CFM 6x6-4</text>
<path d="M1398.8 1165.2H1465.2" fill="none" stroke="#ff00ff" stroke-width="4" stroke-linecap="round" stroke-linejoin="round" stroke-dasharray="2.4 8.5"/>
<text x="1473" y="1175.5" font-size="29.3" textLength="145.3" lengthAdjust="spacingAndGlyphs">CFM 6x6-5</text>
<text x="966.5" y="1235.3" font-family="'Liberation Serif', 'Times New Roman', serif" font-weight="bold" font-size="77.4">(d)</text>
</svg>
</body></html>
